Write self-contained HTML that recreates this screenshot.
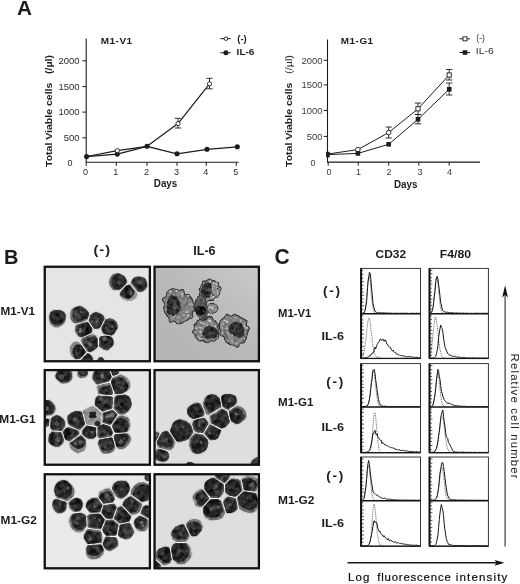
<!DOCTYPE html>
<html lang="en">
<head>
<meta charset="utf-8">
<title>Figure</title>
<style>
html,body{margin:0;padding:0;background:#fff;}
body{width:520px;height:584px;overflow:hidden;font-family:'Liberation Sans', Arial, sans-serif;}
svg{display:block;}
svg text{font-family:"Liberation Sans",Arial,sans-serif;}
</style>
</head>
<body>
<svg width="520" height="584" viewBox="0 0 520 584">
<defs>
<filter id="soft" x="-5%" y="-5%" width="110%" height="110%"><feGaussianBlur stdDeviation="0.45"/></filter>
<linearGradient id="bg2" x1="0" y1="1" x2="1" y2="0"><stop offset="0" stop-color="#b4b4b4"/><stop offset="0.55" stop-color="#bababa"/><stop offset="1" stop-color="#cacaca"/></linearGradient>
<filter id="tex2" x="-2%" y="-2%" width="104%" height="104%" color-interpolation-filters="sRGB">
<feGaussianBlur in="SourceGraphic" stdDeviation="0.4" result="b"/>
<feTurbulence type="fractalNoise" baseFrequency="0.3" numOctaves="2" seed="9" result="n"/>
<feColorMatrix in="n" type="matrix" values="1 0 0 0 0 1 0 0 0 0 1 0 0 0 0 0 0 0 0 1" result="g"/>
<feComposite in="b" in2="g" operator="arithmetic" k1="0" k2="1" k3="0.36" k4="-0.18" result="m"/>
<feComposite in="m" in2="b" operator="in"/>
</filter>
<filter id="tex" x="0" y="0" width="100%" height="100%" color-interpolation-filters="sRGB">
<feGaussianBlur in="SourceGraphic" stdDeviation="0.55" result="b"/>
<feTurbulence type="fractalNoise" baseFrequency="0.2" numOctaves="2" seed="4" result="n"/>
<feColorMatrix in="n" type="matrix" values="1 0 0 0 0 1 0 0 0 0 1 0 0 0 0 0 0 0 0 1" result="g"/>
<feComposite in="b" in2="g" operator="arithmetic" k1="0" k2="1" k3="0.4" k4="-0.2" result="m"/>
<feComposite in="m" in2="b" operator="in"/>
</filter>
</defs>
<rect width="520" height="584" fill="#fff"/>
<text transform="translate(17.1 15) scale(0.989 1)" font-size="21" font-weight="bold" fill="#1c1c1c">A</text>
<path d="M86.2 38.5V162.3H238.5" fill="none" stroke="#1c1c1c" stroke-width="1.1"/>
<path d="M82.4 60.8H86.2" stroke="#1c1c1c" stroke-width="1"/>
<text transform="translate(79.60000000000001 64.0) scale(1.040 1)" font-size="9.1" text-anchor="end" fill="#2a2a2a">2000</text>
<path d="M82.4 86.6H86.2" stroke="#1c1c1c" stroke-width="1"/>
<text transform="translate(79.60000000000001 89.8) scale(1.040 1)" font-size="9.1" text-anchor="end" fill="#2a2a2a">1500</text>
<path d="M82.4 112.1H86.2" stroke="#1c1c1c" stroke-width="1"/>
<text transform="translate(79.60000000000001 115.3) scale(1.040 1)" font-size="9.1" text-anchor="end" fill="#2a2a2a">1000</text>
<path d="M82.4 137.8H86.2" stroke="#1c1c1c" stroke-width="1"/>
<text transform="translate(79.60000000000001 141.0) scale(1.040 1)" font-size="9.1" text-anchor="end" fill="#2a2a2a">500</text>
<text transform="translate(72.60000000000001 166.3)" font-size="9" text-anchor="end" fill="#2a2a2a">0</text>
<path d="M86.2 162.3V165.9" stroke="#1c1c1c" stroke-width="1"/>
<text transform="translate(85.60000000000001 174.9)" font-size="9" text-anchor="middle" fill="#2a2a2a">0</text>
<path d="M116.3 162.3V165.9" stroke="#1c1c1c" stroke-width="1"/>
<text transform="translate(115.7 174.9)" font-size="9" text-anchor="middle" fill="#2a2a2a">1</text>
<path d="M147 162.3V165.9" stroke="#1c1c1c" stroke-width="1"/>
<text transform="translate(146.4 174.9)" font-size="9" text-anchor="middle" fill="#2a2a2a">2</text>
<path d="M177 162.3V165.9" stroke="#1c1c1c" stroke-width="1"/>
<text transform="translate(176.4 174.9)" font-size="9" text-anchor="middle" fill="#2a2a2a">3</text>
<path d="M206.3 162.3V165.9" stroke="#1c1c1c" stroke-width="1"/>
<text transform="translate(205.70000000000002 174.9)" font-size="9" text-anchor="middle" fill="#2a2a2a">4</text>
<path d="M236.3 162.3V165.9" stroke="#1c1c1c" stroke-width="1"/>
<text transform="translate(235.70000000000002 174.9)" font-size="9" text-anchor="middle" fill="#2a2a2a">5</text>
<text transform="translate(100.7 44.1) scale(1.072 1)" font-size="9.3" font-weight="bold" letter-spacing="0.5" fill="#1c1c1c">M1-V1</text>
<text transform="translate(153.8 186.9) scale(0.983 1)" font-size="10" font-weight="bold" fill="#1c1c1c">Days</text>
<text transform="translate(52 167) rotate(-90) scale(1.109 1)" font-size="9.5" font-weight="bold" fill="#1c1c1c">Total Viable cells</text>
<text transform="translate(52 74) rotate(-90) scale(1.174 1)" font-size="9" font-weight="bold" fill="#1c1c1c">(/µl)</text>
<path d="M86.6 156.5L117.3 150.7L147 146.3L178 123.6L209.5 83.8" fill="none" stroke="#1c1c1c" stroke-width="1.2" stroke-linejoin="round"/>
<path d="M86.6 156.6L117.3 154.1L147 146.3L177 153.8L207 149.3L237.3 146.8" fill="none" stroke="#1c1c1c" stroke-width="1.2" stroke-linejoin="round"/>
<path d="M178 118.3V128M174.8 118.3H181.2M174.8 128H181.2" stroke="#1c1c1c" stroke-width="0.9" fill="none"/>
<path d="M209.5 78.3V88.8M206.3 78.3H212.7M206.3 88.8H212.7" stroke="#1c1c1c" stroke-width="0.9" fill="none"/>
<circle cx="86.6" cy="156.6" r="2.55" fill="#1c1c1c"/>
<circle cx="117.3" cy="154.1" r="2.55" fill="#1c1c1c"/>
<circle cx="147" cy="146.3" r="2.55" fill="#1c1c1c"/>
<circle cx="177" cy="153.8" r="2.55" fill="#1c1c1c"/>
<circle cx="207" cy="149.3" r="2.55" fill="#1c1c1c"/>
<circle cx="237.3" cy="146.8" r="2.55" fill="#1c1c1c"/>
<circle cx="117.3" cy="150.7" r="2.1" fill="#fff" stroke="#1c1c1c" stroke-width="0.9"/>
<circle cx="178" cy="123.6" r="2.1" fill="#fff" stroke="#1c1c1c" stroke-width="0.9"/>
<circle cx="209.5" cy="83.8" r="2.1" fill="#fff" stroke="#1c1c1c" stroke-width="0.9"/>
<path d="M220.3 38.7H230.8M220.3 52.8H230.8" stroke="#1c1c1c" stroke-width="1"/>
<circle cx="225.9" cy="38.7" r="1.8000000000000003" fill="#fff" stroke="#1c1c1c" stroke-width="0.9"/>
<circle cx="225.9" cy="52.8" r="2.5" fill="#1c1c1c"/>
<text transform="translate(237.2 41.6) scale(1.011 1)" font-size="9.5" font-weight="bold" fill="#1c1c1c">(-)</text>
<text transform="translate(236.6 55.3) scale(1.054 1)" font-size="9.5" font-weight="bold" fill="#1c1c1c">IL-6</text>
<path d="M327.5 39.5V162.1H480" fill="none" stroke="#1c1c1c" stroke-width="1.1"/>
<path d="M323.7 60.3H327.5" stroke="#1c1c1c" stroke-width="1"/>
<text transform="translate(322.5 63.5) scale(1.040 1)" font-size="9.1" text-anchor="end" fill="#3c3c3c">2000</text>
<path d="M323.7 84.9H327.5" stroke="#1c1c1c" stroke-width="1"/>
<text transform="translate(322.5 88.10000000000001) scale(1.040 1)" font-size="9.1" text-anchor="end" fill="#3c3c3c">1500</text>
<path d="M323.7 110.4H327.5" stroke="#1c1c1c" stroke-width="1"/>
<text transform="translate(322.5 113.60000000000001) scale(1.040 1)" font-size="9.1" text-anchor="end" fill="#3c3c3c">1000</text>
<path d="M323.7 136.4H327.5" stroke="#1c1c1c" stroke-width="1"/>
<text transform="translate(322.5 139.6) scale(1.040 1)" font-size="9.1" text-anchor="end" fill="#3c3c3c">500</text>
<text transform="translate(315.5 165.5)" font-size="9" text-anchor="end" fill="#3c3c3c">0</text>
<path d="M328.2 162.1V165.7" stroke="#1c1c1c" stroke-width="1"/>
<text transform="translate(328.9 174.9)" font-size="9" text-anchor="middle" fill="#3c3c3c">0</text>
<path d="M358.2 162.1V165.7" stroke="#1c1c1c" stroke-width="1"/>
<text transform="translate(358.4 174.9)" font-size="9" text-anchor="middle" fill="#3c3c3c">1</text>
<path d="M388.7 162.1V165.7" stroke="#1c1c1c" stroke-width="1"/>
<text transform="translate(389 174.9)" font-size="9" text-anchor="middle" fill="#3c3c3c">2</text>
<path d="M418.8 162.1V165.7" stroke="#1c1c1c" stroke-width="1"/>
<text transform="translate(420 174.9)" font-size="9" text-anchor="middle" fill="#3c3c3c">3</text>
<path d="M449.2 162.1V165.7" stroke="#1c1c1c" stroke-width="1"/>
<text transform="translate(449.6 174.9)" font-size="9" text-anchor="middle" fill="#3c3c3c">4</text>
<text transform="translate(340.8 44.1) scale(1.062 1)" font-size="9.3" font-weight="bold" letter-spacing="0.5" fill="#1c1c1c">M1-G1</text>
<text transform="translate(394 187.5) scale(0.983 1)" font-size="10" font-weight="bold" fill="#1c1c1c">Days</text>
<text transform="translate(291.5 167) rotate(-90) scale(1.109 1)" font-size="9.5" font-weight="bold" fill="#1c1c1c">Total Viable cells</text>
<text transform="translate(291.5 74) rotate(-90) scale(1.212 1)" font-size="9" fill="#1c1c1c">(/µl)</text>
<path d="M327.9 154L357.9 149.6L388.7 132.5L418 108.8L449.2 75" fill="none" stroke="#1c1c1c" stroke-width="1.0" stroke-linejoin="round"/>
<path d="M327.9 154.6L357.9 153.4L388.7 144.3L418 119.3L449.2 89.3" fill="none" stroke="#1c1c1c" stroke-width="1.0" stroke-linejoin="round"/>
<path d="M388.7 127V138M385.5 127H391.9M385.5 138H391.9" stroke="#1c1c1c" stroke-width="0.9" fill="none"/>
<path d="M418 103V114.5M414.8 103H421.2M414.8 114.5H421.2" stroke="#1c1c1c" stroke-width="0.9" fill="none"/>
<path d="M449.2 69.5V80M446.0 69.5H452.4M446.0 80H452.4" stroke="#1c1c1c" stroke-width="0.9" fill="none"/>
<path d="M418 114.5V123.8M414.8 114.5H421.2M414.8 123.8H421.2" stroke="#1c1c1c" stroke-width="0.9" fill="none"/>
<path d="M449.2 83V95M446.0 83H452.4M446.0 95H452.4" stroke="#1c1c1c" stroke-width="0.9" fill="none"/>
<circle cx="357.9" cy="149.6" r="2.3000000000000003" fill="#fff" stroke="#1c1c1c" stroke-width="0.9"/>
<circle cx="388.7" cy="132.5" r="2.3000000000000003" fill="#fff" stroke="#1c1c1c" stroke-width="0.9"/>
<rect x="415.9" y="106.7" width="4.2" height="4.2" fill="#fff" stroke="#1c1c1c" stroke-width="0.9"/>
<rect x="447.09999999999997" y="72.9" width="4.2" height="4.2" fill="#fff" stroke="#1c1c1c" stroke-width="0.9"/>
<rect x="355.59999999999997" y="151.1" width="4.6" height="4.6" fill="#1c1c1c"/>
<rect x="386.4" y="142.0" width="4.6" height="4.6" fill="#1c1c1c"/>
<rect x="415.7" y="117.0" width="4.6" height="4.6" fill="#1c1c1c"/>
<rect x="446.9" y="87.0" width="4.6" height="4.6" fill="#1c1c1c"/>
<rect x="326.1" y="151.8" width="3.6" height="5.6" fill="#1c1c1c"/>
<path d="M459.5 38.8H470M459.5 52.5H470" stroke="#1c1c1c" stroke-width="1"/>
<rect x="463.0" y="36.8" width="4.0" height="4.0" fill="#fff" stroke="#1c1c1c" stroke-width="0.9"/>
<rect x="462.7" y="50.2" width="4.6" height="4.6" fill="#1c1c1c"/>
<text transform="translate(476.3 41.2) scale(0.967 1)" font-size="9" fill="#333">(-)</text>
<text transform="translate(475.8 54.2) scale(1.100 1)" font-size="9.5" fill="#333">IL-6</text>
<text transform="translate(4.1 264.1)" font-size="20" font-weight="bold" fill="#1c1c1c">B</text>
<text transform="translate(93.4 254.1) scale(1.072 1)" font-size="13.5" font-weight="bold" letter-spacing="1" fill="#1c1c1c">(-)</text>
<text transform="translate(193.2 255) scale(1.050 1)" font-size="12" font-weight="bold" fill="#1c1c1c">IL-6</text>
<text transform="translate(0.6 315) scale(1.105 1)" font-size="10.6" font-weight="bold" fill="#1c1c1c">M1-V1</text>
<text transform="translate(-0.7 422.5) scale(1.100 1)" font-size="10.8" font-weight="bold" fill="#1c1c1c">M1-G1</text>
<text transform="translate(0.5 524.4) scale(1.103 1)" font-size="10.8" font-weight="bold" fill="#1c1c1c">M1-G2</text>
<clipPath id="p1"><rect x="44.75" y="266.75" width="105.15" height="94.5"/></clipPath>
<rect x="44.75" y="266.75" width="105.15" height="94.5" fill="#e5e5e5"/>
<g clip-path="url(#p1)"><g filter="url(#tex)">
<path d="M126.8 283.0L126.7 280.4L126.3 278.9L125.5 277.6L124.5 276.4L123.2 275.3L120.8 273.9L119.2 273.3L117.7 273.0L116.4 273.0L114.8 273.4L113.4 274.1L112.1 275.3L110.4 277.6L109.7 278.9L109.2 280.5L109.0 282.0L109.1 283.5L109.5 285.0L110.1 286.5L110.9 287.8L111.8 288.8L113.1 289.7L114.6 290.3L116.2 290.5L119.2 290.0L120.7 289.5L126.5 283.6ZM139.1 292.4L140.5 292.4L142.1 292.0L143.4 291.3L145.4 289.5L146.4 288.2L147.0 286.9L147.4 285.5L147.4 284.1L147.2 282.7L146.2 280.2L145.4 279.1L144.4 278.1L143.3 277.4L141.8 276.8L139.3 276.4L137.8 276.4L136.3 276.6L134.9 277.0L133.9 277.6L132.8 278.6L131.9 279.9L131.3 281.2L131.0 283.3L131.3 284.0L137.8 292.0ZM120.0 292.7L119.9 294.2L120.1 295.8L120.8 297.2L121.9 298.4L124.7 299.9L127.3 300.9L128.9 301.3L130.2 301.3L131.6 301.0L133.0 300.3L134.2 299.4L136.3 297.0L137.0 295.6L137.3 294.2L137.3 293.3L137.1 292.5L130.5 284.6L130.1 284.3L129.5 284.2L127.4 284.7L126.3 285.2L120.6 290.9ZM66.2 318.3L66.2 316.7L65.8 315.0L65.2 313.5L64.2 312.3L63.0 311.2L61.6 310.6L60.2 310.1L57.3 309.8L54.2 309.9L52.9 310.3L51.5 311.1L50.4 312.3L49.6 313.7L49.1 315.1L48.9 316.8L48.9 319.6L49.3 321.0L50.6 323.7L51.7 325.1L52.8 326.1L54.2 327.0L55.8 327.4L57.5 327.5L59.0 327.0L60.3 326.3L62.6 324.5L64.5 322.5L65.3 321.2L65.9 319.8ZM88.7 312.2L87.6 310.8L85.4 308.6L82.7 306.8L81.2 306.2L79.8 306.1L78.2 306.2L76.4 306.6L74.9 307.2L73.4 308.0L72.1 309.2L71.1 310.6L70.5 312.2L70.2 313.8L70.3 317.0L70.7 318.8L71.4 320.3L72.4 321.7L73.7 322.7L76.0 323.6L76.6 323.6L86.9 320.6L87.3 320.3L87.6 319.8L89.3 314.2L89.3 313.4ZM88.5 320.2L88.6 321.1L93.6 328.4L94.3 328.8L94.9 328.9L96.6 329.0L99.3 328.4L100.2 327.7L104.6 319.0L104.7 318.3L104.0 316.3L103.0 315.1L100.7 313.3L97.9 312.2L96.6 312.1L95.1 312.1L93.7 312.5L92.4 313.2L90.2 315.1ZM101.5 329.7L102.5 332.4L103.4 333.6L104.1 334.0L111.1 335.5L111.7 335.5L113.4 334.5L114.5 333.4L116.8 329.7L117.4 328.4L117.7 326.9L117.7 325.4L117.4 323.9L116.7 322.6L114.9 320.4L113.6 319.5L112.3 318.8L110.8 318.4L109.3 318.3L107.8 318.5L106.2 319.0L105.4 319.6L101.3 327.4L101.2 328.1ZM75.0 329.1L75.5 332.1L76.2 333.7L77.1 335.0L78.1 335.9L79.5 336.8L81.1 337.5L91.0 333.4L91.6 332.8L91.9 332.1L92.3 330.6L92.4 329.1L92.2 328.0L88.1 322.0L87.5 321.6L86.9 321.6L75.8 325.0L75.2 326.2ZM87.2 351.5L88.0 352.0L89.7 352.2L91.3 351.8L92.8 351.1L95.2 349.4L96.5 348.3L97.9 346.7L98.0 346.1L97.9 338.9L96.7 336.8L95.7 335.6L94.3 334.7L92.8 334.0L91.9 334.0L82.1 338.3L81.5 339.0L80.9 341.7L81.1 342.5ZM104.6 335.6L101.8 335.9L100.4 336.5L99.2 337.7L99.0 338.3L99.0 345.4L99.3 346.2L100.3 347.3L103.2 349.6L104.6 350.3L105.6 350.5L107.0 350.4L108.4 349.9L109.7 349.1L111.5 347.5L112.5 346.4L113.2 345.2L113.7 343.9L113.8 342.5L113.7 341.3L113.2 339.8L112.6 338.6L111.7 337.5L110.7 336.6L109.9 336.3L107.1 335.7ZM78.1 341.8L76.6 341.6L75.0 341.8L73.5 342.5L72.3 343.5L71.3 344.7L70.5 346.1L70.0 347.5L69.8 348.9L69.8 350.6L70.5 353.2L71.6 355.8L72.4 357.0L73.5 358.1L74.8 358.9L76.6 359.4L78.1 359.3L79.6 359.0L80.5 358.6L86.2 352.5L86.1 351.5L80.1 342.7L79.6 342.3ZM81.7 358.7L81.4 359.6L82.2 362.5L83.5 364.2L85.1 365.1L88.3 365.6L90.4 365.1L91.5 364.3L92.6 362.5L93.1 359.6L92.7 357.4L92.3 356.5L91.0 355.0L89.5 353.7L88.5 353.3L87.3 353.2L86.8 353.4ZM104.2 361.0L103.8 359.2L103.1 358.1L101.8 357.3L99.9 357.0L99.0 357.3L98.0 358.2L96.9 360.3L96.6 361.5L97.1 362.9L97.9 363.9L99.0 364.7L100.4 364.9L102.3 364.3L103.4 363.6L104.1 362.5Z" fill="#f6f6f6" stroke="#f6f6f6" stroke-width="1.5" stroke-linejoin="round"/>
<path d="M126.8 283.0L126.7 280.4L126.3 278.9L125.5 277.6L124.5 276.4L123.2 275.3L120.8 273.9L119.2 273.3L117.7 273.0L116.4 273.0L114.8 273.4L113.4 274.1L112.1 275.3L110.4 277.6L109.7 278.9L109.2 280.5L109.0 282.0L109.1 283.5L109.5 285.0L110.1 286.5L110.9 287.8L111.8 288.8L113.1 289.7L114.6 290.3L116.2 290.5L119.2 290.0L120.7 289.5L126.5 283.6Z" fill="#666"/>
<path d="M119.2 273.8L118.0 273.8L116.7 274.2L115.5 274.8L114.4 275.8L112.7 278.0L112.0 279.2L111.6 280.7L111.4 282.1L111.5 283.4L112.4 286.1L113.1 287.3L114.0 288.3L115.1 289.0L116.4 289.5L117.8 289.6L120.6 289.2L126.2 283.5L126.5 282.8L126.4 280.4L126.0 279.0L125.3 277.7L124.3 276.6L123.0 275.6L120.6 274.2Z" fill="#282828"/>
<ellipse cx="121.0" cy="283.1" rx="1.4" ry="1.0" fill="#4c4c4c" transform="rotate(127 121.0 283.1)"/>
<ellipse cx="119.5" cy="282.9" rx="2.0" ry="1.8" fill="#4c4c4c" transform="rotate(140 119.5 282.9)"/>
<ellipse cx="117.5" cy="283.7" rx="1.7" ry="1.7" fill="#181818" transform="rotate(38 117.5 283.7)"/>
<ellipse cx="118.4" cy="282.2" rx="2.1" ry="1.7" fill="#424242" transform="rotate(150 118.4 282.2)"/>
<path d="M139.1 292.4L140.5 292.4L142.1 292.0L143.4 291.3L145.4 289.5L146.4 288.2L147.0 286.9L147.4 285.5L147.4 284.1L147.2 282.7L146.2 280.2L145.4 279.1L144.4 278.1L143.3 277.4L141.8 276.8L139.3 276.4L137.8 276.4L136.3 276.6L134.9 277.0L133.9 277.6L132.8 278.6L131.9 279.9L131.3 281.2L131.0 283.3L131.3 284.0L137.8 292.0Z" fill="#525252"/>
<path d="M140.5 290.9L141.9 290.5L143.1 289.9L144.9 288.3L145.8 287.2L146.4 286.0L146.7 284.8L146.8 283.4L146.6 282.1L145.7 280.1L145.2 279.3L144.2 278.3L143.1 277.6L141.7 277.0L139.2 276.7L136.4 276.9L135.1 277.3L133.5 278.4L132.8 279.5L132.2 280.8L132.0 282.4L132.1 282.8L138.4 290.5L139.3 290.9Z" fill="#2e2e2e"/>
<ellipse cx="138.2" cy="283.4" rx="1.4" ry="1.1" fill="#3a3a3a" transform="rotate(158 138.2 283.4)"/>
<ellipse cx="137.5" cy="281.7" rx="1.8" ry="1.7" fill="#3a3a3a" transform="rotate(174 137.5 281.7)"/>
<ellipse cx="139.7" cy="282.7" rx="1.8" ry="1.4" fill="#424242" transform="rotate(102 139.7 282.7)"/>
<path d="M120.0 292.7L119.9 294.2L120.1 295.8L120.8 297.2L121.9 298.4L124.7 299.9L127.3 300.9L128.9 301.3L130.2 301.3L131.6 301.0L133.0 300.3L134.2 299.4L136.3 297.0L137.0 295.6L137.3 294.2L137.3 293.3L137.1 292.5L130.5 284.6L130.1 284.3L129.5 284.2L127.4 284.7L126.3 285.2L120.6 290.9Z" fill="#9a9a9a"/>
<path d="M120.4 295.6L120.7 296.0L123.2 297.3L125.7 298.3L127.2 298.7L128.3 298.7L129.5 298.4L130.7 297.8L131.8 297.0L133.7 294.8L134.4 293.5L134.7 291.5L134.5 291.0L129.4 284.8L128.9 284.7L127.6 285.0L126.4 285.5L121.0 291.0L120.3 292.8L120.2 294.2Z" fill="#2a2a2a"/>
<ellipse cx="130.8" cy="294.4" rx="1.3" ry="0.9" fill="#606060" transform="rotate(25 130.8 294.4)"/>
<ellipse cx="131.3" cy="292.0" rx="1.3" ry="1.1" fill="#4c4c4c" transform="rotate(38 131.3 292.0)"/>
<ellipse cx="126.1" cy="289.7" rx="2.0" ry="1.3" fill="#181818" transform="rotate(124 126.1 289.7)"/>
<path d="M66.2 318.3L66.2 316.7L65.8 315.0L65.2 313.5L64.2 312.3L63.0 311.2L61.6 310.6L60.2 310.1L57.3 309.8L54.2 309.9L52.9 310.3L51.5 311.1L50.4 312.3L49.6 313.7L49.1 315.1L48.9 316.8L48.9 319.6L49.3 321.0L50.6 323.7L51.7 325.1L52.8 326.1L54.2 327.0L55.8 327.4L57.5 327.5L59.0 327.0L60.3 326.3L62.6 324.5L64.5 322.5L65.3 321.2L65.9 319.8Z" fill="#6a6a6a"/>
<path d="M65.7 315.9L64.9 313.7L64.0 312.5L62.9 311.5L61.5 310.9L60.1 310.4L57.4 310.1L54.3 310.2L53.1 310.6L51.8 311.3L50.6 312.6L49.9 315.2L50.0 318.0L50.3 319.2L51.5 321.7L52.5 323.0L53.6 323.9L54.9 324.7L56.3 325.1L57.7 325.1L59.0 324.7L60.2 324.0L62.3 322.4L64.1 320.4L64.9 319.3L65.4 318.1Z" fill="#282828"/>
<ellipse cx="57.3" cy="314.9" rx="1.9" ry="1.2" fill="#1c1c1c" transform="rotate(5 57.3 314.9)"/>
<ellipse cx="58.5" cy="322.2" rx="1.7" ry="1.4" fill="#1c1c1c" transform="rotate(6 58.5 322.2)"/>
<path d="M88.7 312.2L87.6 310.8L85.4 308.6L82.7 306.8L81.2 306.2L79.8 306.1L78.2 306.2L76.4 306.6L74.9 307.2L73.4 308.0L72.1 309.2L71.1 310.6L70.5 312.2L70.2 313.8L70.3 317.0L70.7 318.8L71.4 320.3L72.4 321.7L73.7 322.7L76.0 323.6L76.6 323.6L86.9 320.6L87.3 320.3L87.6 319.8L89.3 314.2L89.3 313.4Z" fill="#707070"/>
<path d="M74.2 308.3L73.3 309.5L72.7 311.0L72.5 312.5L72.6 315.4L72.9 317.1L73.5 318.5L74.4 319.6L75.5 320.5L77.5 321.4L78.0 321.4L87.7 318.5L89.0 314.2L89.0 313.6L88.4 312.4L87.4 311.0L85.2 308.9L82.5 307.0L81.2 306.5L79.8 306.4L78.2 306.5L76.5 306.9L75.2 307.4Z" fill="#2e2e2e"/>
<ellipse cx="75.4" cy="314.9" rx="1.7" ry="1.4" fill="#4c4c4c" transform="rotate(128 75.4 314.9)"/>
<ellipse cx="79.2" cy="316.3" rx="2.3" ry="2.2" fill="#3a3a3a" transform="rotate(61 79.2 316.3)"/>
<ellipse cx="81.2" cy="312.2" rx="1.5" ry="1.2" fill="#606060" transform="rotate(7 81.2 312.2)"/>
<path d="M88.5 320.2L88.6 321.1L93.6 328.4L94.3 328.8L94.9 328.9L96.6 329.0L99.3 328.4L100.2 327.7L104.6 319.0L104.7 318.3L104.0 316.3L103.0 315.1L100.7 313.3L97.9 312.2L96.6 312.1L95.1 312.1L93.7 312.5L92.4 313.2L90.2 315.1Z" fill="#4a4a4a"/>
<path d="M90.1 320.6L94.8 327.6L95.7 328.0L97.3 328.0L99.6 327.5L100.1 327.1L104.3 319.0L104.3 318.2L103.7 316.6L102.9 315.4L100.9 313.9L98.3 312.9L96.0 312.8L93.6 313.7L91.7 315.3L90.1 320.0Z" fill="#2e2e2e"/>
<ellipse cx="92.8" cy="321.8" rx="2.6" ry="1.6" fill="#585858" transform="rotate(26 92.8 321.8)"/>
<ellipse cx="96.6" cy="321.3" rx="1.5" ry="1.5" fill="#606060" transform="rotate(156 96.6 321.3)"/>
<ellipse cx="97.6" cy="318.8" rx="2.1" ry="1.8" fill="#3a3a3a" transform="rotate(169 97.6 318.8)"/>
<path d="M101.5 329.7L102.5 332.4L103.4 333.6L104.1 334.0L111.1 335.5L111.7 335.5L113.4 334.5L114.5 333.4L116.8 329.7L117.4 328.4L117.7 326.9L117.7 325.4L117.4 323.9L116.7 322.6L114.9 320.4L113.6 319.5L112.3 318.8L110.8 318.4L109.3 318.3L107.8 318.5L106.2 319.0L105.4 319.6L101.3 327.4L101.2 328.1Z" fill="#4a4a4a"/>
<path d="M115.8 330.6L116.7 328.0L116.7 326.7L116.4 325.4L115.8 324.2L114.1 322.2L113.0 321.4L111.7 320.7L110.4 320.4L107.7 320.5L106.4 320.8L105.8 321.2L101.8 329.2L101.9 330.0L102.8 332.2L103.7 333.5L104.3 333.8L111.0 335.2L111.7 335.1L113.3 334.2L114.0 333.4Z" fill="#282828"/>
<ellipse cx="110.6" cy="325.8" rx="2.1" ry="1.9" fill="#424242" transform="rotate(101 110.6 325.8)"/>
<ellipse cx="106.1" cy="327.7" rx="1.3" ry="0.9" fill="#4c4c4c" transform="rotate(32 106.1 327.7)"/>
<ellipse cx="111.7" cy="327.4" rx="1.9" ry="1.2" fill="#1c1c1c" transform="rotate(152 111.7 327.4)"/>
<ellipse cx="112.0" cy="326.7" rx="1.7" ry="1.4" fill="#606060" transform="rotate(5 112.0 326.7)"/>
<path d="M75.0 329.1L75.5 332.1L76.2 333.7L77.1 335.0L78.1 335.9L79.5 336.8L81.1 337.5L91.0 333.4L91.6 332.8L91.9 332.1L92.3 330.6L92.4 329.1L92.2 328.0L88.1 322.0L87.5 321.6L86.9 321.6L75.8 325.0L75.2 326.2Z" fill="#4a4a4a"/>
<path d="M77.6 332.1L78.2 333.5L79.1 334.7L81.2 336.3L82.4 336.7L90.9 333.0L91.4 332.5L92.0 330.6L92.1 329.2L91.9 328.2L88.4 322.9L87.8 322.8L77.7 325.9L77.3 326.7L77.1 329.3Z" fill="#242424"/>
<ellipse cx="84.7" cy="329.1" rx="2.4" ry="1.7" fill="#424242" transform="rotate(74 84.7 329.1)"/>
<ellipse cx="80.4" cy="329.2" rx="1.7" ry="1.3" fill="#606060" transform="rotate(33 80.4 329.2)"/>
<ellipse cx="86.9" cy="330.4" rx="2.5" ry="2.0" fill="#1c1c1c" transform="rotate(132 86.9 330.4)"/>
<ellipse cx="80.2" cy="331.2" rx="1.9" ry="1.3" fill="#606060" transform="rotate(130 80.2 331.2)"/>
<path d="M87.2 351.5L88.0 352.0L89.7 352.2L91.3 351.8L92.8 351.1L95.2 349.4L96.5 348.3L97.9 346.7L98.0 346.1L97.9 338.9L96.7 336.8L95.7 335.6L94.3 334.7L92.8 334.0L91.9 334.0L82.1 338.3L81.5 339.0L80.9 341.7L81.1 342.5Z" fill="#666"/>
<path d="M97.2 338.4L96.3 337.4L95.1 336.5L93.9 336.0L93.3 336.0L83.8 340.0L83.4 340.4L82.9 342.7L83.0 343.3L88.8 351.7L89.7 351.9L91.2 351.6L92.6 350.9L96.3 348.1L97.5 346.6L97.7 346.0L97.6 339.3Z" fill="#282828"/>
<ellipse cx="90.6" cy="344.5" rx="2.2" ry="1.4" fill="#606060" transform="rotate(174 90.6 344.5)"/>
<ellipse cx="87.1" cy="342.3" rx="2.3" ry="2.2" fill="#424242" transform="rotate(14 87.1 342.3)"/>
<ellipse cx="89.6" cy="343.9" rx="2.3" ry="1.8" fill="#606060" transform="rotate(7 89.6 343.9)"/>
<path d="M104.6 335.6L101.8 335.9L100.4 336.5L99.2 337.7L99.0 338.3L99.0 345.4L99.3 346.2L100.3 347.3L103.2 349.6L104.6 350.3L105.6 350.5L107.0 350.4L108.4 349.9L109.7 349.1L111.5 347.5L112.5 346.4L113.2 345.2L113.7 343.9L113.8 342.5L113.7 341.3L113.2 339.8L112.6 338.6L111.7 337.5L110.7 336.6L109.9 336.3L107.1 335.7Z" fill="#4a4a4a"/>
<path d="M100.6 336.8L100.4 337.3L100.4 344.1L101.4 345.5L104.2 347.7L105.4 348.3L106.3 348.4L107.4 348.4L108.6 348.0L109.8 347.2L111.6 345.7L112.5 344.6L113.5 342.6L113.4 341.3L112.9 340.0L112.3 338.8L111.5 337.7L110.5 336.9L109.7 336.5L107.1 336.0L104.6 335.9L101.9 336.1Z" fill="#282828"/>
<ellipse cx="105.2" cy="341.0" rx="1.9" ry="1.6" fill="#181818" transform="rotate(63 105.2 341.0)"/>
<ellipse cx="104.7" cy="339.4" rx="2.5" ry="2.4" fill="#585858" transform="rotate(51 104.7 339.4)"/>
<ellipse cx="106.1" cy="342.2" rx="1.4" ry="1.0" fill="#181818" transform="rotate(171 106.1 342.2)"/>
<path d="M78.1 341.8L76.6 341.6L75.0 341.8L73.5 342.5L72.3 343.5L71.3 344.7L70.5 346.1L70.0 347.5L69.8 348.9L69.8 350.6L70.5 353.2L71.6 355.8L72.4 357.0L73.5 358.1L74.8 358.9L76.6 359.4L78.1 359.3L79.6 359.0L80.5 358.6L86.2 352.5L86.1 351.5L80.1 342.7L79.6 342.3Z" fill="#8a8a8a"/>
<path d="M78.5 344.3L77.0 344.5L75.7 345.1L74.6 345.9L73.1 348.2L72.4 350.8L72.5 352.4L73.1 354.7L74.2 357.2L75.2 358.6L76.5 359.1L78.1 359.0L79.4 358.8L80.2 358.4L85.9 352.4L85.8 351.6L81.3 345.0L79.8 344.4Z" fill="#282828"/>
<ellipse cx="78.5" cy="350.1" rx="2.2" ry="1.6" fill="#1c1c1c" transform="rotate(64 78.5 350.1)"/>
<ellipse cx="81.1" cy="347.7" rx="1.5" ry="1.1" fill="#424242" transform="rotate(124 81.1 347.7)"/>
<path d="M81.7 358.7L81.4 359.6L82.2 362.5L83.5 364.2L85.1 365.1L88.3 365.6L90.4 365.1L91.5 364.3L92.6 362.5L93.1 359.6L92.7 357.4L92.3 356.5L91.0 355.0L89.5 353.7L88.5 353.3L87.3 353.2L86.8 353.4Z" fill="#525252"/>
<path d="M82.4 361.3L83.5 362.7L85.0 363.6L87.7 363.9L89.6 363.5L90.5 362.8L91.3 361.3L91.8 358.7L91.5 356.9L91.1 356.2L90.0 354.8L88.6 353.7L87.2 353.6L82.1 358.7L81.9 359.4Z" fill="#2a2a2a"/>
<ellipse cx="87.0" cy="360.0" rx="1.6" ry="1.2" fill="#1c1c1c" transform="rotate(86 87.0 360.0)"/>
<ellipse cx="86.0" cy="359.1" rx="1.2" ry="1.0" fill="#585858" transform="rotate(75 86.0 359.1)"/>
<ellipse cx="87.1" cy="359.5" rx="2.6" ry="1.8" fill="#3a3a3a" transform="rotate(26 87.1 359.5)"/>
<ellipse cx="88.0" cy="359.9" rx="2.5" ry="1.7" fill="#4c4c4c" transform="rotate(33 88.0 359.9)"/>
<path d="M104.2 361.0L103.8 359.2L103.1 358.1L101.8 357.3L99.9 357.0L99.0 357.3L98.0 358.2L96.9 360.3L96.6 361.5L97.1 362.9L97.9 363.9L99.0 364.7L100.4 364.9L102.3 364.3L103.4 363.6L104.1 362.5Z" fill="#4e4e4e"/>
<path d="M100.6 357.4L100.2 357.5L99.5 358.2L98.5 359.9L98.4 361.0L98.7 362.0L99.4 362.8L100.3 363.3L101.3 363.4L102.8 363.0L103.6 362.5L103.8 362.1L103.9 361.0L103.6 359.4L102.9 358.4L101.8 357.6Z" fill="#2e2e2e"/>
<ellipse cx="100.4" cy="360.8" rx="1.3" ry="0.9" fill="#1c1c1c" transform="rotate(18 100.4 360.8)"/>
<ellipse cx="100.5" cy="361.0" rx="1.3" ry="0.8" fill="#585858" transform="rotate(56 100.5 361.0)"/>
<ellipse cx="102.0" cy="361.7" rx="1.8" ry="1.8" fill="#585858" transform="rotate(106 102.0 361.7)"/>
<ellipse cx="101.0" cy="360.8" rx="1.4" ry="1.2" fill="#606060" transform="rotate(28 101.0 360.8)"/>
</g></g>
<rect x="44.75" y="266.75" width="105.15" height="94.5" fill="none" stroke="#111" stroke-width="2.3"/>
<rect x="154.55" y="266.75" width="104.34999999999997" height="94.5" fill="url(#bg2)"/>
<g filter="url(#tex2)">
<path d="M193.1 301.7L192.1 298.8L190.1 296.3L189.2 294.8L188.1 294.3L185.9 294.7L184.8 294.3L184.6 294.2L184.2 291.8L183.5 289.9L183.0 289.6L181.6 289.6L180.0 290.3L178.6 290.0L177.0 289.5L173.6 288.9L171.7 288.9L170.2 289.7L167.4 291.6L166.5 293.3L166.3 295.5L165.5 296.9L163.3 297.7L162.3 298.8L162.2 299.3L163.1 301.3L164.5 303.4L164.5 304.9L163.9 306.4L163.8 307.9L164.1 311.1L167.1 316.2L168.4 317.3L169.0 318.8L169.3 321.4L170.4 322.6L174.3 321.1L174.5 321.1L175.6 322.2L176.9 323.6L178.5 324.0L181.8 323.3L183.2 322.5L184.5 321.4L187.3 320.3L188.6 319.2L190.1 318.6L191.9 318.1L192.2 317.9L193.0 316.8L193.0 316.4L192.4 314.2L192.3 312.5L192.4 312.2L194.1 311.3L194.7 310.7L194.3 309.2L194.0 305.9L194.3 304.0Z" fill="#828282" stroke="#383838" stroke-width="1.1" stroke-linejoin="round"/>
<circle cx="190.8" cy="304.0" r="0.5" fill="#c4c4c4"/>
<circle cx="184.0" cy="298.8" r="0.9" fill="#5a5a5a"/>
<circle cx="169.3" cy="295.3" r="0.7" fill="#c8c8c8"/>
<circle cx="186.6" cy="312.0" r="0.9" fill="#d8d8d8"/>
<circle cx="182.3" cy="294.0" r="0.9" fill="#d8d8d8"/>
<circle cx="189.3" cy="317.2" r="0.5" fill="#5a5a5a"/>
<circle cx="176.9" cy="290.7" r="0.8" fill="#c4c4c4"/>
<circle cx="188.1" cy="315.2" r="0.9" fill="#cdcdcd"/>
<circle cx="170.4" cy="291.5" r="0.6" fill="#666"/>
<circle cx="186.8" cy="297.0" r="0.8" fill="#606060"/>
<circle cx="184.4" cy="315.8" r="0.5" fill="#5a5a5a"/>
<circle cx="167.0" cy="297.8" r="0.8" fill="#666"/>
<circle cx="177.3" cy="315.8" r="0.7" fill="#5a5a5a"/>
<circle cx="171.6" cy="291.6" r="1.0" fill="#606060"/>
<circle cx="165.9" cy="301.7" r="1.0" fill="#606060"/>
<circle cx="166.8" cy="301.0" r="0.6" fill="#c8c8c8"/>
<circle cx="170.4" cy="291.2" r="1.0" fill="#d8d8d8"/>
<circle cx="171.2" cy="290.6" r="0.5" fill="#cdcdcd"/>
<circle cx="187.0" cy="303.0" r="0.9" fill="#5a5a5a"/>
<circle cx="176.9" cy="315.3" r="0.8" fill="#666"/>
<circle cx="191.8" cy="308.2" r="0.8" fill="#b4b4b4"/>
<circle cx="178.4" cy="296.6" r="0.7" fill="#606060"/>
<circle cx="188.5" cy="296.0" r="0.9" fill="#c4c4c4"/>
<circle cx="173.2" cy="291.1" r="0.8" fill="#666"/>
<circle cx="179.4" cy="316.7" r="0.6" fill="#cdcdcd"/>
<circle cx="170.3" cy="292.7" r="0.6" fill="#b4b4b4"/>
<circle cx="189.0" cy="313.5" r="0.5" fill="#606060"/>
<circle cx="166.3" cy="308.9" r="0.9" fill="#c4c4c4"/>
<circle cx="172.1" cy="293.4" r="0.8" fill="#666"/>
<circle cx="171.7" cy="318.6" r="0.6" fill="#cdcdcd"/>
<circle cx="188.8" cy="297.0" r="0.6" fill="#5a5a5a"/>
<circle cx="182.5" cy="310.3" r="0.7" fill="#606060"/>
<circle cx="173.8" cy="317.7" r="0.5" fill="#d8d8d8"/>
<circle cx="185.1" cy="295.8" r="0.6" fill="#606060"/>
<circle cx="188.6" cy="315.8" r="0.7" fill="#c4c4c4"/>
<circle cx="177.3" cy="317.1" r="0.6" fill="#c4c4c4"/>
<circle cx="188.3" cy="314.8" r="0.8" fill="#b4b4b4"/>
<circle cx="174.0" cy="316.4" r="0.8" fill="#cdcdcd"/>
<circle cx="182.5" cy="296.2" r="0.8" fill="#d8d8d8"/>
<circle cx="184.1" cy="315.2" r="0.9" fill="#cdcdcd"/>
<circle cx="168.2" cy="297.2" r="1.0" fill="#666"/>
<circle cx="169.7" cy="317.3" r="1.0" fill="#606060"/>
<path d="M180.2 304.5L180.4 303.1L179.9 301.8L179.2 300.8L178.4 299.8L177.8 298.5L176.9 297.6L176.1 295.8L174.8 295.5L173.4 295.9L171.9 294.8L170.5 295.3L169.4 296.5L168.7 298.1L167.9 299.3L167.6 300.7L167.1 302.0L167.0 303.3L167.7 304.7L166.7 305.8L166.2 307.2L166.6 308.4L166.7 309.9L166.8 311.5L167.2 313.1L168.3 314.2L169.3 315.3L170.9 315.0L172.1 315.7L173.4 316.3L174.6 314.9L175.7 314.3L176.9 313.9L178.0 313.4L178.8 312.3L179.6 311.2L180.1 309.9L180.5 308.6L181.6 307.4L180.7 305.8Z" fill="#2e2e2e"/>
<circle cx="175.0" cy="307.0" r="1.8" fill="#555"/>
<circle cx="173.5" cy="305.7" r="1.3" fill="#4c4c4c"/>
<circle cx="175.8" cy="306.6" r="1.8" fill="#4c4c4c"/>
<circle cx="174.8" cy="305.1" r="1.9" fill="#555"/>
<path d="M199.2 294.6L199.2 295.0L199.5 295.3L200.8 295.3L201.6 295.7L203.1 295.9L204.0 296.5L204.7 297.5L205.3 298.7L206.0 301.4L206.5 301.7L207.5 301.6L209.5 300.3L211.6 300.5L212.8 300.4L213.7 299.9L214.5 297.6L215.3 297.3L216.6 297.5L217.5 297.2L217.8 296.8L218.0 296.0L218.5 295.2L219.5 294.3L219.8 293.7L219.6 292.3L219.8 291.5L220.6 290.5L221.1 289.4L221.1 288.2L220.4 287.0L218.4 285.6L218.3 284.6L218.5 283.3L218.4 282.9L217.9 282.4L217.6 282.2L216.4 282.1L215.4 281.8L214.6 280.8L213.6 280.5L212.5 280.6L211.6 280.1L210.6 279.2L209.4 278.9L208.5 279.3L206.7 280.7L205.8 281.1L203.5 280.9L203.1 281.1L202.6 281.7L202.6 283.4L202.3 284.3L201.5 284.8L200.9 285.6L200.8 286.8L200.4 287.6L199.6 288.3L199.2 289.2L200.1 291.4L200.0 292.3Z" fill="#828282" stroke="#383838" stroke-width="1.1" stroke-linejoin="round"/>
<circle cx="214.7" cy="286.9" r="0.7" fill="#c4c4c4"/>
<circle cx="213.5" cy="283.5" r="1.0" fill="#c4c4c4"/>
<circle cx="216.6" cy="294.0" r="0.9" fill="#b4b4b4"/>
<circle cx="214.4" cy="288.2" r="0.9" fill="#666"/>
<circle cx="219.8" cy="288.8" r="0.7" fill="#b4b4b4"/>
<circle cx="217.2" cy="288.2" r="0.8" fill="#c8c8c8"/>
<circle cx="216.4" cy="283.9" r="0.8" fill="#d8d8d8"/>
<circle cx="217.6" cy="294.2" r="0.6" fill="#c8c8c8"/>
<circle cx="212.3" cy="291.4" r="0.9" fill="#666"/>
<circle cx="212.7" cy="297.6" r="0.9" fill="#b4b4b4"/>
<circle cx="216.8" cy="290.4" r="0.5" fill="#c4c4c4"/>
<circle cx="216.6" cy="294.6" r="0.5" fill="#5a5a5a"/>
<circle cx="207.1" cy="298.8" r="0.6" fill="#cdcdcd"/>
<circle cx="210.9" cy="298.4" r="0.6" fill="#c8c8c8"/>
<circle cx="212.0" cy="294.0" r="0.9" fill="#c8c8c8"/>
<circle cx="215.6" cy="283.9" r="0.8" fill="#666"/>
<circle cx="216.3" cy="288.1" r="1.0" fill="#666"/>
<circle cx="210.0" cy="282.6" r="0.5" fill="#c4c4c4"/>
<circle cx="212.5" cy="290.5" r="0.8" fill="#b4b4b4"/>
<circle cx="213.6" cy="282.9" r="0.6" fill="#cdcdcd"/>
<circle cx="214.1" cy="294.5" r="0.7" fill="#666"/>
<circle cx="212.4" cy="287.5" r="0.8" fill="#606060"/>
<circle cx="216.5" cy="287.8" r="0.8" fill="#cdcdcd"/>
<circle cx="215.9" cy="283.4" r="1.0" fill="#cdcdcd"/>
<circle cx="215.7" cy="295.1" r="0.6" fill="#d8d8d8"/>
<circle cx="217.0" cy="293.4" r="0.8" fill="#666"/>
<circle cx="213.3" cy="285.6" r="0.7" fill="#c8c8c8"/>
<circle cx="217.8" cy="293.0" r="0.9" fill="#c4c4c4"/>
<circle cx="211.8" cy="285.4" r="0.5" fill="#d8d8d8"/>
<circle cx="210.1" cy="281.4" r="0.8" fill="#cdcdcd"/>
<circle cx="214.3" cy="292.7" r="0.7" fill="#c4c4c4"/>
<circle cx="217.7" cy="294.0" r="0.6" fill="#c8c8c8"/>
<circle cx="211.9" cy="281.8" r="0.9" fill="#606060"/>
<circle cx="212.7" cy="295.4" r="0.9" fill="#5a5a5a"/>
<circle cx="217.9" cy="288.8" r="0.8" fill="#5a5a5a"/>
<circle cx="212.4" cy="288.1" r="0.9" fill="#d8d8d8"/>
<circle cx="212.1" cy="293.7" r="0.9" fill="#5a5a5a"/>
<circle cx="217.8" cy="289.9" r="0.8" fill="#c4c4c4"/>
<circle cx="213.5" cy="296.7" r="1.0" fill="#d8d8d8"/>
<circle cx="217.8" cy="289.3" r="0.9" fill="#5a5a5a"/>
<circle cx="217.4" cy="290.8" r="0.9" fill="#d8d8d8"/>
<circle cx="212.6" cy="293.4" r="0.7" fill="#666"/>
<path d="M206.3 298.0L207.2 297.7L208.3 297.7L209.3 297.6L210.0 296.5L210.1 295.1L211.0 294.6L211.2 293.4L211.3 292.4L211.4 291.4L211.2 290.4L211.6 289.4L211.9 288.2L211.8 287.0L211.1 286.1L211.1 284.5L210.6 283.2L209.4 282.9L208.5 282.2L207.3 282.5L206.3 282.6L205.3 282.8L204.5 283.8L204.0 285.0L203.3 285.4L202.3 285.6L202.2 286.8L201.6 287.5L201.3 287.8L201.2 288.1L201.1 288.2L201.1 288.2L201.0 288.3L200.9 288.3L200.9 288.4L200.5 289.3L200.3 289.6L200.9 291.1L200.9 291.2L200.9 291.3L201.0 291.4L201.0 291.5L200.9 292.4L200.9 292.5L200.9 292.6L200.8 292.6L200.6 293.2L200.8 293.8L200.8 294.4L200.8 294.4L200.9 294.4L201.0 294.4L201.1 294.5L201.2 294.5L201.9 294.8L203.3 295.0L203.3 295.1L203.4 295.1L203.5 295.1L203.6 295.1L203.6 295.2L204.5 295.8L204.6 295.9L204.7 295.9L204.7 296.0L205.4 297.0L205.5 297.1L205.5 297.2L206.0 298.1Z" fill="#2e2e2e"/>
<circle cx="206.3" cy="290.4" r="1.4" fill="#555"/>
<circle cx="204.8" cy="288.8" r="1.6" fill="#4c4c4c"/>
<circle cx="206.7" cy="292.8" r="1.9" fill="#1c1c1c"/>
<circle cx="209.5" cy="289.8" r="2.0" fill="#555"/>
<path d="M200.3 319.3L199.9 319.1L199.5 319.3L199.0 319.9L197.7 320.4L196.9 321.4L196.7 322.7L195.9 323.5L194.6 324.0L193.9 324.9L193.9 325.3L194.9 327.8L194.5 328.8L192.9 330.9L192.5 332.0L192.6 332.5L193.1 333.3L194.6 334.1L195.2 335.1L195.0 336.5L195.5 337.7L196.9 338.4L197.7 339.3L198.3 340.5L198.6 340.7L199.9 341.1L201.5 340.7L202.8 340.5L205.1 342.3L206.5 342.8L208.2 342.7L209.3 342.0L210.5 340.9L211.8 340.8L213.4 341.3L214.8 341.0L215.2 340.8L215.9 339.7L216.8 338.9L218.1 338.3L218.3 338.1L218.7 337.2L218.4 335.3L218.6 334.3L219.0 333.7L219.0 329.2L217.9 327.7L218.1 326.7L218.7 325.5L218.7 325.1L218.5 324.4L218.2 324.1L217.0 323.6L216.3 322.9L216.0 321.6L215.2 320.7L213.7 320.2L212.9 319.3L212.3 317.4L211.4 316.5L211.0 316.4L209.6 316.4L207.2 317.1L206.7 319.3L205.9 319.7L204.9 319.6L203.9 320.5L203.0 320.6L202.2 320.2L200.8 319.8Z" fill="#828282" stroke="#383838" stroke-width="1.1" stroke-linejoin="round"/>
<circle cx="201.9" cy="333.3" r="0.8" fill="#d8d8d8"/>
<circle cx="214.6" cy="325.8" r="0.6" fill="#5a5a5a"/>
<circle cx="202.5" cy="323.1" r="0.9" fill="#d8d8d8"/>
<circle cx="213.7" cy="325.8" r="0.7" fill="#666"/>
<circle cx="207.5" cy="325.0" r="0.8" fill="#c8c8c8"/>
<circle cx="213.1" cy="325.5" r="0.6" fill="#b4b4b4"/>
<circle cx="203.6" cy="338.3" r="0.8" fill="#606060"/>
<circle cx="196.3" cy="329.4" r="0.6" fill="#606060"/>
<circle cx="196.8" cy="324.9" r="0.9" fill="#606060"/>
<circle cx="214.8" cy="326.3" r="1.0" fill="#d8d8d8"/>
<circle cx="210.4" cy="321.1" r="0.8" fill="#c8c8c8"/>
<circle cx="201.5" cy="339.2" r="0.7" fill="#c8c8c8"/>
<circle cx="201.6" cy="323.0" r="1.0" fill="#c4c4c4"/>
<circle cx="200.3" cy="338.3" r="0.7" fill="#d8d8d8"/>
<circle cx="201.7" cy="321.8" r="0.9" fill="#606060"/>
<circle cx="201.3" cy="324.8" r="0.6" fill="#666"/>
<circle cx="209.1" cy="321.0" r="1.0" fill="#b4b4b4"/>
<circle cx="200.7" cy="335.2" r="0.7" fill="#b4b4b4"/>
<circle cx="201.0" cy="327.8" r="0.8" fill="#c4c4c4"/>
<circle cx="210.0" cy="320.5" r="0.8" fill="#d8d8d8"/>
<circle cx="202.2" cy="336.2" r="0.9" fill="#b4b4b4"/>
<circle cx="211.9" cy="320.8" r="0.8" fill="#606060"/>
<circle cx="204.5" cy="323.6" r="0.7" fill="#c8c8c8"/>
<circle cx="201.3" cy="332.4" r="0.8" fill="#b4b4b4"/>
<circle cx="200.7" cy="327.7" r="0.7" fill="#d8d8d8"/>
<circle cx="202.5" cy="336.8" r="0.9" fill="#5a5a5a"/>
<circle cx="199.5" cy="327.6" r="0.7" fill="#c4c4c4"/>
<circle cx="202.6" cy="337.2" r="0.7" fill="#5a5a5a"/>
<circle cx="214.6" cy="324.9" r="0.6" fill="#5a5a5a"/>
<circle cx="195.3" cy="333.1" r="0.6" fill="#cdcdcd"/>
<circle cx="199.4" cy="337.0" r="0.6" fill="#d8d8d8"/>
<circle cx="208.7" cy="319.8" r="0.7" fill="#c4c4c4"/>
<circle cx="202.3" cy="322.6" r="0.6" fill="#5a5a5a"/>
<circle cx="199.3" cy="330.0" r="0.5" fill="#606060"/>
<circle cx="196.3" cy="336.4" r="0.9" fill="#5a5a5a"/>
<circle cx="200.4" cy="332.0" r="0.8" fill="#cdcdcd"/>
<circle cx="202.6" cy="328.1" r="0.8" fill="#c4c4c4"/>
<circle cx="216.7" cy="337.5" r="1.0" fill="#b4b4b4"/>
<circle cx="196.2" cy="328.2" r="1.0" fill="#cdcdcd"/>
<circle cx="201.1" cy="322.6" r="0.8" fill="#cdcdcd"/>
<circle cx="199.7" cy="338.6" r="0.9" fill="#c8c8c8"/>
<circle cx="196.6" cy="330.0" r="0.8" fill="#5a5a5a"/>
<path d="M217.6 329.5L216.3 329.0L215.5 328.3L214.6 327.8L213.7 327.2L212.9 326.5L211.6 326.9L210.6 326.1L209.3 325.5L208.2 326.1L207.1 326.6L205.9 327.0L204.8 327.5L204.2 328.5L203.4 329.4L203.4 330.6L203.0 331.5L201.8 332.6L202.5 333.7L202.9 334.8L203.2 335.9L203.6 337.1L204.7 337.7L205.9 338.2L207.2 338.4L208.5 338.3L209.4 339.0L210.6 338.4L211.5 337.8L212.7 338.2L213.9 338.2L215.0 337.9L216.1 337.4L217.5 337.0L217.7 336.7L217.5 335.5L217.5 335.4L217.5 335.3L217.5 335.2L217.5 335.2L217.7 334.1L217.7 334.0L217.8 334.0L217.8 333.9L217.9 333.8L218.1 333.4L218.1 329.9Z" fill="#2e2e2e"/>
<circle cx="210.8" cy="332.2" r="1.8" fill="#555"/>
<circle cx="209.7" cy="333.0" r="1.2" fill="#4c4c4c"/>
<circle cx="211.5" cy="333.2" r="1.9" fill="#4c4c4c"/>
<circle cx="212.4" cy="329.4" r="1.1" fill="#1c1c1c"/>
<path d="M220.7 332.6L219.8 334.1L219.9 334.6L220.4 335.5L220.7 335.7L222.7 336.1L224.0 336.7L224.7 339.8L227.1 343.1L231.1 345.0L234.1 345.3L235.6 346.5L237.3 347.5L238.7 346.6L239.6 344.1L240.6 343.0L242.5 343.1L243.9 342.8L244.2 342.5L246.4 338.6L246.9 335.5L247.5 334.1L248.1 331.3L249.0 329.8L249.5 328.4L249.5 328.0L248.5 326.8L246.5 325.7L246.2 324.4L247.1 322.3L247.0 320.9L246.7 320.5L244.0 319.2L242.9 318.3L240.3 317.3L238.1 315.7L235.4 314.6L234.2 314.3L233.8 314.4L232.6 315.3L231.5 316.4L230.0 315.8L228.0 314.4L226.4 314.3L226.0 314.6L224.4 317.4L223.0 318.3L221.9 319.2L219.6 322.2L219.5 328.9L220.1 329.8L221.1 331.0Z" fill="#828282" stroke="#383838" stroke-width="1.1" stroke-linejoin="round"/>
<circle cx="244.5" cy="331.8" r="0.7" fill="#b4b4b4"/>
<circle cx="220.7" cy="327.9" r="0.8" fill="#666"/>
<circle cx="223.7" cy="320.3" r="0.9" fill="#5a5a5a"/>
<circle cx="222.2" cy="334.5" r="0.9" fill="#606060"/>
<circle cx="224.8" cy="318.8" r="0.8" fill="#5a5a5a"/>
<circle cx="243.9" cy="325.4" r="0.5" fill="#606060"/>
<circle cx="236.8" cy="342.8" r="0.8" fill="#c8c8c8"/>
<circle cx="229.2" cy="337.9" r="0.8" fill="#d8d8d8"/>
<circle cx="226.8" cy="317.2" r="0.6" fill="#b4b4b4"/>
<circle cx="228.9" cy="332.7" r="0.6" fill="#c4c4c4"/>
<circle cx="240.5" cy="320.8" r="1.0" fill="#c4c4c4"/>
<circle cx="226.3" cy="336.5" r="0.9" fill="#606060"/>
<circle cx="232.1" cy="342.2" r="0.7" fill="#c4c4c4"/>
<circle cx="227.0" cy="328.3" r="0.6" fill="#c8c8c8"/>
<circle cx="239.6" cy="321.8" r="1.0" fill="#d8d8d8"/>
<circle cx="238.5" cy="341.1" r="0.5" fill="#c4c4c4"/>
<circle cx="235.8" cy="345.0" r="0.6" fill="#cdcdcd"/>
<circle cx="228.7" cy="335.8" r="0.5" fill="#cdcdcd"/>
<circle cx="237.2" cy="345.2" r="0.6" fill="#606060"/>
<circle cx="223.5" cy="324.0" r="0.8" fill="#d8d8d8"/>
<circle cx="227.8" cy="338.7" r="1.0" fill="#666"/>
<circle cx="239.0" cy="321.0" r="0.8" fill="#c8c8c8"/>
<circle cx="226.8" cy="321.6" r="1.0" fill="#d8d8d8"/>
<circle cx="244.6" cy="326.0" r="0.8" fill="#cdcdcd"/>
<circle cx="247.6" cy="328.1" r="0.6" fill="#c8c8c8"/>
<circle cx="225.6" cy="334.6" r="1.0" fill="#666"/>
<circle cx="235.1" cy="338.8" r="0.6" fill="#606060"/>
<circle cx="222.6" cy="327.9" r="0.8" fill="#cdcdcd"/>
<circle cx="232.1" cy="340.3" r="0.7" fill="#cdcdcd"/>
<circle cx="229.2" cy="342.3" r="1.0" fill="#5a5a5a"/>
<circle cx="225.7" cy="328.4" r="0.5" fill="#c4c4c4"/>
<circle cx="244.3" cy="338.4" r="0.7" fill="#d8d8d8"/>
<circle cx="235.3" cy="317.6" r="0.8" fill="#c8c8c8"/>
<circle cx="224.2" cy="320.5" r="0.8" fill="#d8d8d8"/>
<circle cx="232.7" cy="335.0" r="0.9" fill="#c8c8c8"/>
<circle cx="221.8" cy="324.6" r="0.6" fill="#b4b4b4"/>
<circle cx="246.2" cy="328.3" r="0.8" fill="#b4b4b4"/>
<circle cx="244.0" cy="321.2" r="0.7" fill="#5a5a5a"/>
<circle cx="222.7" cy="333.2" r="0.9" fill="#c4c4c4"/>
<circle cx="247.0" cy="327.5" r="0.8" fill="#cdcdcd"/>
<circle cx="239.6" cy="320.8" r="0.9" fill="#606060"/>
<circle cx="236.5" cy="343.2" r="0.8" fill="#b4b4b4"/>
<path d="M243.6 328.5L243.3 327.5L242.8 326.6L242.6 325.4L242.1 324.3L241.4 323.3L240.1 323.1L239.2 322.3L238.1 321.1L236.8 321.8L235.6 322.0L234.4 322.2L233.2 322.6L232.0 323.0L231.1 323.9L230.4 324.9L229.7 326.0L228.1 326.8L228.4 328.3L228.8 329.6L228.6 330.9L229.2 332.1L229.9 333.1L231.1 333.8L232.1 334.3L233.1 334.7L233.6 335.8L234.7 336.2L235.8 335.9L236.8 337.2L238.1 337.7L239.5 337.8L240.8 337.5L242.0 336.8L243.2 336.0L244.2 335.0L244.8 333.7L243.9 331.9L244.4 330.8L244.6 329.6Z" fill="#2e2e2e"/>
<circle cx="236.4" cy="329.9" r="1.2" fill="#1c1c1c"/>
<circle cx="237.1" cy="329.9" r="1.2" fill="#1c1c1c"/>
<circle cx="234.8" cy="329.7" r="1.4" fill="#4c4c4c"/>
<circle cx="235.1" cy="327.2" r="1.6" fill="#4c4c4c"/>
<path d="M206.7 306.6L207.0 307.6L207.0 309.4L207.4 311.5L207.5 312.6L206.9 315.3L206.8 317.8L206.5 319.0L205.8 319.4L205.0 319.2L204.4 319.6L203.8 320.2L203.1 320.3L202.4 319.9L200.9 319.5L200.2 318.8L199.0 317.0L197.8 315.8L197.1 315.3L196.5 314.5L196.2 312.0L195.0 310.3L194.6 309.2L194.3 305.8L194.8 304.0L195.4 300.2L195.8 299.5L197.1 299.1L197.5 296.8L198.1 296.3L198.7 296.3L200.0 295.5L200.7 295.6L201.5 296.0L203.0 296.2L203.8 296.8L204.5 297.7L205.0 298.8L205.7 301.4L206.8 303.1L206.9 304.4L206.7 305.6Z" fill="#5a5a5a" stroke="#2c2c2c" stroke-width="0.9"/>
<ellipse cx="200.6" cy="310.6" rx="5.6" ry="4.8" fill="#1a1a1a"/>
<path d="M218.3 308.4L218.3 309.0L217.3 309.9L217.3 311.1L216.9 311.5L216.3 311.8L215.6 312.4L214.5 312.6L212.9 313.7L212.4 313.7L211.5 313.1L210.3 313.8L209.8 313.5L209.4 313.0L208.5 312.5L208.0 311.4L207.3 310.6L207.1 310.1L207.0 309.5L207.5 307.9L207.0 306.7L207.4 306.2L208.0 305.9L208.4 305.0L209.2 304.3L209.8 303.4L210.4 303.3L211.9 303.5L213.4 302.9L214.2 304.0L215.2 304.0L216.0 304.7L217.0 305.2L217.5 306.8Z" fill="#8c8c8c" stroke="#333" stroke-width="0.9"/>
<circle cx="212.2" cy="307.3" r="0.8" fill="#c8c8c8"/>
<circle cx="214.4" cy="308.8" r="0.8" fill="#555"/>
<circle cx="213.0" cy="308.6" r="0.8" fill="#555"/>
<circle cx="212.3" cy="308.5" r="0.8" fill="#d4d4d4"/>
<circle cx="209.7" cy="306.9" r="0.8" fill="#d4d4d4"/>
<circle cx="213.1" cy="308.7" r="0.8" fill="#c8c8c8"/>
<circle cx="215.3" cy="309.2" r="0.8" fill="#c8c8c8"/>
</g>
<rect x="154.55" y="266.75" width="104.34999999999997" height="94.5" fill="none" stroke="#111" stroke-width="2.3"/>
<clipPath id="p2"><rect x="44.75" y="370.1" width="105.15" height="94.64999999999998"/></clipPath>
<rect x="44.75" y="370.1" width="105.15" height="94.64999999999998" fill="#e7e7e7"/>
<g clip-path="url(#p2)"><g filter="url(#tex)">
<path d="M72.5 377.0L71.9 372.7L71.5 371.3L70.8 370.0L69.8 368.9L68.5 368.1L67.0 367.5L64.3 367.1L62.9 367.2L61.5 367.5L60.2 368.3L58.2 370.4L56.5 372.5L55.8 373.8L55.3 375.2L55.3 376.8L55.8 378.3L56.6 379.6L58.9 381.7L60.2 382.5L61.5 383.1L62.9 383.4L64.3 383.4L68.4 382.5L69.8 381.8L71.0 380.9L71.9 379.7L72.3 378.5ZM88.2 372.9L87.7 370.9L86.2 368.5L85.5 367.8L84.5 367.3L83.6 367.1L82.6 367.1L81.6 367.4L80.1 368.2L79.3 368.9L78.2 370.1L77.7 371.1L77.2 372.7L77.2 374.7L77.7 375.9L78.3 376.7L79.1 377.2L80.9 377.9L83.7 378.0L85.5 377.5L87.0 376.3L87.9 374.6ZM97.3 384.4L98.1 384.5L109.2 381.4L109.9 380.8L111.6 377.2L111.7 376.4L109.6 370.5L108.5 369.3L107.1 368.3L105.4 367.6L103.8 367.2L102.2 367.2L100.6 367.5L99.2 368.1L96.5 369.7L94.2 371.7L93.3 373.1L92.6 374.7L92.3 376.4L92.4 378.1L92.9 379.8L93.7 381.3L94.7 382.7L96.1 383.8ZM122.1 393.8L125.7 392.0L127.1 391.0L128.4 389.8L129.4 388.3L130.1 386.6L130.2 384.5L129.9 382.7L129.3 381.2L128.5 379.6L127.3 378.1L125.9 376.9L124.5 376.0L123.0 375.4L121.2 374.9L119.4 374.7L113.1 377.0L112.5 377.6L110.7 381.3L110.7 382.1L114.6 393.6L116.0 394.2L117.0 394.4ZM97.3 389.1L98.1 393.4L98.5 393.9L99.1 394.2L111.1 395.2L111.7 395.1L112.1 394.8L113.2 392.9L110.1 383.2L109.8 382.8L109.3 382.5L108.7 382.5L98.2 385.4L97.7 385.8L97.4 386.3L97.2 387.8ZM94.6 404.5L95.0 405.3L101.8 411.6L102.4 411.8L102.9 411.8L111.7 408.9L112.2 408.5L112.5 407.9L113.2 398.0L112.9 397.2L112.1 396.4L111.7 396.2L98.2 395.2L96.7 396.5L95.8 398.0L95.2 399.5L94.8 401.3ZM118.4 413.9L119.2 414.2L123.7 414.5L125.5 413.8L126.9 412.8L129.3 410.3L131.0 407.6L131.6 406.0L131.9 404.3L131.8 402.6L131.4 400.8L130.7 399.2L129.7 397.6L128.5 396.2L127.2 395.2L125.7 394.5L125.1 394.4L117.0 395.3L115.2 396.4L114.4 397.4L114.1 398.0L113.5 408.8ZM55.7 408.1L55.4 406.8L54.9 405.4L52.6 402.5L50.6 400.7L49.3 400.0L47.8 399.7L46.4 399.8L45.3 400.1L44.0 400.9L43.0 401.8L41.5 404.2L40.9 406.8L41.1 410.5L41.4 411.9L42.1 413.2L43.0 414.2L43.9 414.8L45.2 415.4L46.7 415.7L49.3 415.6L50.6 415.3L52.0 414.7L53.2 414.0L54.1 413.0L54.9 411.8L55.6 409.5ZM86.3 408.6L84.6 409.6L83.4 410.7L82.9 411.5L86.1 423.6L86.4 424.2L87.0 424.4L95.5 426.1L96.3 426.0L97.9 425.3L99.4 424.1L100.5 422.8L101.4 421.1L101.6 412.8L94.0 405.9L92.7 405.9L90.9 406.4ZM109.8 424.9L110.5 424.9L111.1 424.5L117.6 415.0L117.3 414.1L113.2 410.0L112.7 409.7L112.1 409.8L103.4 412.6L102.9 413.0L102.6 413.6L102.4 422.2L103.1 422.9ZM78.7 410.9L76.8 410.8L73.7 411.5L70.7 412.8L69.3 413.9L68.2 415.2L67.4 416.8L67.1 418.6L67.2 420.3L68.3 423.6L69.0 425.0L69.8 425.9L79.6 429.9L80.2 430.0L80.8 429.6L84.9 425.1L85.2 424.7L85.2 424.0L82.2 412.6L81.6 411.9L80.1 411.2ZM61.0 431.1L61.7 431.0L62.5 430.4L64.7 427.4L65.2 425.3L65.4 423.9L65.2 422.5L64.8 421.2L64.0 419.8L62.2 418.0L60.1 416.3L58.9 415.6L57.1 415.2L55.6 415.3L54.5 415.7L53.2 416.5L52.0 417.4L51.0 418.6L50.7 419.3L49.9 425.7L50.5 427.8L51.0 428.9L51.9 430.1L52.7 430.5ZM128.6 418.6L127.2 417.2L125.7 416.4L124.0 415.8L122.4 415.6L120.7 415.6L119.1 415.9L117.8 416.6L111.7 425.3L111.5 425.8L111.6 426.3L114.0 431.7L115.2 432.8L115.9 433.0L126.8 432.2L127.6 431.8L128.9 429.8L129.6 428.3L130.4 424.9L130.4 423.2L130.2 421.5L129.5 419.8ZM81.8 433.2L82.1 434.5L82.5 435.1L85.7 438.1L89.7 439.2L91.0 439.3L92.4 439.2L93.7 438.7L94.6 438.0L96.1 436.4L96.3 435.8L96.3 428.7L96.0 428.0L95.5 427.3L94.8 426.9L86.7 425.4L86.1 425.4L85.7 425.7L82.0 429.7L81.7 430.6ZM98.1 437.2L99.4 438.3L99.9 438.4L111.3 436.2L112.3 434.6L113.0 432.6L112.9 431.9L110.4 426.2L103.3 424.0L100.5 424.9L99.1 425.6L98.0 426.5L97.5 427.1L97.2 427.8L97.2 435.5L97.3 436.0ZM63.0 431.3L62.8 432.3L64.9 439.1L65.3 439.7L66.1 440.2L68.9 441.5L69.4 441.6L69.9 441.4L79.0 434.9L79.4 434.4L79.4 432.7L78.8 430.9L78.2 430.4L69.6 426.8L68.8 426.8L65.4 428.2ZM51.0 432.4L49.9 433.4L49.2 434.6L48.4 437.4L48.2 440.3L48.6 441.7L49.2 443.0L50.1 444.1L51.2 444.9L53.5 446.2L54.9 446.8L56.3 447.1L57.8 447.1L59.2 446.7L60.5 446.0L61.6 445.1L63.3 443.0L63.9 441.7L64.2 440.6L64.2 440.0L62.1 433.6L61.3 432.5L60.5 432.1L52.7 431.5L52.2 431.6ZM113.8 436.9L113.8 438.2L116.6 447.4L117.3 448.2L118.8 448.9L120.2 449.2L121.8 449.2L123.4 448.9L124.8 448.3L126.3 447.4L127.3 446.4L129.0 444.1L130.3 441.6L130.7 440.1L130.8 438.3L130.4 436.8L129.6 435.4L128.8 434.4L127.3 433.2L115.8 433.9L115.3 434.1L115.0 434.5L114.2 435.7ZM98.4 441.4L98.0 442.9L98.0 444.5L98.9 447.5L100.2 450.2L101.0 451.5L102.1 452.6L103.5 453.4L105.2 453.7L106.8 453.7L110.0 453.0L111.5 452.4L112.9 451.5L114.0 450.4L114.6 449.2L115.2 447.6L115.3 446.5L112.8 438.4L112.3 437.7L111.8 437.4L111.1 437.3L99.9 439.3L99.2 439.8ZM80.8 435.2L80.0 435.4L69.8 442.7L69.3 443.4L69.4 445.5L69.8 446.9L70.6 448.3L71.5 449.4L73.7 451.2L75.2 452.0L76.7 452.6L78.0 452.9L79.6 452.8L81.1 452.4L82.5 451.6L83.7 450.6L84.9 449.4L85.7 448.1L86.2 446.7L86.5 445.2L86.6 443.7L86.4 442.3L85.8 439.8L81.5 435.5ZM48.5 426.2L49.0 425.4L49.6 420.1L49.5 419.4L48.6 418.7L46.5 418.4L44.9 418.5L43.7 418.9L42.6 420.1L42.2 421.7L42.2 423.3L42.7 424.8L44.2 426.3L45.6 426.9L47.1 426.8ZM110.9 370.3L110.8 371.1L112.2 375.0L112.5 375.5L113.1 375.8L113.7 375.8L118.3 374.1L118.8 373.8L119.0 373.3L119.2 371.3L119.0 369.9L118.0 368.6L116.5 367.9L114.9 367.6L113.4 367.8L112.1 368.7Z" fill="#f6f6f6" stroke="#f6f6f6" stroke-width="1.5" stroke-linejoin="round"/>
<path d="M72.5 377.0L71.9 372.7L71.5 371.3L70.8 370.0L69.8 368.9L68.5 368.1L67.0 367.5L64.3 367.1L62.9 367.2L61.5 367.5L60.2 368.3L58.2 370.4L56.5 372.5L55.8 373.8L55.3 375.2L55.3 376.8L55.8 378.3L56.6 379.6L58.9 381.7L60.2 382.5L61.5 383.1L62.9 383.4L64.3 383.4L68.4 382.5L69.8 381.8L71.0 380.9L71.9 379.7L72.3 378.5Z" fill="#5a5a5a"/>
<path d="M70.2 372.1L69.8 370.8L69.2 369.7L68.3 368.7L67.2 368.0L66.4 367.7L64.2 367.4L62.9 367.5L61.7 367.8L60.3 368.6L58.4 370.5L56.7 372.7L56.1 373.9L55.6 375.2L55.6 376.7L55.9 377.6L56.4 378.4L58.4 380.2L60.9 381.5L63.2 381.8L67.2 380.9L68.4 380.4L69.4 379.6L70.2 378.5L70.6 377.6L70.8 376.1Z" fill="#242424"/>
<ellipse cx="67.2" cy="373.3" rx="2.0" ry="1.2" fill="#1c1c1c" transform="rotate(62 67.2 373.3)"/>
<ellipse cx="64.1" cy="375.3" rx="1.6" ry="1.6" fill="#3a3a3a" transform="rotate(22 64.1 375.3)"/>
<ellipse cx="61.5" cy="376.9" rx="2.6" ry="2.4" fill="#606060" transform="rotate(71 61.5 376.9)"/>
<path d="M88.2 372.9L87.7 370.9L86.2 368.5L85.5 367.8L84.5 367.3L83.6 367.1L82.6 367.1L81.6 367.4L80.1 368.2L79.3 368.9L78.2 370.1L77.7 371.1L77.2 372.7L77.2 374.7L77.7 375.9L78.3 376.7L79.1 377.2L80.9 377.9L83.7 378.0L85.5 377.5L87.0 376.3L87.9 374.6Z" fill="#606060"/>
<path d="M80.7 368.3L79.7 369.5L78.8 371.7L78.8 373.5L79.6 374.9L80.4 375.4L81.8 375.9L84.3 376.1L85.8 375.7L87.1 374.7L87.8 373.6L87.9 372.8L87.4 371.0L85.9 368.6L84.5 367.6L83.5 367.4L81.8 367.6Z" fill="#242424"/>
<ellipse cx="84.4" cy="372.0" rx="2.2" ry="2.1" fill="#3a3a3a" transform="rotate(160 84.4 372.0)"/>
<ellipse cx="82.6" cy="372.8" rx="2.2" ry="1.9" fill="#181818" transform="rotate(32 82.6 372.8)"/>
<ellipse cx="82.2" cy="372.8" rx="2.5" ry="2.3" fill="#3a3a3a" transform="rotate(66 82.2 372.8)"/>
<ellipse cx="82.9" cy="373.2" rx="2.3" ry="1.9" fill="#4c4c4c" transform="rotate(63 82.9 373.2)"/>
<path d="M97.3 384.4L98.1 384.5L109.2 381.4L109.9 380.8L111.6 377.2L111.7 376.4L109.6 370.5L108.5 369.3L107.1 368.3L105.4 367.6L103.8 367.2L102.2 367.2L100.6 367.5L99.2 368.1L96.5 369.7L94.2 371.7L93.3 373.1L92.6 374.7L92.3 376.4L92.4 378.1L92.9 379.8L93.7 381.3L94.7 382.7L96.1 383.8Z" fill="#4a4a4a"/>
<path d="M98.5 382.9L109.3 380.0L109.9 379.5L111.3 376.6L111.3 376.2L109.3 370.7L108.3 369.5L107.0 368.6L105.4 367.9L103.8 367.5L102.3 367.5L100.9 367.8L97.5 369.6L95.4 371.5L94.6 372.7L94.0 374.1L93.7 375.6L93.8 377.2L94.2 378.7L95.0 380.2L95.9 381.4L97.1 382.4Z" fill="#2a2a2a"/>
<ellipse cx="101.9" cy="376.0" rx="2.2" ry="1.9" fill="#181818" transform="rotate(60 101.9 376.0)"/>
<ellipse cx="102.3" cy="376.5" rx="2.2" ry="2.1" fill="#4c4c4c" transform="rotate(89 102.3 376.5)"/>
<ellipse cx="102.1" cy="375.9" rx="2.2" ry="1.8" fill="#606060" transform="rotate(85 102.1 375.9)"/>
<path d="M122.1 393.8L125.7 392.0L127.1 391.0L128.4 389.8L129.4 388.3L130.1 386.6L130.2 384.5L129.9 382.7L129.3 381.2L128.5 379.6L127.3 378.1L125.9 376.9L124.5 376.0L123.0 375.4L121.2 374.9L119.4 374.7L113.1 377.0L112.5 377.6L110.7 381.3L110.7 382.1L114.6 393.6L116.0 394.2L117.0 394.4Z" fill="#777"/>
<path d="M112.3 379.1L112.0 379.4L111.1 381.3L111.0 382.2L114.9 393.3L116.0 393.9L116.9 394.1L121.9 393.5L124.8 392.1L126.4 390.7L127.3 389.3L127.9 387.8L128.0 386.0L127.7 384.3L127.2 382.9L126.4 381.4L125.3 380.1L124.1 379.0L121.3 377.5L119.7 377.1L118.2 377.0Z" fill="#282828"/>
<ellipse cx="117.7" cy="383.2" rx="2.3" ry="1.6" fill="#3a3a3a" transform="rotate(176 117.7 383.2)"/>
<ellipse cx="119.2" cy="386.4" rx="1.5" ry="1.4" fill="#424242" transform="rotate(77 119.2 386.4)"/>
<ellipse cx="120.8" cy="388.0" rx="1.8" ry="1.2" fill="#424242" transform="rotate(113 120.8 388.0)"/>
<path d="M97.3 389.1L98.1 393.4L98.5 393.9L99.1 394.2L111.1 395.2L111.7 395.1L112.1 394.8L113.2 392.9L110.1 383.2L109.8 382.8L109.3 382.5L108.7 382.5L98.2 385.4L97.7 385.8L97.4 386.3L97.2 387.8Z" fill="#7a7a7a"/>
<path d="M100.1 393.6L100.6 394.0L111.1 394.9L111.8 394.7L112.8 393.0L112.8 392.6L110.3 385.0L109.8 384.9L99.8 387.7L99.6 388.0L99.4 389.2L99.5 390.4Z" fill="#2e2e2e"/>
<ellipse cx="110.2" cy="389.5" rx="2.3" ry="2.0" fill="#424242" transform="rotate(84 110.2 389.5)"/>
<ellipse cx="108.3" cy="388.9" rx="1.4" ry="1.3" fill="#181818" transform="rotate(125 108.3 388.9)"/>
<path d="M94.6 404.5L95.0 405.3L101.8 411.6L102.4 411.8L102.9 411.8L111.7 408.9L112.2 408.5L112.5 407.9L113.2 398.0L112.9 397.2L112.1 396.4L111.7 396.2L98.2 395.2L96.7 396.5L95.8 398.0L95.2 399.5L94.8 401.3Z" fill="#525252"/>
<path d="M110.0 408.1L110.4 407.6L111.0 398.1L110.9 397.6L110.5 397.1L110.1 397.0L98.0 396.0L97.0 396.7L96.1 398.1L95.5 399.6L95.1 401.4L95.0 404.6L95.3 405.2L101.3 410.7L101.8 410.8Z" fill="#2e2e2e"/>
<ellipse cx="101.3" cy="399.6" rx="2.1" ry="1.8" fill="#585858" transform="rotate(20 101.3 399.6)"/>
<ellipse cx="104.7" cy="403.1" rx="2.3" ry="1.5" fill="#3a3a3a" transform="rotate(94 104.7 403.1)"/>
<ellipse cx="105.9" cy="406.0" rx="2.4" ry="1.6" fill="#1c1c1c" transform="rotate(79 105.9 406.0)"/>
<path d="M118.4 413.9L119.2 414.2L123.7 414.5L125.5 413.8L126.9 412.8L129.3 410.3L131.0 407.6L131.6 406.0L131.9 404.3L131.8 402.6L131.4 400.8L130.7 399.2L129.7 397.6L128.5 396.2L127.2 395.2L125.7 394.5L125.1 394.4L117.0 395.3L115.2 396.4L114.4 397.4L114.1 398.0L113.5 408.8Z" fill="#606060"/>
<path d="M120.1 412.6L124.2 412.9L126.0 412.3L127.3 411.3L129.4 409.1L131.3 405.9L131.6 404.4L131.5 402.7L131.1 401.0L130.4 399.4L129.4 397.8L128.2 396.4L127.0 395.5L125.5 394.7L117.8 395.5L116.5 396.3L115.7 397.4L115.1 407.7L119.6 412.4Z" fill="#2e2e2e"/>
<ellipse cx="121.1" cy="405.9" rx="2.0" ry="1.8" fill="#585858" transform="rotate(64 121.1 405.9)"/>
<ellipse cx="121.9" cy="404.4" rx="2.0" ry="1.9" fill="#1c1c1c" transform="rotate(103 121.9 404.4)"/>
<ellipse cx="125.9" cy="401.5" rx="1.9" ry="1.7" fill="#181818" transform="rotate(76 125.9 401.5)"/>
<path d="M55.7 408.1L55.4 406.8L54.9 405.4L52.6 402.5L50.6 400.7L49.3 400.0L47.8 399.7L46.4 399.8L45.3 400.1L44.0 400.9L43.0 401.8L41.5 404.2L40.9 406.8L41.1 410.5L41.4 411.9L42.1 413.2L43.0 414.2L43.9 414.8L45.2 415.4L46.7 415.7L49.3 415.6L50.6 415.3L52.0 414.7L53.2 414.0L54.1 413.0L54.9 411.8L55.6 409.5Z" fill="#606060"/>
<path d="M54.2 406.5L53.6 405.2L51.6 402.5L49.7 400.8L47.8 400.0L46.5 400.1L45.5 400.4L44.2 401.1L43.2 402.0L41.8 404.3L41.2 406.8L41.4 409.7L41.7 411.0L42.2 412.0L43.0 412.9L43.8 413.5L44.9 414.0L46.4 414.2L48.6 414.2L49.9 413.9L51.1 413.4L52.1 412.8L53.6 410.9L54.3 408.6Z" fill="#242424"/>
<ellipse cx="44.5" cy="409.3" rx="1.3" ry="1.2" fill="#424242" transform="rotate(122 44.5 409.3)"/>
<ellipse cx="49.0" cy="410.6" rx="1.2" ry="1.0" fill="#3a3a3a" transform="rotate(130 49.0 410.6)"/>
<ellipse cx="47.0" cy="408.5" rx="2.1" ry="1.9" fill="#606060" transform="rotate(86 47.0 408.5)"/>
<path d="M86.3 408.6L84.6 409.6L83.4 410.7L82.9 411.5L86.1 423.6L86.4 424.2L87.0 424.4L95.5 426.1L96.3 426.0L97.9 425.3L99.4 424.1L100.5 422.8L101.4 421.1L101.6 412.8L94.0 405.9L92.7 405.9L90.9 406.4Z" fill="#949494"/>
<path d="M86.4 423.4L86.7 423.8L94.1 425.2L94.7 425.1L96.1 424.5L97.5 423.5L98.5 422.3L99.2 421.0L99.4 413.1L92.5 406.7L92.2 406.6L90.8 406.8L86.4 408.9L84.7 409.9L83.4 411.3L83.3 411.7Z" fill="#949494"/>
<path d="M109.8 424.9L110.5 424.9L111.1 424.5L117.6 415.0L117.3 414.1L113.2 410.0L112.7 409.7L112.1 409.8L103.4 412.6L102.9 413.0L102.6 413.6L102.4 422.2L103.1 422.9Z" fill="#525252"/>
<path d="M110.5 423.7L111.0 423.5L117.0 414.5L116.9 414.1L112.8 410.2L104.3 412.9L103.9 413.5L103.7 421.4L104.0 421.8Z" fill="#2a2a2a"/>
<ellipse cx="107.4" cy="416.1" rx="2.0" ry="1.5" fill="#606060" transform="rotate(136 107.4 416.1)"/>
<ellipse cx="112.3" cy="414.9" rx="2.6" ry="2.2" fill="#606060" transform="rotate(15 112.3 414.9)"/>
<ellipse cx="109.0" cy="415.5" rx="2.1" ry="1.8" fill="#606060" transform="rotate(94 109.0 415.5)"/>
<path d="M78.7 410.9L76.8 410.8L73.7 411.5L70.7 412.8L69.3 413.9L68.2 415.2L67.4 416.8L67.1 418.6L67.2 420.3L68.3 423.6L69.0 425.0L69.8 425.9L79.6 429.9L80.2 430.0L80.8 429.6L84.9 425.1L85.2 424.7L85.2 424.0L82.2 412.6L81.6 411.9L80.1 411.2Z" fill="#4e4e4e"/>
<path d="M69.2 414.7L68.5 416.3L68.2 417.7L68.3 419.3L69.3 422.5L69.9 423.7L70.6 424.4L80.1 428.3L80.6 428.1L84.6 423.7L84.7 423.2L81.9 412.8L81.3 412.1L80.0 411.5L78.6 411.2L76.8 411.1L73.9 411.7L70.8 413.1Z" fill="#2a2a2a"/>
<ellipse cx="77.5" cy="419.5" rx="2.2" ry="1.4" fill="#1c1c1c" transform="rotate(169 77.5 419.5)"/>
<ellipse cx="74.5" cy="419.1" rx="2.5" ry="2.0" fill="#585858" transform="rotate(144 74.5 419.1)"/>
<path d="M61.0 431.1L61.7 431.0L62.5 430.4L64.7 427.4L65.2 425.3L65.4 423.9L65.2 422.5L64.8 421.2L64.0 419.8L62.2 418.0L60.1 416.3L58.9 415.6L57.1 415.2L55.6 415.3L54.5 415.7L53.2 416.5L52.0 417.4L51.0 418.6L50.7 419.3L49.9 425.7L50.5 427.8L51.0 428.9L51.9 430.1L52.7 430.5Z" fill="#4e4e4e"/>
<path d="M61.3 429.5L62.0 429.0L64.0 426.2L64.5 424.4L64.6 423.2L64.5 421.8L64.1 420.7L63.6 419.8L62.0 418.2L60.0 416.5L58.8 415.9L57.0 415.5L55.8 415.6L54.6 416.0L52.4 417.5L51.5 418.8L50.8 424.7L51.3 426.7L51.7 427.7L52.4 428.6L53.1 429.0Z" fill="#282828"/>
<ellipse cx="56.9" cy="423.7" rx="2.4" ry="2.1" fill="#585858" transform="rotate(48 56.9 423.7)"/>
<ellipse cx="56.3" cy="423.6" rx="1.9" ry="1.5" fill="#606060" transform="rotate(138 56.3 423.6)"/>
<ellipse cx="56.9" cy="423.6" rx="1.9" ry="1.6" fill="#606060" transform="rotate(104 56.9 423.6)"/>
<path d="M128.6 418.6L127.2 417.2L125.7 416.4L124.0 415.8L122.4 415.6L120.7 415.6L119.1 415.9L117.8 416.6L111.7 425.3L111.5 425.8L111.6 426.3L114.0 431.7L115.2 432.8L115.9 433.0L126.8 432.2L127.6 431.8L128.9 429.8L129.6 428.3L130.4 424.9L130.4 423.2L130.2 421.5L129.5 419.8Z" fill="#707070"/>
<path d="M125.7 419.7L124.3 418.8L122.9 418.3L121.4 418.1L119.8 418.1L118.4 418.4L117.3 419.0L112.1 426.5L114.3 431.6L115.3 432.4L116.0 432.7L126.5 431.9L126.9 431.7L127.8 429.7L128.6 426.6L128.6 424.9L128.4 423.3L127.8 421.9L127.0 420.8Z" fill="#282828"/>
<ellipse cx="117.5" cy="421.7" rx="1.9" ry="1.8" fill="#181818" transform="rotate(100 117.5 421.7)"/>
<ellipse cx="116.3" cy="423.7" rx="1.5" ry="1.3" fill="#181818" transform="rotate(35 116.3 423.7)"/>
<path d="M81.8 433.2L82.1 434.5L82.5 435.1L85.7 438.1L89.7 439.2L91.0 439.3L92.4 439.2L93.7 438.7L94.6 438.0L96.1 436.4L96.3 435.8L96.3 428.7L96.0 428.0L95.5 427.3L94.8 426.9L86.7 425.4L86.1 425.4L85.7 425.7L82.0 429.7L81.7 430.6Z" fill="#5a5a5a"/>
<path d="M83.1 432.7L83.7 434.3L86.8 437.1L90.3 438.0L91.5 438.1L92.7 438.0L93.8 437.6L94.6 437.0L95.9 435.4L96.0 428.8L95.8 428.2L95.3 427.6L94.8 427.2L87.2 425.8L86.8 425.9L83.2 429.8L83.0 430.5Z" fill="#242424"/>
<ellipse cx="91.9" cy="432.1" rx="1.5" ry="1.0" fill="#585858" transform="rotate(34 91.9 432.1)"/>
<ellipse cx="86.5" cy="433.4" rx="2.1" ry="1.4" fill="#3a3a3a" transform="rotate(29 86.5 433.4)"/>
<path d="M98.1 437.2L99.4 438.3L99.9 438.4L111.3 436.2L112.3 434.6L113.0 432.6L112.9 431.9L110.4 426.2L103.3 424.0L100.5 424.9L99.1 425.6L98.0 426.5L97.5 427.1L97.2 427.8L97.2 435.5L97.3 436.0Z" fill="#5a5a5a"/>
<path d="M100.4 436.5L100.9 436.6L111.4 434.6L111.7 434.4L112.4 433.3L112.7 432.1L110.1 426.5L103.4 424.4L100.8 425.1L99.4 426.2L98.9 427.1L98.9 434.4L99.6 435.7Z" fill="#2a2a2a"/>
<ellipse cx="104.8" cy="431.4" rx="1.7" ry="1.4" fill="#1c1c1c" transform="rotate(91 104.8 431.4)"/>
<ellipse cx="104.6" cy="431.7" rx="2.0" ry="1.5" fill="#424242" transform="rotate(83 104.6 431.7)"/>
<path d="M63.0 431.3L62.8 432.3L64.9 439.1L65.3 439.7L66.1 440.2L68.9 441.5L69.4 441.6L69.9 441.4L79.0 434.9L79.4 434.4L79.4 432.7L78.8 430.9L78.2 430.4L69.6 426.8L68.8 426.8L65.4 428.2Z" fill="#606060"/>
<path d="M67.7 440.4L68.3 440.4L77.1 434.1L77.3 433.7L77.2 432.4L76.8 431.2L76.5 430.8L68.2 427.4L65.5 428.5L63.3 431.4L63.1 432.2L65.2 439.0L65.5 439.4Z" fill="#242424"/>
<ellipse cx="71.2" cy="435.0" rx="1.8" ry="1.8" fill="#3a3a3a" transform="rotate(112 71.2 435.0)"/>
<ellipse cx="71.3" cy="434.3" rx="1.4" ry="1.0" fill="#3a3a3a" transform="rotate(38 71.3 434.3)"/>
<ellipse cx="70.1" cy="433.8" rx="2.2" ry="2.0" fill="#181818" transform="rotate(150 70.1 433.8)"/>
<path d="M51.0 432.4L49.9 433.4L49.2 434.6L48.4 437.4L48.2 440.3L48.6 441.7L49.2 443.0L50.1 444.1L51.2 444.9L53.5 446.2L54.9 446.8L56.3 447.1L57.8 447.1L59.2 446.7L60.5 446.0L61.6 445.1L63.3 443.0L63.9 441.7L64.2 440.6L64.2 440.0L62.1 433.6L61.3 432.5L60.5 432.1L52.7 431.5L52.2 431.6Z" fill="#5a5a5a"/>
<path d="M50.0 434.0L49.3 435.2L48.7 437.4L48.6 440.2L48.9 441.7L49.4 442.8L50.3 443.8L51.1 444.5L53.3 445.7L55.9 446.5L57.1 446.5L58.3 446.2L59.4 445.6L60.4 444.8L62.0 442.7L62.6 441.6L62.8 440.6L60.9 434.2L60.3 433.4L59.6 433.0L52.2 432.5L50.9 433.1Z" fill="#2e2e2e"/>
<ellipse cx="58.2" cy="438.7" rx="1.9" ry="1.7" fill="#424242" transform="rotate(9 58.2 438.7)"/>
<ellipse cx="58.5" cy="439.9" rx="2.1" ry="1.6" fill="#606060" transform="rotate(121 58.5 439.9)"/>
<ellipse cx="59.0" cy="438.2" rx="1.8" ry="1.7" fill="#4c4c4c" transform="rotate(156 59.0 438.2)"/>
<path d="M113.8 436.9L113.8 438.2L116.6 447.4L117.3 448.2L118.8 448.9L120.2 449.2L121.8 449.2L123.4 448.9L124.8 448.3L126.3 447.4L127.3 446.4L129.0 444.1L130.3 441.6L130.7 440.1L130.8 438.3L130.4 436.8L129.6 435.4L128.8 434.4L127.3 433.2L115.8 433.9L115.3 434.1L115.0 434.5L114.2 435.7Z" fill="#6a6a6a"/>
<path d="M117.7 446.8L119.0 447.1L120.5 447.1L121.8 446.9L123.1 446.4L124.5 445.5L125.4 444.6L127.0 442.4L128.3 440.0L128.6 438.7L128.7 437.2L128.3 435.7L127.7 434.5L126.8 433.6L115.9 434.2L115.2 434.7L114.5 435.8L114.2 436.9L114.1 438.3L116.5 446.1L116.8 446.4Z" fill="#242424"/>
<ellipse cx="123.9" cy="438.4" rx="1.3" ry="1.2" fill="#4c4c4c" transform="rotate(119 123.9 438.4)"/>
<ellipse cx="120.9" cy="441.8" rx="2.5" ry="1.5" fill="#585858" transform="rotate(148 120.9 441.8)"/>
<ellipse cx="120.9" cy="440.1" rx="1.5" ry="1.0" fill="#606060" transform="rotate(37 120.9 440.1)"/>
<path d="M98.4 441.4L98.0 442.9L98.0 444.5L98.9 447.5L100.2 450.2L101.0 451.5L102.1 452.6L103.5 453.4L105.2 453.7L106.8 453.7L110.0 453.0L111.5 452.4L112.9 451.5L114.0 450.4L114.6 449.2L115.2 447.6L115.3 446.5L112.8 438.4L112.3 437.7L111.8 437.4L111.1 437.3L99.9 439.3L99.2 439.8Z" fill="#6e6e6e"/>
<path d="M98.8 442.5L99.7 445.5L100.8 448.0L101.6 449.1L102.7 450.2L103.9 450.8L105.2 451.1L106.8 451.1L109.8 450.5L111.2 449.9L112.3 449.2L113.3 448.1L113.9 447.0L114.4 445.5L114.5 444.7L112.6 438.6L112.2 438.0L111.6 437.7L111.0 437.6L100.1 439.6L99.4 440.1L98.9 441.1Z" fill="#2e2e2e"/>
<ellipse cx="105.3" cy="446.6" rx="2.0" ry="2.0" fill="#4c4c4c" transform="rotate(8 105.3 446.6)"/>
<ellipse cx="110.4" cy="442.5" rx="1.3" ry="1.2" fill="#4c4c4c" transform="rotate(162 110.4 442.5)"/>
<ellipse cx="106.5" cy="444.4" rx="2.3" ry="2.1" fill="#3a3a3a" transform="rotate(36 106.5 444.4)"/>
<path d="M80.8 435.2L80.0 435.4L69.8 442.7L69.3 443.4L69.4 445.5L69.8 446.9L70.6 448.3L71.5 449.4L73.7 451.2L75.2 452.0L76.7 452.6L78.0 452.9L79.6 452.8L81.1 452.4L82.5 451.6L83.7 450.6L84.9 449.4L85.7 448.1L86.2 446.7L86.5 445.2L86.6 443.7L86.4 442.3L85.8 439.8L81.5 435.5Z" fill="#8a8a8a"/>
<path d="M70.6 443.6L71.2 444.8L72.1 445.8L74.2 447.6L76.9 448.8L78.1 449.1L79.5 449.0L80.8 448.6L82.0 448.0L83.1 447.1L84.2 445.9L85.5 443.5L85.7 442.1L85.8 440.9L85.4 439.8L81.4 435.8L80.6 435.5L80.0 435.7L70.6 442.5L70.4 442.7Z" fill="#2e2e2e"/>
<ellipse cx="75.3" cy="443.6" rx="1.7" ry="1.5" fill="#606060" transform="rotate(85 75.3 443.6)"/>
<ellipse cx="79.5" cy="444.4" rx="1.7" ry="1.3" fill="#3a3a3a" transform="rotate(94 79.5 444.4)"/>
<ellipse cx="80.9" cy="441.6" rx="2.6" ry="1.7" fill="#4c4c4c" transform="rotate(1 80.9 441.6)"/>
<path d="M48.5 426.2L49.0 425.4L49.6 420.1L49.5 419.4L48.6 418.7L46.5 418.4L44.9 418.5L43.7 418.9L42.6 420.1L42.2 421.7L42.2 423.3L42.7 424.8L44.2 426.3L45.6 426.9L47.1 426.8Z" fill="#4e4e4e"/>
<path d="M46.2 418.9L45.1 419.4L44.3 420.3L44.0 421.5L44.0 422.9L44.5 424.1L45.8 425.3L46.9 425.7L48.0 425.6L48.7 425.0L49.3 419.8L48.3 419.0Z" fill="#282828"/>
<ellipse cx="47.7" cy="421.9" rx="1.4" ry="1.0" fill="#1c1c1c" transform="rotate(146 47.7 421.9)"/>
<ellipse cx="44.5" cy="421.8" rx="1.7" ry="1.4" fill="#4c4c4c" transform="rotate(20 44.5 421.8)"/>
<ellipse cx="45.9" cy="422.2" rx="1.7" ry="1.3" fill="#181818" transform="rotate(176 45.9 422.2)"/>
<path d="M110.9 370.3L110.8 371.1L112.2 375.0L112.5 375.5L113.1 375.8L113.7 375.8L118.3 374.1L118.8 373.8L119.0 373.3L119.2 371.3L119.0 369.9L118.0 368.6L116.5 367.9L114.9 367.6L113.4 367.8L112.1 368.7Z" fill="#4e4e4e"/>
<path d="M111.4 371.1L111.3 371.6L112.4 374.8L113.0 375.5L113.7 375.5L117.7 374.0L117.9 372.2L117.8 371.1L117.1 370.1L115.9 369.5L114.5 369.2L113.3 369.3L112.3 369.9Z" fill="#242424"/>
<ellipse cx="114.9" cy="372.6" rx="1.2" ry="1.0" fill="#4c4c4c" transform="rotate(60 114.9 372.6)"/>
<ellipse cx="114.9" cy="371.5" rx="1.8" ry="1.7" fill="#4c4c4c" transform="rotate(72 114.9 371.5)"/>
<ellipse cx="115.9" cy="370.9" rx="1.5" ry="0.9" fill="#1c1c1c" transform="rotate(33 115.9 370.9)"/>
</g></g>
<rect x="44.75" y="370.1" width="105.15" height="94.64999999999998" fill="none" stroke="#111" stroke-width="2.3"/>
<g filter="url(#soft)"><path d="M89.3 412.6l2.2-1.2 1.4 1 1.8-1.2 1.6 1.6-0.8 2 1.2 1.6-1.8 1.8-2.2-0.6-2.2 1-1.6-1.8 0.8-2z" fill="#1c1c1c"/><ellipse cx="97.6" cy="423.6" rx="3" ry="2.5" fill="#2a2a2a" transform="rotate(35 97.6 423.6)"/></g>
<clipPath id="p3"><rect x="154.55" y="370.1" width="104.34999999999997" height="94.64999999999998"/></clipPath>
<rect x="154.55" y="370.1" width="104.34999999999997" height="94.64999999999998" fill="#dedede"/>
<g clip-path="url(#p3)"><g filter="url(#tex)">
<path d="M215.6 394.9L213.6 394.3L211.8 394.1L209.9 394.3L208.2 395.0L206.7 396.0L205.6 397.3L204.6 398.6L203.1 401.5L202.5 403.1L202.4 404.5L206.0 413.4L206.7 414.0L208.4 414.7L209.3 414.6L220.9 407.8L221.3 407.3L221.4 406.7L219.8 398.4L218.5 396.7L217.0 395.6ZM220.9 396.9L220.7 397.8L222.2 406.0L222.5 406.5L224.2 408.2L227.2 409.7L227.7 409.8L228.3 409.7L235.9 404.8L236.4 404.2L237.0 401.4L236.7 398.6L236.2 397.2L235.3 396.0L233.9 394.9L232.5 394.4L231.1 394.1L228.5 393.9L225.7 394.0L224.2 394.3L222.9 395.0L221.9 395.8ZM193.2 419.2L193.9 419.2L203.1 416.4L203.8 415.7L204.4 414.1L204.6 412.9L204.5 412.3L201.1 403.9L200.4 403.3L199.1 402.8L197.6 402.6L196.1 402.6L194.6 402.9L193.3 403.4L190.9 404.9L188.7 406.8L187.6 408.2L187.0 409.4L186.8 411.0L187.0 412.7L187.6 414.2L188.5 415.6L189.6 416.9L191.8 418.6ZM231.1 421.3L233.6 423.1L235.1 423.7L236.7 424.0L238.3 423.9L239.9 423.4L241.5 422.5L243.8 420.6L244.9 419.4L245.7 418.0L246.2 416.4L246.3 414.7L246.1 413.1L244.7 410.1L243.8 408.8L242.7 407.8L241.4 406.9L239.9 406.4L236.5 405.8L235.9 406.0L229.0 410.3L228.6 410.9L228.5 411.5L230.6 420.5ZM210.6 422.6L211.2 423.4L220.6 428.6L221.8 428.6L223.6 428.0L225.2 427.3L226.6 426.2L227.8 425.0L229.7 422.3L229.8 421.5L227.6 411.9L227.2 411.3L224.5 409.5L222.1 408.4L221.6 408.5L210.7 414.9L210.2 415.7L210.0 416.8L210.2 420.2ZM193.5 429.3L194.2 430.3L195.2 431.4L196.2 432.1L197.5 432.6L201.5 433.1L203.4 432.7L208.3 424.3L208.4 423.3L207.9 422.2L206.4 419.9L204.4 418.2L203.2 417.5L193.8 420.2L193.2 420.7L192.6 422.0L192.1 424.6ZM186.9 421.5L183.5 419.8L181.6 419.3L179.6 419.1L177.5 419.5L175.7 420.4L174.1 421.8L172.8 423.4L171.9 425.2L170.5 428.8L170.1 431.5L170.3 432.1L176.2 440.9L176.7 441.3L177.7 441.7L179.4 441.9L181.4 441.8L185.1 440.9L188.0 439.8L188.5 439.5L193.1 433.3L193.4 432.6L193.3 431.9L191.3 425.4L189.9 423.6ZM204.6 432.8L204.5 433.7L205.0 434.8L209.2 439.8L211.2 440.4L214.0 440.3L215.4 439.9L216.7 439.2L217.8 438.3L218.7 437.1L220.3 433.3L220.9 430.6L220.8 430.0L220.3 429.5L210.6 424.2L209.8 424.4L208.9 425.1ZM189.2 441.8L189.2 445.2L190.0 448.3L190.8 450.1L191.8 451.7L193.2 453.0L194.9 453.8L196.5 454.1L198.4 454.0L200.3 453.5L203.4 452.1L204.8 451.1L206.0 449.9L207.1 448.6L207.8 447.0L208.3 445.1L208.5 443.6L208.4 441.9L207.8 439.8L204.5 435.8L203.4 435.0L201.6 434.1L194.9 433.4L194.2 433.5L189.8 439.3ZM161.3 433.0L156.8 441.6L156.7 442.2L157.0 444.3L158.0 446.9L158.6 447.4L168.1 450.3L169.2 450.2L170.9 449.7L172.3 448.7L173.3 447.4L174.0 446.0L174.9 442.9L175.0 441.4L174.9 440.7L169.2 432.2L168.8 431.8L167.4 431.2L165.6 431.0L163.9 431.4L162.6 432.1ZM158.0 448.7L156.9 449.5L155.4 451.3L154.7 452.4L154.3 453.6L154.2 454.9L154.3 456.4L154.6 457.6L155.2 458.8L155.8 459.7L156.8 460.5L158.0 461.1L159.3 461.4L163.9 461.7L165.4 461.4L166.6 460.8L167.6 459.9L168.3 459.0L168.8 457.7L169.1 456.4L169.1 455.1L168.8 453.8L167.6 451.6L166.8 450.9L159.0 448.5ZM155.0 441.2L155.9 441.1L156.2 440.7L159.6 434.0L159.7 433.5L159.6 433.0L158.9 432.4L156.6 431.6L154.9 431.7L153.3 432.5L152.2 433.9L151.7 435.5L151.7 437.3L152.3 439.0L153.4 440.3ZM194.4 466.1L194.4 464.6L193.5 463.2L192.1 462.3L190.1 461.8L188.4 462.0L187.0 462.6L185.9 463.8L185.5 465.0L185.8 466.7L186.9 468.7L187.9 469.8L189.3 470.4L190.7 470.5L191.4 470.3L192.8 469.5L193.7 468.1ZM269.5 466.1L269.2 464.4L268.6 462.9L267.8 461.5L266.6 460.2L265.4 459.3L262.7 457.9L259.9 457.0L258.3 456.9L256.7 457.1L255.2 457.7L253.8 458.7L252.6 459.8L251.6 461.2L250.9 462.7L250.5 464.2L250.3 465.9L250.5 467.5L251.1 469.3L251.9 470.7L253.9 472.9L255.2 473.8L256.6 474.4L258.2 474.7L259.7 474.8L261.4 474.6L264.3 473.9L265.7 473.2L267.1 472.3L268.2 471.0L269.0 469.5L269.4 467.8Z" fill="#f6f6f6" stroke="#f6f6f6" stroke-width="1.5" stroke-linejoin="round"/>
<path d="M215.6 394.9L213.6 394.3L211.8 394.1L209.9 394.3L208.2 395.0L206.7 396.0L205.6 397.3L204.6 398.6L203.1 401.5L202.5 403.1L202.4 404.5L206.0 413.4L206.7 414.0L208.4 414.7L209.3 414.6L220.9 407.8L221.3 407.3L221.4 406.7L219.8 398.4L218.5 396.7L217.0 395.6Z" fill="#666"/>
<path d="M208.4 395.5L207.3 396.6L206.4 398.0L205.0 400.7L204.4 402.1L204.3 403.2L207.8 411.7L208.3 412.3L209.8 412.8L210.3 412.7L220.7 406.5L221.0 406.0L219.5 398.6L218.2 396.9L216.9 395.9L215.5 395.2L213.5 394.6L211.8 394.4L210.1 394.6Z" fill="#282828"/>
<ellipse cx="213.5" cy="403.6" rx="1.5" ry="1.4" fill="#3a3a3a" transform="rotate(27 213.5 403.6)"/>
<ellipse cx="211.9" cy="404.6" rx="2.3" ry="2.0" fill="#181818" transform="rotate(89 211.9 404.6)"/>
<ellipse cx="214.6" cy="405.8" rx="1.8" ry="1.7" fill="#181818" transform="rotate(160 214.6 405.8)"/>
<path d="M220.9 396.9L220.7 397.8L222.2 406.0L222.5 406.5L224.2 408.2L227.2 409.7L227.7 409.8L228.3 409.7L235.9 404.8L236.4 404.2L237.0 401.4L236.7 398.6L236.2 397.2L235.3 396.0L233.9 394.9L232.5 394.4L231.1 394.1L228.5 393.9L225.7 394.0L224.2 394.3L222.9 395.0L221.9 395.8Z" fill="#525252"/>
<path d="M221.5 397.0L223.1 405.1L224.8 406.8L227.4 408.1L228.0 408.1L235.3 403.5L235.7 402.9L236.2 400.5L235.9 397.9L235.1 396.2L233.7 395.1L232.4 394.6L231.1 394.4L228.4 394.2L225.7 394.3L224.3 394.7L223.0 395.3L222.0 396.0Z" fill="#242424"/>
<ellipse cx="228.6" cy="403.0" rx="1.7" ry="1.4" fill="#181818" transform="rotate(76 228.6 403.0)"/>
<ellipse cx="230.0" cy="400.1" rx="2.6" ry="1.7" fill="#3a3a3a" transform="rotate(68 230.0 400.1)"/>
<ellipse cx="229.0" cy="401.3" rx="1.6" ry="1.2" fill="#424242" transform="rotate(124 229.0 401.3)"/>
<ellipse cx="229.2" cy="400.7" rx="1.6" ry="1.4" fill="#606060" transform="rotate(115 229.2 400.7)"/>
<path d="M193.2 419.2L193.9 419.2L203.1 416.4L203.8 415.7L204.4 414.1L204.6 412.9L204.5 412.3L201.1 403.9L200.4 403.3L199.1 402.8L197.6 402.6L196.1 402.6L194.6 402.9L193.3 403.4L190.9 404.9L188.7 406.8L187.6 408.2L187.0 409.4L186.8 411.0L187.0 412.7L187.6 414.2L188.5 415.6L189.6 416.9L191.8 418.6Z" fill="#525252"/>
<path d="M193.2 418.8L202.0 416.3L202.6 415.7L203.0 414.4L203.1 412.9L199.9 405.0L199.3 404.5L197.0 403.9L195.7 403.9L193.1 404.6L190.8 406.0L188.7 407.8L187.7 409.1L187.3 410.1L187.1 411.2L187.3 412.7L187.8 414.0L188.7 415.4L189.8 416.7L192.0 418.3Z" fill="#242424"/>
<ellipse cx="199.5" cy="412.2" rx="1.8" ry="1.7" fill="#181818" transform="rotate(76 199.5 412.2)"/>
<ellipse cx="194.8" cy="407.9" rx="1.4" ry="0.9" fill="#424242" transform="rotate(77 194.8 407.9)"/>
<ellipse cx="198.1" cy="413.8" rx="1.3" ry="1.1" fill="#4c4c4c" transform="rotate(101 198.1 413.8)"/>
<path d="M231.1 421.3L233.6 423.1L235.1 423.7L236.7 424.0L238.3 423.9L239.9 423.4L241.5 422.5L243.8 420.6L244.9 419.4L245.7 418.0L246.2 416.4L246.3 414.7L246.1 413.1L244.7 410.1L243.8 408.8L242.7 407.8L241.4 406.9L239.9 406.4L236.5 405.8L235.9 406.0L229.0 410.3L228.6 410.9L228.5 411.5L230.6 420.5Z" fill="#6e6e6e"/>
<path d="M239.6 423.2L242.0 421.3L242.9 420.2L243.7 419.0L244.2 417.5L244.2 416.0L244.0 414.5L242.7 411.7L241.9 410.6L240.9 409.6L239.7 408.9L238.4 408.4L235.0 408.0L229.0 411.9L230.9 420.3L231.4 421.1L233.7 422.8L235.1 423.4L236.7 423.7L238.2 423.7Z" fill="#282828"/>
<ellipse cx="240.1" cy="411.5" rx="1.2" ry="0.8" fill="#4c4c4c" transform="rotate(160 240.1 411.5)"/>
<ellipse cx="236.7" cy="414.4" rx="1.9" ry="1.6" fill="#4c4c4c" transform="rotate(178 236.7 414.4)"/>
<ellipse cx="236.9" cy="414.7" rx="2.6" ry="1.6" fill="#585858" transform="rotate(28 236.9 414.7)"/>
<ellipse cx="238.4" cy="416.1" rx="1.4" ry="0.8" fill="#181818" transform="rotate(57 238.4 416.1)"/>
<path d="M210.6 422.6L211.2 423.4L220.6 428.6L221.8 428.6L223.6 428.0L225.2 427.3L226.6 426.2L227.8 425.0L229.7 422.3L229.8 421.5L227.6 411.9L227.2 411.3L224.5 409.5L222.1 408.4L221.6 408.5L210.7 414.9L210.2 415.7L210.0 416.8L210.2 420.2Z" fill="#606060"/>
<path d="M212.3 423.4L220.9 428.2L221.9 428.3L223.5 427.8L225.0 427.0L226.4 426.0L227.6 424.8L229.4 422.0L229.5 421.4L227.4 412.7L224.9 411.0L222.7 410.0L212.1 416.2L211.6 416.9L211.5 417.7L211.7 420.9L212.1 423.0Z" fill="#2a2a2a"/>
<ellipse cx="215.6" cy="417.7" rx="2.5" ry="1.9" fill="#424242" transform="rotate(55 215.6 417.7)"/>
<ellipse cx="223.1" cy="414.4" rx="1.5" ry="1.1" fill="#424242" transform="rotate(45 223.1 414.4)"/>
<path d="M193.5 429.3L194.2 430.3L195.2 431.4L196.2 432.1L197.5 432.6L201.5 433.1L203.4 432.7L208.3 424.3L208.4 423.3L207.9 422.2L206.4 419.9L204.4 418.2L203.2 417.5L193.8 420.2L193.2 420.7L192.6 422.0L192.1 424.6Z" fill="#4a4a4a"/>
<path d="M193.7 420.7L193.5 421.0L193.1 423.3L194.4 427.5L194.9 428.4L195.8 429.4L196.8 430.0L197.9 430.5L201.5 430.9L203.0 430.6L207.7 422.5L206.1 420.1L204.3 418.4L203.2 417.9Z" fill="#2e2e2e"/>
<ellipse cx="198.7" cy="424.9" rx="2.0" ry="1.4" fill="#585858" transform="rotate(83 198.7 424.9)"/>
<ellipse cx="199.4" cy="422.5" rx="2.0" ry="1.4" fill="#606060" transform="rotate(105 199.4 422.5)"/>
<ellipse cx="204.0" cy="424.6" rx="2.2" ry="1.7" fill="#181818" transform="rotate(138 204.0 424.6)"/>
<path d="M186.9 421.5L183.5 419.8L181.6 419.3L179.6 419.1L177.5 419.5L175.7 420.4L174.1 421.8L172.8 423.4L171.9 425.2L170.5 428.8L170.1 431.5L170.3 432.1L176.2 440.9L176.7 441.3L177.7 441.7L179.4 441.9L181.4 441.8L185.1 440.9L188.0 439.8L188.5 439.5L193.1 433.3L193.4 432.6L193.3 431.9L191.3 425.4L189.9 423.6Z" fill="#4e4e4e"/>
<path d="M182.4 420.7L180.5 420.2L178.7 420.1L176.8 420.4L175.2 421.3L174.2 422.1L173.1 423.6L172.1 425.3L170.8 428.8L170.4 431.4L170.6 432.0L176.3 440.7L176.9 441.1L178.6 441.3L180.4 441.1L184.0 440.3L186.8 439.2L191.6 432.8L191.6 432.2L189.6 425.8L188.4 424.3L185.7 422.3Z" fill="#282828"/>
<ellipse cx="184.9" cy="427.7" rx="2.5" ry="1.5" fill="#1c1c1c" transform="rotate(155 184.9 427.7)"/>
<ellipse cx="175.8" cy="430.8" rx="2.2" ry="1.6" fill="#1c1c1c" transform="rotate(61 175.8 430.8)"/>
<ellipse cx="183.2" cy="427.4" rx="1.3" ry="1.2" fill="#606060" transform="rotate(12 183.2 427.4)"/>
<ellipse cx="178.8" cy="432.6" rx="2.2" ry="1.8" fill="#181818" transform="rotate(80 178.8 432.6)"/>
<path d="M204.6 432.8L204.5 433.7L205.0 434.8L209.2 439.8L211.2 440.4L214.0 440.3L215.4 439.9L216.7 439.2L217.8 438.3L218.7 437.1L220.3 433.3L220.9 430.6L220.8 430.0L220.3 429.5L210.6 424.2L209.8 424.4L208.9 425.1Z" fill="#4e4e4e"/>
<path d="M206.4 433.3L206.8 434.3L210.6 438.8L212.5 439.4L215.0 439.3L217.0 438.5L218.4 437.0L220.0 433.1L220.5 430.3L220.1 429.7L211.3 425.1L210.6 425.5L206.5 432.8Z" fill="#242424"/>
<ellipse cx="210.1" cy="431.7" rx="2.6" ry="2.4" fill="#4c4c4c" transform="rotate(96 210.1 431.7)"/>
<ellipse cx="212.4" cy="432.1" rx="2.6" ry="2.2" fill="#585858" transform="rotate(173 212.4 432.1)"/>
<ellipse cx="212.7" cy="431.6" rx="2.3" ry="1.6" fill="#1c1c1c" transform="rotate(156 212.7 431.6)"/>
<ellipse cx="212.7" cy="430.8" rx="2.4" ry="2.1" fill="#3a3a3a" transform="rotate(133 212.7 430.8)"/>
<path d="M189.2 441.8L189.2 445.2L190.0 448.3L190.8 450.1L191.8 451.7L193.2 453.0L194.9 453.8L196.5 454.1L198.4 454.0L200.3 453.5L203.4 452.1L204.8 451.1L206.0 449.9L207.1 448.6L207.8 447.0L208.3 445.1L208.5 443.6L208.4 441.9L207.8 439.8L204.5 435.8L203.4 435.0L201.6 434.1L194.9 433.4L194.2 433.5L189.8 439.3Z" fill="#606060"/>
<path d="M191.3 445.6L192.1 448.7L192.8 450.4L193.7 451.8L194.9 452.9L196.4 453.6L197.2 453.8L198.4 453.7L200.3 453.2L203.2 451.8L204.6 450.8L205.8 449.7L206.8 448.4L207.6 446.8L208.0 445.0L208.2 443.5L208.1 441.8L207.5 439.9L204.9 436.8L204.2 436.2L202.5 435.4L196.2 434.8L195.9 435.0L191.8 440.3L191.3 442.6Z" fill="#282828"/>
<ellipse cx="200.9" cy="442.3" rx="1.9" ry="1.3" fill="#606060" transform="rotate(93 200.9 442.3)"/>
<ellipse cx="198.6" cy="444.4" rx="2.4" ry="1.6" fill="#181818" transform="rotate(166 198.6 444.4)"/>
<path d="M161.3 433.0L156.8 441.6L156.7 442.2L157.0 444.3L158.0 446.9L158.6 447.4L168.1 450.3L169.2 450.2L170.9 449.7L172.3 448.7L173.3 447.4L174.0 446.0L174.9 442.9L175.0 441.4L174.9 440.7L169.2 432.2L168.8 431.8L167.4 431.2L165.6 431.0L163.9 431.4L162.6 432.1Z" fill="#6a6a6a"/>
<path d="M157.7 444.7L158.2 445.1L167.4 447.9L168.2 447.8L169.7 447.3L170.9 446.5L171.7 445.4L172.4 444.1L173.2 441.2L173.2 439.5L168.0 431.8L167.2 431.5L165.7 431.3L164.1 431.7L162.7 432.3L161.5 433.3L157.1 441.8L157.1 443.2Z" fill="#2e2e2e"/>
<ellipse cx="166.3" cy="441.7" rx="1.6" ry="1.2" fill="#424242" transform="rotate(169 166.3 441.7)"/>
<ellipse cx="166.6" cy="438.9" rx="1.8" ry="1.3" fill="#424242" transform="rotate(74 166.6 438.9)"/>
<ellipse cx="169.1" cy="441.1" rx="1.8" ry="1.6" fill="#181818" transform="rotate(44 169.1 441.1)"/>
<ellipse cx="165.8" cy="440.5" rx="2.2" ry="1.7" fill="#585858" transform="rotate(169 165.8 440.5)"/>
<path d="M158.0 448.7L156.9 449.5L155.4 451.3L154.7 452.4L154.3 453.6L154.2 454.9L154.3 456.4L154.6 457.6L155.2 458.8L155.8 459.7L156.8 460.5L158.0 461.1L159.3 461.4L163.9 461.7L165.4 461.4L166.6 460.8L167.6 459.9L168.3 459.0L168.8 457.7L169.1 456.4L169.1 455.1L168.8 453.8L167.6 451.6L166.8 450.9L159.0 448.5Z" fill="#525252"/>
<path d="M158.7 450.3L157.2 452.0L156.3 454.0L156.3 456.5L156.6 457.6L157.6 459.3L158.5 460.1L159.5 460.5L160.7 460.8L165.0 461.0L166.5 460.5L167.4 459.7L168.0 458.8L168.5 457.6L168.8 456.3L168.6 454.0L167.4 451.9L167.2 451.6L160.3 449.6L159.5 449.7Z" fill="#2e2e2e"/>
<ellipse cx="162.3" cy="455.1" rx="2.0" ry="1.7" fill="#424242" transform="rotate(78 162.3 455.1)"/>
<ellipse cx="161.4" cy="454.0" rx="1.7" ry="1.2" fill="#4c4c4c" transform="rotate(112 161.4 454.0)"/>
<ellipse cx="163.5" cy="456.3" rx="2.4" ry="1.6" fill="#4c4c4c" transform="rotate(74 163.5 456.3)"/>
<path d="M155.0 441.2L155.9 441.1L156.2 440.7L159.6 434.0L159.7 433.5L159.6 433.0L158.9 432.4L156.6 431.6L154.9 431.7L153.3 432.5L152.2 433.9L151.7 435.5L151.7 437.3L152.3 439.0L153.4 440.3Z" fill="#606060"/>
<path d="M157.7 434.4L157.8 434.0L157.6 433.7L155.3 432.9L154.0 433.1L152.9 433.7L152.5 434.1L152.0 435.7L152.0 437.3L152.7 438.9L153.7 440.1L154.4 440.5L154.8 440.2Z" fill="#2e2e2e"/>
<ellipse cx="155.3" cy="437.8" rx="1.6" ry="1.2" fill="#181818" transform="rotate(155 155.3 437.8)"/>
<ellipse cx="156.8" cy="435.7" rx="1.7" ry="1.1" fill="#606060" transform="rotate(158 156.8 435.7)"/>
<ellipse cx="156.3" cy="435.6" rx="2.1" ry="2.0" fill="#585858" transform="rotate(20 156.3 435.6)"/>
<path d="M194.4 466.1L194.4 464.6L193.5 463.2L192.1 462.3L190.1 461.8L188.4 462.0L187.0 462.6L185.9 463.8L185.5 465.0L185.8 466.7L186.9 468.7L187.9 469.8L189.3 470.4L190.7 470.5L191.4 470.3L192.8 469.5L193.7 468.1Z" fill="#4e4e4e"/>
<path d="M188.3 462.6L187.4 463.5L187.0 464.6L187.3 465.9L188.3 467.7L189.2 468.6L190.3 469.1L191.8 469.0L192.8 468.4L193.7 467.2L194.1 466.0L194.0 464.5L193.4 463.5L192.0 462.6L190.1 462.1L189.3 462.2Z" fill="#282828"/>
<ellipse cx="191.0" cy="466.8" rx="2.5" ry="2.3" fill="#1c1c1c" transform="rotate(106 191.0 466.8)"/>
<ellipse cx="190.4" cy="466.0" rx="1.3" ry="1.0" fill="#181818" transform="rotate(131 190.4 466.0)"/>
<path d="M269.5 466.1L269.2 464.4L268.6 462.9L267.8 461.5L266.6 460.2L265.4 459.3L262.7 457.9L259.9 457.0L258.3 456.9L256.7 457.1L255.2 457.7L253.8 458.7L252.6 459.8L251.6 461.2L250.9 462.7L250.5 464.2L250.3 465.9L250.5 467.5L251.1 469.3L251.9 470.7L253.9 472.9L255.2 473.8L256.6 474.4L258.2 474.7L259.7 474.8L261.4 474.6L264.3 473.9L265.7 473.2L267.1 472.3L268.2 471.0L269.0 469.5L269.4 467.8Z" fill="#4a4a4a"/>
<path d="M268.5 465.6L268.0 464.2L267.2 462.9L266.1 461.7L265.0 460.9L262.4 459.5L259.9 458.8L258.3 458.7L256.9 458.9L255.6 459.4L254.4 460.2L253.3 461.2L252.4 462.5L251.7 463.9L251.3 465.4L251.2 466.8L251.4 468.3L251.9 469.9L252.5 470.9L254.0 472.6L255.3 473.5L256.7 474.1L258.2 474.4L259.8 474.5L261.4 474.3L264.1 473.6L265.6 472.9L266.9 472.0L267.9 470.8L268.7 468.7L268.7 467.1Z" fill="#2a2a2a"/>
<ellipse cx="261.0" cy="465.4" rx="1.7" ry="1.5" fill="#181818" transform="rotate(30 261.0 465.4)"/>
<ellipse cx="263.1" cy="468.1" rx="2.0" ry="1.3" fill="#424242" transform="rotate(22 263.1 468.1)"/>
</g></g>
<rect x="154.55" y="370.1" width="104.34999999999997" height="94.64999999999998" fill="none" stroke="#111" stroke-width="2.3"/>
<clipPath id="p4"><rect x="44.75" y="474.25" width="105.15" height="94.04999999999995"/></clipPath>
<rect x="44.75" y="474.25" width="105.15" height="94.04999999999995" fill="#eaeaea"/>
<g clip-path="url(#p4)"><g filter="url(#tex)">
<path d="M67.1 501.3L67.7 501.3L68.2 501.1L73.0 496.9L74.0 494.7L74.5 493.0L74.6 491.0L74.4 489.2L73.8 487.5L72.9 486.0L71.8 484.6L69.2 482.2L67.7 481.2L66.0 480.4L64.1 480.0L62.1 480.1L60.3 480.6L58.6 481.6L57.2 482.7L56.0 484.1L55.0 485.7L54.4 487.4L54.2 489.4L54.3 491.2L54.9 494.4L55.9 497.3L56.6 497.9ZM53.6 500.3L52.8 501.6L52.3 502.8L52.0 504.2L52.0 505.5L52.3 506.8L53.4 508.9L54.8 511.0L55.7 511.9L56.8 512.7L58.1 513.3L59.7 513.5L61.1 513.3L62.4 512.9L63.7 512.3L64.8 511.4L65.6 510.6L66.2 509.4L66.7 507.9L66.8 504.2L66.6 502.7L66.3 502.1L56.1 498.7L55.5 498.7L55.0 498.9ZM68.4 505.1L69.1 507.3L70.6 509.4L71.5 510.2L73.4 511.4L74.6 512.0L75.5 512.1L79.4 511.5L80.5 510.7L81.4 509.5L82.4 507.3L82.9 505.0L82.9 503.8L82.7 502.5L82.2 501.3L81.5 500.2L80.6 499.3L79.6 498.6L78.4 498.1L77.1 497.9L75.9 497.9L72.6 498.7L68.8 501.7L68.6 502.1L68.3 503.0ZM129.0 484.6L128.0 483.0L126.8 481.8L125.4 481.0L123.8 480.6L120.8 480.6L117.8 481.1L116.5 481.5L115.1 482.2L113.9 483.2L113.0 484.5L112.3 486.0L111.9 488.6L112.0 489.2L116.3 496.9L116.7 497.3L117.7 498.0L119.3 498.5L120.6 498.7L122.3 498.5L124.0 497.7L126.3 495.8L128.1 493.4L129.5 490.6L129.8 489.1L129.8 487.5L129.5 485.9ZM141.4 501.9L142.2 502.1L143.2 501.9L146.5 501.1L148.1 500.3L149.5 499.1L150.5 497.6L151.2 495.8L151.6 494.0L151.7 492.1L151.6 490.3L151.3 488.5L150.6 486.8L149.5 485.3L148.2 484.1L146.7 483.1L145.1 482.4L143.4 481.9L141.6 481.8L139.8 482.0L137.9 482.7L136.5 483.7L134.0 485.9L131.8 488.8L131.0 490.5L130.7 492.8L130.9 494.2L131.3 494.8ZM107.0 488.4L104.1 489.2L101.4 490.4L100.3 491.1L99.4 492.3L98.6 493.9L98.4 496.7L98.6 497.8L103.0 503.5L103.4 503.9L104.0 503.9L112.4 502.5L113.1 502.1L113.9 500.9L115.4 497.9L115.3 497.1L111.0 489.4L110.5 488.9L109.8 488.6L108.3 488.3ZM93.3 497.8L91.9 498.2L90.4 498.8L88.1 500.5L87.0 501.8L86.2 503.2L85.8 504.7L85.8 506.2L86.2 507.7L87.7 510.2L89.5 512.2L90.3 512.8L99.4 512.5L100.0 512.2L100.4 511.7L102.5 505.2L102.5 504.7L102.3 504.2L97.8 498.3L97.2 497.9L96.1 497.7ZM130.8 496.1L129.2 496.7L127.8 497.4L125.2 499.5L124.1 500.8L123.2 502.2L122.6 503.8L122.4 505.2L131.2 514.6L131.6 514.9L132.4 515.0L135.4 514.3L136.9 513.6L138.3 512.7L139.5 511.5L140.4 510.2L141.3 507.9L141.9 505.5L141.9 504.0L141.8 503.5L141.5 503.1L131.7 496.3ZM106.3 518.4L107.8 518.9L112.1 518.5L112.7 518.2L113.0 517.7L116.6 508.0L116.5 507.2L115.7 505.4L114.7 504.0L113.8 503.4L104.2 504.9L103.7 505.1L103.3 505.6L101.2 512.8L104.6 517.3ZM113.9 518.0L113.9 518.6L114.3 519.2L118.8 523.2L119.4 523.5L120.5 523.5L128.7 521.7L129.4 521.2L130.2 520.0L130.8 518.6L131.1 516.3L130.8 515.5L122.2 506.5L121.8 506.2L120.4 506.2L118.7 506.9L118.1 507.3L117.6 507.8ZM140.8 512.8L141.2 514.2L141.9 515.1L147.6 518.0L148.4 518.1L151.6 516.8L152.5 516.2L153.4 515.4L154.0 514.0L154.2 511.9L154.0 510.6L153.3 508.6L152.6 507.7L151.8 506.9L149.6 505.9L147.6 505.4L146.2 505.3L145.3 505.4L144.2 505.8L143.3 506.6L142.6 507.3L140.9 511.4ZM70.8 515.6L69.9 517.1L69.4 518.8L69.1 520.5L69.2 522.3L70.0 525.4L70.7 526.8L72.5 529.3L73.7 530.6L75.2 531.7L76.6 532.3L78.3 532.7L80.5 532.5L82.1 531.7L83.4 530.8L85.6 528.3L86.5 526.9L86.7 526.3L86.3 516.5L85.9 515.8L84.7 514.6L83.3 513.7L81.7 513.1L78.4 512.7L73.6 513.4L72.1 514.3ZM88.2 527.5L89.1 528.0L100.2 529.4L100.8 529.2L101.3 528.7L104.9 520.3L104.9 519.6L104.7 519.0L100.2 513.5L90.4 513.8L89.9 514.0L88.0 515.4L87.3 516.2L87.2 516.6L87.6 526.5ZM138.9 516.1L137.6 516.8L135.7 518.4L134.9 519.5L134.3 520.6L133.9 521.9L133.9 523.3L134.5 525.9L135.1 527.2L136.5 529.2L137.6 530.0L138.8 530.6L140.1 531.1L141.6 531.3L143.0 531.3L144.4 530.9L145.6 530.3L146.7 529.4L147.5 528.3L148.1 527.1L148.4 525.9L148.8 523.3L148.6 520.9L148.1 519.7L147.6 519.1L141.1 515.7L140.2 515.6ZM102.2 529.1L102.1 529.9L103.2 532.3L104.1 533.7L105.9 535.4L106.6 535.7L115.0 535.8L116.3 535.1L116.9 534.3L118.7 525.1L118.7 524.5L118.4 524.0L114.2 520.4L112.3 519.6L111.6 519.5L106.7 519.9L106.1 520.1L105.8 520.6ZM117.8 534.7L118.1 535.6L118.9 536.4L119.9 537.2L122.6 538.5L125.3 539.4L126.8 539.4L128.3 539.1L129.7 538.5L131.0 537.6L132.2 536.4L133.1 535.1L133.7 533.7L133.9 532.2L133.8 530.7L133.4 529.3L131.7 525.6L130.8 524.2L129.7 523.1L128.5 522.7L120.5 524.5L119.9 524.8L119.6 525.4ZM87.5 543.8L88.4 544.2L100.6 543.1L101.2 542.9L101.5 542.4L102.5 539.9L102.6 536.8L102.1 533.6L101.5 532.0L100.6 530.5L88.4 528.9L88.0 528.9L87.2 529.4L85.2 531.9L84.4 533.4L83.9 535.0L83.8 536.7L84.0 538.4L84.7 540.1L85.5 541.5ZM104.2 539.4L102.9 542.9L102.8 544.7L104.7 548.5L106.3 549.9L107.5 550.6L109.2 551.0L110.5 550.9L111.8 550.5L116.0 547.8L116.9 546.9L117.6 545.8L118.1 544.2L117.9 541.6L117.1 539.0L116.4 537.8L115.5 536.9L106.4 536.6L105.7 536.9L105.4 537.2ZM86.4 547.5L86.0 549.1L85.7 552.1L85.9 553.7L86.4 555.3L87.4 556.9L88.7 558.0L90.2 558.7L91.7 559.0L94.6 559.1L96.2 558.9L98.9 558.0L100.3 557.2L102.5 555.2L103.5 553.9L104.1 552.4L104.4 550.8L104.3 550.0L102.3 545.9L101.4 544.9L100.4 544.2L88.1 545.1L87.3 545.6ZM152.4 476.9L151.7 475.6L150.3 474.3L149.1 473.7L147.7 473.6L146.2 474.1L145.1 475.0L144.5 476.2L144.4 478.1L144.9 479.6L145.8 480.6L147.1 481.1L149.1 481.3L150.4 480.9L151.7 479.6L152.3 478.3Z" fill="#f6f6f6" stroke="#f6f6f6" stroke-width="1.5" stroke-linejoin="round"/>
<path d="M67.1 501.3L67.7 501.3L68.2 501.1L73.0 496.9L74.0 494.7L74.5 493.0L74.6 491.0L74.4 489.2L73.8 487.5L72.9 486.0L71.8 484.6L69.2 482.2L67.7 481.2L66.0 480.4L64.1 480.0L62.1 480.1L60.3 480.6L58.6 481.6L57.2 482.7L56.0 484.1L55.0 485.7L54.4 487.4L54.2 489.4L54.3 491.2L54.9 494.4L55.9 497.3L56.6 497.9Z" fill="#767676"/>
<path d="M65.8 498.9L66.2 498.8L70.9 494.7L71.7 493.0L72.1 491.3L72.3 489.5L72.1 487.9L71.6 486.3L70.7 484.9L69.7 483.6L67.2 481.3L65.8 480.6L64.1 480.3L62.1 480.4L60.3 481.0L58.7 481.9L57.4 482.9L56.3 484.2L55.3 485.8L54.7 487.5L54.5 489.5L54.6 491.2L55.2 494.3L55.6 495.4L55.9 495.7Z" fill="#242424"/>
<ellipse cx="67.9" cy="488.0" rx="1.5" ry="1.4" fill="#585858" transform="rotate(153 67.9 488.0)"/>
<ellipse cx="60.7" cy="489.1" rx="1.5" ry="1.0" fill="#181818" transform="rotate(58 60.7 489.1)"/>
<ellipse cx="62.8" cy="490.3" rx="2.0" ry="2.0" fill="#424242" transform="rotate(88 62.8 490.3)"/>
<ellipse cx="64.5" cy="491.9" rx="1.6" ry="1.2" fill="#4c4c4c" transform="rotate(115 64.5 491.9)"/>
<path d="M53.6 500.3L52.8 501.6L52.3 502.8L52.0 504.2L52.0 505.5L52.3 506.8L53.4 508.9L54.8 511.0L55.7 511.9L56.8 512.7L58.1 513.3L59.7 513.5L61.1 513.3L62.4 512.9L63.7 512.3L64.8 511.4L65.6 510.6L66.2 509.4L66.7 507.9L66.8 504.2L66.6 502.7L66.3 502.1L56.1 498.7L55.5 498.7L55.0 498.9Z" fill="#4e4e4e"/>
<path d="M54.0 501.1L53.2 503.4L53.3 504.6L53.5 505.7L54.5 507.7L55.9 509.7L57.6 511.2L58.8 511.7L60.1 511.9L61.4 511.7L63.6 510.8L65.3 509.4L65.9 508.2L66.3 506.9L66.4 503.6L66.3 502.8L65.9 502.3L56.1 499.0L55.6 499.1L54.7 500.0Z" fill="#2a2a2a"/>
<ellipse cx="59.9" cy="504.3" rx="1.3" ry="1.0" fill="#606060" transform="rotate(141 59.9 504.3)"/>
<ellipse cx="60.1" cy="505.8" rx="1.8" ry="1.1" fill="#424242" transform="rotate(131 60.1 505.8)"/>
<path d="M68.4 505.1L69.1 507.3L70.6 509.4L71.5 510.2L73.4 511.4L74.6 512.0L75.5 512.1L79.4 511.5L80.5 510.7L81.4 509.5L82.4 507.3L82.9 505.0L82.9 503.8L82.7 502.5L82.2 501.3L81.5 500.2L80.6 499.3L79.6 498.6L78.4 498.1L77.1 497.9L75.9 497.9L72.6 498.7L68.8 501.7L68.6 502.1L68.3 503.0Z" fill="#606060"/>
<path d="M70.8 506.2L72.2 508.2L72.9 508.9L74.7 510.1L75.8 510.6L76.6 510.7L80.0 510.2L81.0 509.5L82.1 507.2L82.6 504.9L82.4 502.5L81.2 500.4L80.4 499.5L79.4 498.8L78.3 498.4L77.1 498.2L74.0 498.8L70.3 502.0L70.2 504.2Z" fill="#242424"/>
<ellipse cx="74.7" cy="504.3" rx="1.7" ry="1.5" fill="#1c1c1c" transform="rotate(92 74.7 504.3)"/>
<ellipse cx="77.5" cy="507.9" rx="1.7" ry="1.4" fill="#3a3a3a" transform="rotate(122 77.5 507.9)"/>
<ellipse cx="75.5" cy="505.8" rx="1.3" ry="0.9" fill="#4c4c4c" transform="rotate(127 75.5 505.8)"/>
<ellipse cx="75.5" cy="506.8" rx="1.7" ry="1.1" fill="#4c4c4c" transform="rotate(137 75.5 506.8)"/>
<path d="M129.0 484.6L128.0 483.0L126.8 481.8L125.4 481.0L123.8 480.6L120.8 480.6L117.8 481.1L116.5 481.5L115.1 482.2L113.9 483.2L113.0 484.5L112.3 486.0L111.9 488.6L112.0 489.2L116.3 496.9L116.7 497.3L117.7 498.0L119.3 498.5L120.6 498.7L122.3 498.5L124.0 497.7L126.3 495.8L128.1 493.4L129.5 490.6L129.8 489.1L129.8 487.5L129.5 485.9Z" fill="#4a4a4a"/>
<path d="M118.5 481.3L116.1 482.3L115.0 483.3L114.2 484.4L113.6 485.6L113.3 488.3L117.6 496.1L118.6 496.7L120.0 497.2L121.2 497.3L122.5 497.2L124.2 496.4L126.1 494.7L128.0 492.3L129.2 489.9L129.5 488.5L129.2 486.0L128.7 484.7L127.7 483.1L126.7 482.1L125.3 481.3L123.7 480.9L121.1 480.9Z" fill="#2e2e2e"/>
<ellipse cx="116.6" cy="487.7" rx="2.5" ry="2.3" fill="#1c1c1c" transform="rotate(128 116.6 487.7)"/>
<ellipse cx="120.8" cy="489.6" rx="1.3" ry="1.1" fill="#424242" transform="rotate(179 120.8 489.6)"/>
<ellipse cx="118.0" cy="487.9" rx="1.5" ry="1.0" fill="#3a3a3a" transform="rotate(67 118.0 487.9)"/>
<ellipse cx="122.7" cy="489.2" rx="2.1" ry="1.5" fill="#424242" transform="rotate(30 122.7 489.2)"/>
<path d="M141.4 501.9L142.2 502.1L143.2 501.9L146.5 501.1L148.1 500.3L149.5 499.1L150.5 497.6L151.2 495.8L151.6 494.0L151.7 492.1L151.6 490.3L151.3 488.5L150.6 486.8L149.5 485.3L148.2 484.1L146.7 483.1L145.1 482.4L143.4 481.9L141.6 481.8L139.8 482.0L137.9 482.7L136.5 483.7L134.0 485.9L131.8 488.8L131.0 490.5L130.7 492.8L130.9 494.2L131.3 494.8Z" fill="#6e6e6e"/>
<path d="M150.2 487.4L149.0 486.3L147.6 485.3L144.6 484.3L143.0 484.1L141.4 484.3L139.6 485.0L138.2 485.8L135.9 487.9L133.8 490.7L133.1 492.3L132.8 494.2L133.0 495.6L141.6 501.6L143.1 501.7L146.5 500.8L148.0 500.0L149.3 498.8L150.3 497.4L150.9 495.7L151.3 494.0L151.3 490.4L151.0 488.6Z" fill="#2a2a2a"/>
<ellipse cx="141.7" cy="491.9" rx="1.7" ry="1.0" fill="#424242" transform="rotate(158 141.7 491.9)"/>
<ellipse cx="141.6" cy="491.3" rx="1.6" ry="1.5" fill="#424242" transform="rotate(118 141.6 491.3)"/>
<path d="M107.0 488.4L104.1 489.2L101.4 490.4L100.3 491.1L99.4 492.3L98.6 493.9L98.4 496.7L98.6 497.8L103.0 503.5L103.4 503.9L104.0 503.9L112.4 502.5L113.1 502.1L113.9 500.9L115.4 497.9L115.3 497.1L111.0 489.4L110.5 488.9L109.8 488.6L108.3 488.3Z" fill="#7c7c7c"/>
<path d="M104.4 492.1L101.8 493.2L100.9 493.9L100.0 495.0L99.4 496.4L99.4 498.3L103.1 503.2L103.7 503.6L104.1 503.6L112.2 502.3L112.8 502.0L113.7 500.7L114.3 499.3L110.3 492.0L109.6 491.6L108.2 491.4L107.1 491.4Z" fill="#2a2a2a"/>
<ellipse cx="106.9" cy="496.7" rx="2.3" ry="2.1" fill="#4c4c4c" transform="rotate(173 106.9 496.7)"/>
<ellipse cx="108.6" cy="499.8" rx="2.3" ry="1.5" fill="#4c4c4c" transform="rotate(56 108.6 499.8)"/>
<ellipse cx="105.7" cy="494.0" rx="1.3" ry="1.2" fill="#424242" transform="rotate(122 105.7 494.0)"/>
<ellipse cx="109.1" cy="497.3" rx="1.7" ry="1.5" fill="#424242" transform="rotate(162 109.1 497.3)"/>
<path d="M93.3 497.8L91.9 498.2L90.4 498.8L88.1 500.5L87.0 501.8L86.2 503.2L85.8 504.7L85.8 506.2L86.2 507.7L87.7 510.2L89.5 512.2L90.3 512.8L99.4 512.5L100.0 512.2L100.4 511.7L102.5 505.2L102.5 504.7L102.3 504.2L97.8 498.3L97.2 497.9L96.1 497.7Z" fill="#4a4a4a"/>
<path d="M91.8 499.4L90.4 500.0L88.3 501.5L87.2 502.8L86.5 503.9L86.2 505.2L86.2 506.5L86.5 507.7L88.0 510.0L90.2 512.3L98.9 512.1L99.3 511.8L101.2 505.6L101.2 505.1L96.9 499.5L96.5 499.2L95.6 499.0L93.1 499.1Z" fill="#2a2a2a"/>
<ellipse cx="94.8" cy="505.7" rx="2.2" ry="1.8" fill="#585858" transform="rotate(126 94.8 505.7)"/>
<ellipse cx="93.2" cy="503.3" rx="1.4" ry="1.2" fill="#3a3a3a" transform="rotate(77 93.2 503.3)"/>
<ellipse cx="97.3" cy="504.3" rx="2.4" ry="2.1" fill="#3a3a3a" transform="rotate(42 97.3 504.3)"/>
<path d="M130.8 496.1L129.2 496.7L127.8 497.4L125.2 499.5L124.1 500.8L123.2 502.2L122.6 503.8L122.4 505.2L131.2 514.6L131.6 514.9L132.4 515.0L135.4 514.3L136.9 513.6L138.3 512.7L139.5 511.5L140.4 510.2L141.3 507.9L141.9 505.5L141.9 504.0L141.8 503.5L141.5 503.1L131.7 496.3Z" fill="#6a6a6a"/>
<path d="M130.2 513.1L130.9 513.2L133.7 512.6L136.2 511.2L137.2 510.2L138.1 508.9L139.0 506.8L139.5 504.5L139.6 503.2L139.3 502.7L130.4 496.6L129.4 496.9L128.0 497.7L125.4 499.8L124.3 501.0L123.4 502.4L122.9 503.8L122.8 504.9L122.9 505.3Z" fill="#282828"/>
<ellipse cx="132.3" cy="502.5" rx="2.1" ry="1.4" fill="#1c1c1c" transform="rotate(64 132.3 502.5)"/>
<ellipse cx="132.3" cy="501.3" rx="1.5" ry="1.2" fill="#606060" transform="rotate(60 132.3 501.3)"/>
<ellipse cx="134.3" cy="503.5" rx="2.5" ry="1.6" fill="#1c1c1c" transform="rotate(169 134.3 503.5)"/>
<path d="M106.3 518.4L107.8 518.9L112.1 518.5L112.7 518.2L113.0 517.7L116.6 508.0L116.5 507.2L115.7 505.4L114.7 504.0L113.8 503.4L104.2 504.9L103.7 505.1L103.3 505.6L101.2 512.8L104.6 517.3Z" fill="#4e4e4e"/>
<path d="M115.3 508.8L115.3 508.1L114.5 506.6L113.6 505.4L112.9 505.1L103.9 506.5L103.6 506.9L101.8 513.0L104.7 517.0L106.4 518.1L107.9 518.5L111.6 518.2L112.0 517.9Z" fill="#2e2e2e"/>
<ellipse cx="109.6" cy="513.6" rx="2.3" ry="1.9" fill="#1c1c1c" transform="rotate(109 109.6 513.6)"/>
<ellipse cx="109.2" cy="510.7" rx="1.9" ry="1.8" fill="#424242" transform="rotate(121 109.2 510.7)"/>
<path d="M113.9 518.0L113.9 518.6L114.3 519.2L118.8 523.2L119.4 523.5L120.5 523.5L128.7 521.7L129.4 521.2L130.2 520.0L130.8 518.6L131.1 516.3L130.8 515.5L122.2 506.5L121.8 506.2L120.4 506.2L118.7 506.9L118.1 507.3L117.6 507.8Z" fill="#4e4e4e"/>
<path d="M115.5 518.9L115.7 519.3L120.0 523.1L120.5 523.2L128.5 521.4L129.1 521.1L129.9 519.9L130.4 518.6L130.7 516.4L122.5 507.8L121.4 507.6L119.8 508.2L119.1 508.9Z" fill="#282828"/>
<ellipse cx="121.5" cy="515.2" rx="1.8" ry="1.5" fill="#181818" transform="rotate(74 121.5 515.2)"/>
<ellipse cx="119.6" cy="519.1" rx="1.5" ry="1.1" fill="#181818" transform="rotate(137 119.6 519.1)"/>
<ellipse cx="122.1" cy="514.8" rx="2.2" ry="1.6" fill="#424242" transform="rotate(47 122.1 514.8)"/>
<path d="M140.8 512.8L141.2 514.2L141.9 515.1L147.6 518.0L148.4 518.1L151.6 516.8L152.5 516.2L153.4 515.4L154.0 514.0L154.2 511.9L154.0 510.6L153.3 508.6L152.6 507.7L151.8 506.9L149.6 505.9L147.6 505.4L146.2 505.3L145.3 505.4L144.2 505.8L143.3 506.6L142.6 507.3L140.9 511.4Z" fill="#4e4e4e"/>
<path d="M142.3 513.1L142.9 513.8L148.2 516.6L148.8 516.6L151.6 515.4L153.0 514.3L153.6 513.1L153.8 511.3L153.6 510.5L153.0 508.7L152.4 507.8L151.6 507.1L149.5 506.1L147.5 505.7L145.7 505.7L144.9 505.9L143.7 507.2L142.1 510.9L142.0 512.0Z" fill="#2e2e2e"/>
<ellipse cx="148.0" cy="514.7" rx="2.1" ry="1.5" fill="#181818" transform="rotate(81 148.0 514.7)"/>
<ellipse cx="149.1" cy="511.3" rx="2.6" ry="2.4" fill="#4c4c4c" transform="rotate(41 149.1 511.3)"/>
<ellipse cx="147.5" cy="511.8" rx="2.4" ry="2.3" fill="#424242" transform="rotate(116 147.5 511.8)"/>
<path d="M70.8 515.6L69.9 517.1L69.4 518.8L69.1 520.5L69.2 522.3L70.0 525.4L70.7 526.8L72.5 529.3L73.7 530.6L75.2 531.7L76.6 532.3L78.3 532.7L80.5 532.5L82.1 531.7L83.4 530.8L85.6 528.3L86.5 526.9L86.7 526.3L86.3 516.5L85.9 515.8L84.7 514.6L83.3 513.7L81.7 513.1L78.4 512.7L73.6 513.4L72.1 514.3Z" fill="#727272"/>
<path d="M71.7 515.7L71.2 517.2L71.0 518.8L71.0 520.5L71.8 523.3L72.4 524.7L74.1 527.0L75.2 528.2L76.6 529.2L77.9 529.9L79.3 530.1L81.3 529.9L82.7 529.3L83.8 528.5L86.0 526.0L86.3 525.4L86.0 516.7L85.6 515.9L84.5 514.8L83.2 514.0L81.7 513.4L78.4 513.0L73.6 513.8L72.5 514.4Z" fill="#2e2e2e"/>
<ellipse cx="80.9" cy="524.9" rx="1.6" ry="1.0" fill="#181818" transform="rotate(159 80.9 524.9)"/>
<ellipse cx="77.9" cy="523.3" rx="1.6" ry="1.4" fill="#585858" transform="rotate(161 77.9 523.3)"/>
<ellipse cx="76.7" cy="518.0" rx="2.3" ry="2.2" fill="#424242" transform="rotate(127 76.7 518.0)"/>
<ellipse cx="75.2" cy="522.3" rx="1.2" ry="1.2" fill="#3a3a3a" transform="rotate(30 75.2 522.3)"/>
<path d="M88.2 527.5L89.1 528.0L100.2 529.4L100.8 529.2L101.3 528.7L104.9 520.3L104.9 519.6L104.7 519.0L100.2 513.5L90.4 513.8L89.9 514.0L88.0 515.4L87.3 516.2L87.2 516.6L87.6 526.5Z" fill="#606060"/>
<path d="M89.7 515.5L89.2 516.4L89.5 525.8L89.8 526.4L90.6 526.9L101.1 528.1L104.6 519.8L104.4 519.1L100.4 514.2L100.0 514.0L91.6 514.3Z" fill="#282828"/>
<ellipse cx="94.9" cy="517.9" rx="1.2" ry="1.0" fill="#585858" transform="rotate(1 94.9 517.9)"/>
<ellipse cx="99.5" cy="520.2" rx="1.4" ry="1.4" fill="#606060" transform="rotate(130 99.5 520.2)"/>
<ellipse cx="97.2" cy="522.0" rx="2.2" ry="2.2" fill="#1c1c1c" transform="rotate(160 97.2 522.0)"/>
<path d="M138.9 516.1L137.6 516.8L135.7 518.4L134.9 519.5L134.3 520.6L133.9 521.9L133.9 523.3L134.5 525.9L135.1 527.2L136.5 529.2L137.6 530.0L138.8 530.6L140.1 531.1L141.6 531.3L143.0 531.3L144.4 530.9L145.6 530.3L146.7 529.4L147.5 528.3L148.1 527.1L148.4 525.9L148.8 523.3L148.6 520.9L148.1 519.7L147.6 519.1L141.1 515.7L140.2 515.6Z" fill="#707070"/>
<path d="M135.8 527.3L137.9 528.6L140.3 529.2L141.6 529.2L142.8 528.9L144.0 528.3L144.9 527.5L145.5 526.7L146.4 524.5L146.7 522.0L146.5 519.9L146.1 518.8L140.9 516.0L140.2 516.0L137.8 517.1L136.0 518.6L135.2 519.6L134.6 520.7L134.2 521.9L134.2 523.3L134.7 525.7Z" fill="#2e2e2e"/>
<ellipse cx="139.7" cy="520.9" rx="2.1" ry="1.7" fill="#181818" transform="rotate(92 139.7 520.9)"/>
<ellipse cx="141.1" cy="522.4" rx="1.4" ry="1.1" fill="#606060" transform="rotate(12 141.1 522.4)"/>
<ellipse cx="141.9" cy="522.1" rx="1.4" ry="1.3" fill="#606060" transform="rotate(15 141.9 522.1)"/>
<ellipse cx="143.0" cy="525.8" rx="1.4" ry="1.4" fill="#585858" transform="rotate(150 143.0 525.8)"/>
<path d="M102.2 529.1L102.1 529.9L103.2 532.3L104.1 533.7L105.9 535.4L106.6 535.7L115.0 535.8L116.3 535.1L116.9 534.3L118.7 525.1L118.7 524.5L118.4 524.0L114.2 520.4L112.3 519.6L111.6 519.5L106.7 519.9L106.1 520.1L105.8 520.6Z" fill="#5a5a5a"/>
<path d="M102.8 530.5L103.5 532.2L104.3 533.4L106.2 535.2L106.7 535.4L115.0 535.4L115.8 535.1L116.1 534.7L117.7 525.8L117.6 525.4L113.7 522.0L112.0 521.2L111.4 521.1L106.7 521.6L106.3 521.9Z" fill="#282828"/>
<ellipse cx="110.2" cy="532.0" rx="1.9" ry="1.4" fill="#606060" transform="rotate(112 110.2 532.0)"/>
<ellipse cx="108.3" cy="529.8" rx="1.7" ry="1.3" fill="#585858" transform="rotate(120 108.3 529.8)"/>
<ellipse cx="110.7" cy="528.9" rx="2.5" ry="2.0" fill="#181818" transform="rotate(104 110.7 528.9)"/>
<path d="M117.8 534.7L118.1 535.6L118.9 536.4L119.9 537.2L122.6 538.5L125.3 539.4L126.8 539.4L128.3 539.1L129.7 538.5L131.0 537.6L132.2 536.4L133.1 535.1L133.7 533.7L133.9 532.2L133.8 530.7L133.4 529.3L131.7 525.6L130.8 524.2L129.7 523.1L128.5 522.7L120.5 524.5L119.9 524.8L119.6 525.4Z" fill="#525252"/>
<path d="M118.3 535.2L119.6 536.3L122.2 537.6L124.6 538.3L125.9 538.4L127.2 538.2L128.5 537.6L129.6 536.8L130.7 535.7L131.6 534.4L132.1 533.2L132.3 531.8L132.2 530.6L131.9 529.3L130.2 525.8L129.4 524.5L128.6 523.6L127.5 523.3L120.4 524.9L120.1 525.2L118.2 534.5Z" fill="#2e2e2e"/>
<ellipse cx="123.5" cy="527.7" rx="1.8" ry="1.3" fill="#424242" transform="rotate(92 123.5 527.7)"/>
<ellipse cx="125.1" cy="529.1" rx="2.3" ry="2.0" fill="#3a3a3a" transform="rotate(66 125.1 529.1)"/>
<ellipse cx="125.4" cy="530.8" rx="1.9" ry="1.6" fill="#1c1c1c" transform="rotate(90 125.4 530.8)"/>
<ellipse cx="124.2" cy="529.9" rx="2.6" ry="2.4" fill="#424242" transform="rotate(24 124.2 529.9)"/>
<path d="M87.5 543.8L88.4 544.2L100.6 543.1L101.2 542.9L101.5 542.4L102.5 539.9L102.6 536.8L102.1 533.6L101.5 532.0L100.6 530.5L88.4 528.9L88.0 528.9L87.2 529.4L85.2 531.9L84.4 533.4L83.9 535.0L83.8 536.7L84.0 538.4L84.7 540.1L85.5 541.5Z" fill="#606060"/>
<path d="M87.9 530.7L87.1 531.1L85.3 533.4L84.6 534.8L84.1 536.6L84.3 538.3L85.0 540.0L85.8 541.3L87.6 543.5L88.5 543.9L100.3 542.8L101.1 540.7L101.2 537.8L100.7 534.7L100.2 533.4L99.5 532.3Z" fill="#282828"/>
<ellipse cx="93.9" cy="537.5" rx="2.2" ry="1.9" fill="#1c1c1c" transform="rotate(103 93.9 537.5)"/>
<ellipse cx="89.9" cy="539.6" rx="2.2" ry="1.7" fill="#585858" transform="rotate(127 89.9 539.6)"/>
<ellipse cx="94.1" cy="535.2" rx="1.5" ry="1.0" fill="#3a3a3a" transform="rotate(133 94.1 535.2)"/>
<path d="M104.2 539.4L102.9 542.9L102.8 544.7L104.7 548.5L106.3 549.9L107.5 550.6L109.2 551.0L110.5 550.9L111.8 550.5L116.0 547.8L116.9 546.9L117.6 545.8L118.1 544.2L117.9 541.6L117.1 539.0L116.4 537.8L115.5 536.9L106.4 536.6L105.7 536.9L105.4 537.2Z" fill="#4e4e4e"/>
<path d="M104.7 547.2L106.1 548.6L107.2 549.1L108.6 549.5L109.7 549.4L110.9 549.1L114.9 546.5L116.3 544.9L116.7 543.4L116.5 541.0L115.8 538.7L115.1 537.6L114.5 537.2L106.6 536.9L105.8 537.2L104.4 539.5L103.2 543.0L103.2 544.2Z" fill="#2e2e2e"/>
<ellipse cx="110.6" cy="542.9" rx="1.2" ry="1.0" fill="#606060" transform="rotate(147 110.6 542.9)"/>
<ellipse cx="109.6" cy="543.3" rx="2.2" ry="2.1" fill="#3a3a3a" transform="rotate(33 109.6 543.3)"/>
<path d="M86.4 547.5L86.0 549.1L85.7 552.1L85.9 553.7L86.4 555.3L87.4 556.9L88.7 558.0L90.2 558.7L91.7 559.0L94.6 559.1L96.2 558.9L98.9 558.0L100.3 557.2L102.5 555.2L103.5 553.9L104.1 552.4L104.4 550.8L104.3 550.0L102.3 545.9L101.4 544.9L100.4 544.2L88.1 545.1L87.3 545.6Z" fill="#747474"/>
<path d="M86.5 549.9L86.7 551.4L87.1 552.8L88.0 554.1L89.1 555.0L90.4 555.7L91.8 556.0L94.6 556.1L96.1 555.9L98.5 555.1L99.9 554.3L101.9 552.5L102.8 551.4L103.3 550.0L103.5 549.2L102.0 546.0L101.2 545.1L100.2 544.5L88.1 545.5L87.5 546.0L86.8 547.4Z" fill="#2a2a2a"/>
<ellipse cx="98.0" cy="548.2" rx="2.2" ry="2.2" fill="#3a3a3a" transform="rotate(97 98.0 548.2)"/>
<ellipse cx="95.1" cy="550.2" rx="2.2" ry="1.6" fill="#1c1c1c" transform="rotate(70 95.1 550.2)"/>
<path d="M152.4 476.9L151.7 475.6L150.3 474.3L149.1 473.7L147.7 473.6L146.2 474.1L145.1 475.0L144.5 476.2L144.4 478.1L144.9 479.6L145.8 480.6L147.1 481.1L149.1 481.3L150.4 480.9L151.7 479.6L152.3 478.3Z" fill="#4a4a4a"/>
<path d="M150.9 475.8L149.8 475.3L148.8 475.3L147.6 475.7L146.7 476.4L146.3 477.4L146.3 478.7L146.6 479.9L147.3 480.7L147.7 480.9L149.1 481.0L150.3 480.5L151.4 479.5L152.0 478.4L152.1 477.1L151.9 476.8Z" fill="#2e2e2e"/>
<ellipse cx="149.4" cy="478.2" rx="2.6" ry="1.6" fill="#3a3a3a" transform="rotate(5 149.4 478.2)"/>
<ellipse cx="148.3" cy="477.4" rx="2.4" ry="1.6" fill="#585858" transform="rotate(117 148.3 477.4)"/>
<ellipse cx="148.1" cy="477.3" rx="1.6" ry="1.6" fill="#424242" transform="rotate(151 148.1 477.3)"/>
</g></g>
<rect x="44.75" y="474.25" width="105.15" height="94.04999999999995" fill="none" stroke="#111" stroke-width="2.3"/>
<clipPath id="p5"><rect x="154.55" y="474.25" width="104.34999999999997" height="94.04999999999995"/></clipPath>
<rect x="154.55" y="474.25" width="104.34999999999997" height="94.04999999999995" fill="#dedede"/>
<g clip-path="url(#p5)"><g filter="url(#tex)">
<path d="M214.7 476.1L214.7 476.8L215.1 477.3L224.1 483.3L225.0 482.9L229.3 478.5L229.6 477.9L229.8 476.6L229.4 473.8L228.4 471.2L227.5 470.1L226.3 469.3L225.0 468.8L223.6 468.6L220.9 469.0L218.7 470.0L217.6 470.8L216.0 472.9L215.4 474.0ZM207.4 480.0L205.8 481.4L204.8 483.0L204.3 484.6L204.1 486.6L204.2 489.2L204.4 489.8L210.7 498.0L218.4 498.1L219.4 497.6L220.8 496.3L221.9 494.8L224.1 491.3L224.2 490.7L223.9 484.6L214.0 477.6L213.2 477.5L210.6 478.2ZM225.2 491.9L225.5 492.6L226.6 493.7L227.8 494.8L229.5 495.8L234.5 496.8L236.6 496.5L237.1 496.2L242.3 490.9L242.6 490.5L242.6 489.9L240.8 481.1L240.4 480.5L238.5 479.3L235.4 478.4L232.3 478.2L230.9 478.5L230.4 478.8L225.0 484.5ZM241.8 479.2L241.6 480.1L243.5 489.5L243.8 490.1L244.5 490.4L254.7 491.7L255.2 491.7L255.9 491.1L256.8 489.8L258.1 487.2L259.1 484.1L259.2 482.4L258.7 480.9L257.9 479.5L256.9 478.3L254.4 476.6L253.1 476.0L251.4 475.5L249.9 475.4L248.4 475.6L245.5 476.5L242.8 478.0ZM200.1 489.2L198.6 489.7L197.3 490.5L195.0 492.4L194.0 493.5L193.3 494.9L192.9 496.6L193.2 499.5L194.0 502.3L194.7 503.9L195.6 505.2L196.9 506.2L198.4 506.8L200.0 507.0L202.0 506.8L202.6 506.5L209.2 499.2L209.5 498.3L202.9 489.5L202.6 489.2L201.6 489.0ZM239.2 508.5L240.9 509.7L244.0 511.5L245.9 512.3L247.8 512.9L249.8 513.0L251.9 512.7L253.9 511.9L255.6 510.8L256.9 509.4L258.0 507.6L258.6 505.6L258.8 503.5L258.6 501.4L257.8 497.8L256.4 494.3L255.5 493.1L254.8 492.7L244.0 491.3L243.1 491.6L237.2 497.4L237.0 497.9L236.9 498.4L238.8 507.8ZM225.1 498.5L223.4 500.7L223.1 501.9L226.0 512.3L226.3 512.8L227.3 513.2L228.9 513.2L231.8 512.8L234.6 511.9L236.7 510.3L237.8 509.0L237.9 508.3L236.1 499.0L235.7 498.3L234.9 497.9L228.5 496.6L227.4 496.9ZM203.0 511.4L203.4 513.5L204.0 515.5L204.9 517.1L206.4 518.6L208.4 519.7L210.4 520.2L212.2 520.4L216.2 520.3L218.1 519.9L219.9 519.1L221.5 518.0L222.7 516.8L224.0 515.1L225.1 513.3L225.1 512.6L222.1 501.9L221.7 501.3L219.8 499.9L218.0 499.0L211.1 499.0L210.3 499.4L203.2 507.2L202.9 508.0ZM192.2 536.4L193.8 536.5L195.3 536.3L196.8 535.7L198.1 534.9L199.2 533.8L201.0 531.7L201.9 530.3L202.5 528.9L202.8 527.4L202.8 526.0L202.5 524.5L201.9 523.0L201.0 521.7L199.9 520.6L198.6 519.7L197.1 519.1L195.5 518.8L193.8 518.9L191.1 519.5L189.7 520.0L188.2 520.9L187.1 522.0L186.3 523.2L185.8 524.6L185.8 525.4L190.7 535.6L191.0 536.0ZM176.0 541.7L176.7 541.9L185.2 541.9L185.9 541.6L186.8 540.8L187.8 539.6L188.7 538.2L189.3 536.8L189.5 535.7L189.4 535.0L184.5 524.9L184.1 524.5L182.6 524.3L180.8 524.6L177.8 525.4L176.4 526.0L175.1 526.8L173.9 527.9L172.1 530.7L171.4 532.2L171.0 533.9L171.0 535.4L171.5 537.0L172.5 538.7ZM173.6 544.1L172.1 545.8L171.2 547.5L170.9 548.8L172.8 560.2L173.2 560.8L176.9 563.4L178.9 564.2L180.7 564.6L182.7 564.5L184.9 563.7L186.5 562.6L189.2 560.0L190.4 558.3L191.3 556.6L191.7 554.7L191.7 552.8L190.9 549.2L189.5 545.7L188.2 543.9L187.2 543.1L186.5 542.9L176.0 542.9L175.1 543.2ZM168.0 546.9L166.4 546.5L164.5 546.6L163.0 546.9L160.2 548.0L158.7 548.9L157.5 549.9L156.6 551.3L156.2 552.5L155.9 554.1L155.9 555.8L156.0 557.3L156.6 559.4L161.9 564.3L163.1 564.7L164.5 565.1L166.1 565.1L168.0 564.6L169.4 563.7L170.3 562.7L171.7 560.6L171.8 559.9L169.8 548.4L169.4 547.7ZM155.8 560.7L154.3 560.9L153.6 561.3L153.0 561.9L152.4 563.5L152.3 565.6L152.7 567.1L153.7 568.3L155.1 569.2L156.7 569.5L158.1 569.1L159.9 567.7L160.7 566.7L161.0 565.2L160.7 564.4L156.7 561.0Z" fill="#f6f6f6" stroke="#f6f6f6" stroke-width="1.5" stroke-linejoin="round"/>
<path d="M214.7 476.1L214.7 476.8L215.1 477.3L224.1 483.3L225.0 482.9L229.3 478.5L229.6 477.9L229.8 476.6L229.4 473.8L228.4 471.2L227.5 470.1L226.3 469.3L225.0 468.8L223.6 468.6L220.9 469.0L218.7 470.0L217.6 470.8L216.0 472.9L215.4 474.0Z" fill="#4e4e4e"/>
<path d="M216.2 475.2L216.5 475.7L224.9 481.3L225.4 481.1L229.4 476.7L229.2 474.0L228.1 471.3L227.2 470.3L226.2 469.6L224.9 469.1L223.6 468.9L221.1 469.3L219.0 470.3L217.3 472.3L216.8 473.3Z" fill="#242424"/>
<ellipse cx="222.6" cy="474.7" rx="2.6" ry="2.4" fill="#585858" transform="rotate(121 222.6 474.7)"/>
<ellipse cx="225.3" cy="474.2" rx="2.4" ry="2.0" fill="#606060" transform="rotate(130 225.3 474.2)"/>
<ellipse cx="221.3" cy="477.4" rx="2.1" ry="1.9" fill="#4c4c4c" transform="rotate(132 221.3 477.4)"/>
<path d="M207.4 480.0L205.8 481.4L204.8 483.0L204.3 484.6L204.1 486.6L204.2 489.2L204.4 489.8L210.7 498.0L218.4 498.1L219.4 497.6L220.8 496.3L221.9 494.8L224.1 491.3L224.2 490.7L223.9 484.6L214.0 477.6L213.2 477.5L210.6 478.2Z" fill="#4e4e4e"/>
<path d="M210.3 495.9L210.7 496.1L217.4 496.2L218.2 495.9L219.5 494.7L220.5 493.3L222.7 489.6L222.3 483.9L213.9 478.0L213.3 477.8L210.7 478.5L207.5 480.3L206.0 481.7L205.1 483.1L204.6 484.7L204.4 486.6L204.5 488.5Z" fill="#282828"/>
<ellipse cx="214.2" cy="488.4" rx="1.5" ry="1.2" fill="#606060" transform="rotate(7 214.2 488.4)"/>
<ellipse cx="218.7" cy="488.6" rx="2.3" ry="2.1" fill="#181818" transform="rotate(52 218.7 488.6)"/>
<ellipse cx="216.4" cy="486.5" rx="1.3" ry="1.0" fill="#585858" transform="rotate(143 216.4 486.5)"/>
<ellipse cx="216.2" cy="486.6" rx="2.1" ry="1.3" fill="#4c4c4c" transform="rotate(52 216.2 486.6)"/>
<path d="M225.2 491.9L225.5 492.6L226.6 493.7L227.8 494.8L229.5 495.8L234.5 496.8L236.6 496.5L237.1 496.2L242.3 490.9L242.6 490.5L242.6 489.9L240.8 481.1L240.4 480.5L238.5 479.3L235.4 478.4L232.3 478.2L230.9 478.5L230.4 478.8L225.0 484.5Z" fill="#5a5a5a"/>
<path d="M235.7 496.2L236.1 496.0L241.2 491.0L241.3 490.6L239.5 481.9L239.2 481.4L237.7 480.5L234.8 479.7L231.9 479.5L230.8 479.7L230.3 479.9L225.5 485.1L225.3 485.4L225.5 491.9L225.8 492.5L226.8 493.5L229.5 495.5L234.1 496.4Z" fill="#282828"/>
<ellipse cx="235.8" cy="486.9" rx="2.0" ry="1.7" fill="#1c1c1c" transform="rotate(112 235.8 486.9)"/>
<ellipse cx="234.0" cy="484.8" rx="2.2" ry="1.7" fill="#3a3a3a" transform="rotate(102 234.0 484.8)"/>
<ellipse cx="231.4" cy="484.2" rx="2.6" ry="2.2" fill="#1c1c1c" transform="rotate(177 231.4 484.2)"/>
<path d="M241.8 479.2L241.6 480.1L243.5 489.5L243.8 490.1L244.5 490.4L254.7 491.7L255.2 491.7L255.9 491.1L256.8 489.8L258.1 487.2L259.1 484.1L259.2 482.4L258.7 480.9L257.9 479.5L256.9 478.3L254.4 476.6L253.1 476.0L251.4 475.5L249.9 475.4L248.4 475.6L245.5 476.5L242.8 478.0Z" fill="#848484"/>
<path d="M254.6 491.0L255.8 488.4L256.8 485.4L256.8 484.2L256.4 482.8L255.7 481.6L254.7 480.5L252.5 478.9L251.3 478.3L249.8 477.9L248.4 477.8L247.0 477.9L244.3 478.8L242.0 480.2L243.8 489.3L244.2 489.9L254.0 491.3Z" fill="#2a2a2a"/>
<ellipse cx="251.0" cy="484.6" rx="2.6" ry="1.6" fill="#4c4c4c" transform="rotate(144 251.0 484.6)"/>
<ellipse cx="250.9" cy="480.6" rx="2.1" ry="1.8" fill="#1c1c1c" transform="rotate(62 250.9 480.6)"/>
<ellipse cx="253.7" cy="486.6" rx="2.3" ry="1.8" fill="#424242" transform="rotate(102 253.7 486.6)"/>
<ellipse cx="250.3" cy="488.4" rx="1.5" ry="0.9" fill="#1c1c1c" transform="rotate(142 250.3 488.4)"/>
<path d="M200.1 489.2L198.6 489.7L197.3 490.5L195.0 492.4L194.0 493.5L193.3 494.9L192.9 496.6L193.2 499.5L194.0 502.3L194.7 503.9L195.6 505.2L196.9 506.2L198.4 506.8L200.0 507.0L202.0 506.8L202.6 506.5L209.2 499.2L209.5 498.3L202.9 489.5L202.6 489.2L201.6 489.0Z" fill="#7a7a7a"/>
<path d="M201.0 490.5L199.7 491.2L197.5 493.0L196.7 493.9L196.1 495.1L195.8 496.7L196.0 499.4L196.7 502.0L197.4 503.5L198.3 504.7L199.4 505.5L200.7 506.0L202.3 506.2L202.7 506.0L208.9 499.1L209.1 498.3L203.0 490.1L202.3 490.0Z" fill="#282828"/>
<ellipse cx="197.3" cy="498.6" rx="2.3" ry="1.4" fill="#1c1c1c" transform="rotate(36 197.3 498.6)"/>
<ellipse cx="201.8" cy="497.3" rx="1.9" ry="1.5" fill="#424242" transform="rotate(97 201.8 497.3)"/>
<path d="M239.2 508.5L240.9 509.7L244.0 511.5L245.9 512.3L247.8 512.9L249.8 513.0L251.9 512.7L253.9 511.9L255.6 510.8L256.9 509.4L258.0 507.6L258.6 505.6L258.8 503.5L258.6 501.4L257.8 497.8L256.4 494.3L255.5 493.1L254.8 492.7L244.0 491.3L243.1 491.6L237.2 497.4L237.0 497.9L236.9 498.4L238.8 507.8Z" fill="#747474"/>
<path d="M239.9 505.8L244.4 508.6L246.2 509.4L248.0 509.9L249.9 510.0L251.8 509.7L253.6 509.0L255.2 507.9L256.3 506.7L257.3 505.0L257.8 503.2L257.9 501.4L257.8 499.4L257.4 497.7L256.2 494.5L255.4 493.4L254.6 493.0L244.1 491.6L243.1 491.9L238.0 497.1L239.5 505.2Z" fill="#242424"/>
<ellipse cx="244.2" cy="501.4" rx="2.0" ry="1.7" fill="#3a3a3a" transform="rotate(13 244.2 501.4)"/>
<ellipse cx="245.8" cy="498.5" rx="1.8" ry="1.1" fill="#1c1c1c" transform="rotate(53 245.8 498.5)"/>
<path d="M225.1 498.5L223.4 500.7L223.1 501.9L226.0 512.3L226.3 512.8L227.3 513.2L228.9 513.2L231.8 512.8L234.6 511.9L236.7 510.3L237.8 509.0L237.9 508.3L236.1 499.0L235.7 498.3L234.9 497.9L228.5 496.6L227.4 496.9Z" fill="#4a4a4a"/>
<path d="M223.6 502.0L223.5 502.5L226.3 512.1L226.7 512.6L227.4 512.9L228.8 512.9L231.8 512.5L234.5 511.6L235.6 510.8L236.3 509.9L236.5 509.3L234.7 500.5L234.4 500.0L233.9 499.7L227.8 498.5L227.0 498.8L225.2 500.2Z" fill="#2a2a2a"/>
<ellipse cx="231.2" cy="507.8" rx="2.2" ry="1.7" fill="#1c1c1c" transform="rotate(28 231.2 507.8)"/>
<ellipse cx="230.1" cy="504.7" rx="1.9" ry="1.2" fill="#1c1c1c" transform="rotate(61 230.1 504.7)"/>
<ellipse cx="232.5" cy="502.0" rx="1.3" ry="1.0" fill="#585858" transform="rotate(79 232.5 502.0)"/>
<ellipse cx="230.4" cy="504.3" rx="2.0" ry="1.9" fill="#585858" transform="rotate(1 230.4 504.3)"/>
<path d="M203.0 511.4L203.4 513.5L204.0 515.5L204.9 517.1L206.4 518.6L208.4 519.7L210.4 520.2L212.2 520.4L216.2 520.3L218.1 519.9L219.9 519.1L221.5 518.0L222.7 516.8L224.0 515.1L225.1 513.3L225.1 512.6L222.1 501.9L221.7 501.3L219.8 499.9L218.0 499.0L211.1 499.0L210.3 499.4L203.2 507.2L202.9 508.0Z" fill="#6e6e6e"/>
<path d="M203.6 513.2L204.5 514.8L205.8 516.1L207.6 517.1L209.5 517.5L211.2 517.7L215.0 517.6L216.7 517.2L218.4 516.5L219.8 515.5L221.1 514.3L222.2 512.8L223.2 510.9L220.2 500.6L217.8 499.3L211.3 499.3L210.4 499.7L203.4 507.5L203.2 508.1L203.3 511.4Z" fill="#242424"/>
<ellipse cx="211.6" cy="509.2" rx="1.8" ry="1.5" fill="#606060" transform="rotate(53 211.6 509.2)"/>
<ellipse cx="217.8" cy="507.4" rx="2.3" ry="2.2" fill="#424242" transform="rotate(7 217.8 507.4)"/>
<ellipse cx="213.8" cy="508.8" rx="2.5" ry="2.4" fill="#3a3a3a" transform="rotate(46 213.8 508.8)"/>
<path d="M192.2 536.4L193.8 536.5L195.3 536.3L196.8 535.7L198.1 534.9L199.2 533.8L201.0 531.7L201.9 530.3L202.5 528.9L202.8 527.4L202.8 526.0L202.5 524.5L201.9 523.0L201.0 521.7L199.9 520.6L198.6 519.7L197.1 519.1L195.5 518.8L193.8 518.9L191.1 519.5L189.7 520.0L188.2 520.9L187.1 522.0L186.3 523.2L185.8 524.6L185.8 525.4L190.7 535.6L191.0 536.0Z" fill="#747474"/>
<path d="M202.0 529.1L202.0 527.9L201.7 526.5L201.1 525.2L200.4 524.0L199.4 523.0L198.2 522.2L196.8 521.6L195.4 521.4L193.9 521.5L191.3 522.1L190.1 522.6L188.8 523.3L187.8 524.3L186.7 526.2L186.7 526.6L191.0 535.4L191.3 535.8L192.3 536.1L193.8 536.2L195.3 536.0L196.7 535.4L197.8 534.7L199.0 533.6L200.7 531.5L201.6 530.1Z" fill="#2e2e2e"/>
<ellipse cx="194.8" cy="523.9" rx="1.2" ry="0.8" fill="#181818" transform="rotate(113 194.8 523.9)"/>
<ellipse cx="196.1" cy="531.1" rx="2.1" ry="1.9" fill="#181818" transform="rotate(83 196.1 531.1)"/>
<ellipse cx="193.7" cy="528.6" rx="1.8" ry="1.3" fill="#424242" transform="rotate(139 193.7 528.6)"/>
<path d="M176.0 541.7L176.7 541.9L185.2 541.9L185.9 541.6L186.8 540.8L187.8 539.6L188.7 538.2L189.3 536.8L189.5 535.7L189.4 535.0L184.5 524.9L184.1 524.5L182.6 524.3L180.8 524.6L177.8 525.4L176.4 526.0L175.1 526.8L173.9 527.9L172.1 530.7L171.4 532.2L171.0 533.9L171.0 535.4L171.5 537.0L172.5 538.7Z" fill="#6a6a6a"/>
<path d="M176.8 539.5L185.1 539.5L186.2 538.7L188.0 536.2L188.5 534.9L188.6 534.1L184.3 525.2L183.8 524.7L182.5 524.6L180.8 524.9L177.9 525.6L176.6 526.2L175.3 527.0L174.2 528.1L172.3 530.9L171.8 532.5L171.8 533.7L172.2 535.2L173.2 536.6Z" fill="#2e2e2e"/>
<ellipse cx="183.7" cy="531.4" rx="1.9" ry="1.2" fill="#424242" transform="rotate(80 183.7 531.4)"/>
<ellipse cx="179.4" cy="534.5" rx="1.3" ry="1.3" fill="#424242" transform="rotate(41 179.4 534.5)"/>
<ellipse cx="180.9" cy="534.0" rx="2.1" ry="2.1" fill="#4c4c4c" transform="rotate(104 180.9 534.0)"/>
<path d="M173.6 544.1L172.1 545.8L171.2 547.5L170.9 548.8L172.8 560.2L173.2 560.8L176.9 563.4L178.9 564.2L180.7 564.6L182.7 564.5L184.9 563.7L186.5 562.6L189.2 560.0L190.4 558.3L191.3 556.6L191.7 554.7L191.7 552.8L190.9 549.2L189.5 545.7L188.2 543.9L187.2 543.1L186.5 542.9L176.0 542.9L175.1 543.2Z" fill="#7a7a7a"/>
<path d="M175.7 561.1L177.6 561.9L179.2 562.2L181.0 562.1L182.9 561.5L184.5 560.4L187.0 558.0L188.2 556.3L188.9 554.8L189.3 553.1L189.3 551.3L188.6 547.8L187.3 544.6L186.2 543.2L176.0 543.2L175.1 543.5L173.9 544.3L172.3 546.0L171.5 547.5L171.2 548.9L172.9 559.0L173.1 559.3Z" fill="#242424"/>
<ellipse cx="180.3" cy="550.5" rx="1.4" ry="1.2" fill="#4c4c4c" transform="rotate(157 180.3 550.5)"/>
<ellipse cx="179.3" cy="549.3" rx="2.2" ry="1.7" fill="#3a3a3a" transform="rotate(87 179.3 549.3)"/>
<path d="M168.0 546.9L166.4 546.5L164.5 546.6L163.0 546.9L160.2 548.0L158.7 548.9L157.5 549.9L156.6 551.3L156.2 552.5L155.9 554.1L155.9 555.8L156.0 557.3L156.6 559.4L161.9 564.3L163.1 564.7L164.5 565.1L166.1 565.1L168.0 564.6L169.4 563.7L170.3 562.7L171.7 560.6L171.8 559.9L169.8 548.4L169.4 547.7Z" fill="#6e6e6e"/>
<path d="M158.3 550.0L157.8 551.2L157.6 552.6L157.7 555.5L158.1 557.3L163.2 562.0L164.2 562.4L165.4 562.7L167.0 562.7L168.6 562.2L169.7 561.5L170.6 560.7L171.4 559.2L169.5 548.6L169.1 547.8L167.8 547.2L166.4 546.8L164.5 546.9L163.0 547.2L160.3 548.3L159.0 549.1Z" fill="#242424"/>
<ellipse cx="162.4" cy="553.7" rx="2.2" ry="1.9" fill="#4c4c4c" transform="rotate(153 162.4 553.7)"/>
<ellipse cx="166.2" cy="556.4" rx="1.3" ry="0.8" fill="#1c1c1c" transform="rotate(3 166.2 556.4)"/>
<ellipse cx="164.9" cy="555.8" rx="2.0" ry="1.6" fill="#1c1c1c" transform="rotate(130 164.9 555.8)"/>
<path d="M155.8 560.7L154.3 560.9L153.6 561.3L153.0 561.9L152.4 563.5L152.3 565.6L152.7 567.1L153.7 568.3L155.1 569.2L156.7 569.5L158.1 569.1L159.9 567.7L160.7 566.7L161.0 565.2L160.7 564.4L156.7 561.0Z" fill="#5a5a5a"/>
<path d="M152.9 563.0L152.8 564.9L153.1 566.0L154.0 567.1L155.2 567.8L156.2 568.1L157.3 567.8L159.0 566.6L159.7 565.6L159.9 564.9L159.6 564.2L155.9 561.1L154.5 561.2L153.9 561.5L153.3 562.2Z" fill="#282828"/>
<ellipse cx="155.3" cy="565.9" rx="1.4" ry="1.4" fill="#1c1c1c" transform="rotate(117 155.3 565.9)"/>
<ellipse cx="155.5" cy="566.5" rx="1.2" ry="1.1" fill="#3a3a3a" transform="rotate(27 155.5 566.5)"/>
</g></g>
<rect x="154.55" y="474.25" width="104.34999999999997" height="94.04999999999995" fill="none" stroke="#111" stroke-width="2.3"/>
<text transform="translate(274.6 263.5) scale(0.957 1)" font-size="22" font-weight="bold" fill="#1c1c1c">C</text>
<text transform="translate(375.6 257.8) scale(1.032 1)" font-size="11.6" font-weight="bold" fill="#1c1c1c">CD32</text>
<text transform="translate(439.8 257.8) scale(1.059 1)" font-size="11.6" font-weight="bold" fill="#1c1c1c">F4/80</text>
<text transform="translate(323 294.8) scale(1.134 1)" font-size="12" font-weight="bold" letter-spacing="1.5" fill="#1c1c1c">(-)</text>
<text transform="translate(321.5 340) scale(1.205 1)" font-size="10.5" font-weight="bold" fill="#1c1c1c">IL-6</text>
<text transform="translate(278 316.9) scale(1.131 1)" font-size="10" font-weight="bold" fill="#1c1c1c">M1-V1</text>
<text transform="translate(326.2 386.1) scale(1.134 1)" font-size="12" font-weight="bold" letter-spacing="1.5" fill="#1c1c1c">(-)</text>
<text transform="translate(321.5 430.8) scale(1.205 1)" font-size="10.5" font-weight="bold" fill="#1c1c1c">IL-6</text>
<text transform="translate(278 405.8) scale(1.162 1)" font-size="10" font-weight="bold" fill="#1c1c1c">M1-G1</text>
<text transform="translate(326.2 479.8) scale(1.134 1)" font-size="12" font-weight="bold" letter-spacing="1.5" fill="#1c1c1c">(-)</text>
<text transform="translate(321.5 526.8) scale(1.205 1)" font-size="10.5" font-weight="bold" fill="#1c1c1c">IL-6</text>
<text transform="translate(278 504) scale(1.194 1)" font-size="10" font-weight="bold" fill="#1c1c1c">M1-G2</text>
<rect x="360.7" y="268.4" width="59.80000000000001" height="90.20000000000005" fill="#fff" stroke="#2e2e2e" stroke-width="0.95"/>
<path d="M360.7 313.8H420.5" stroke="#111" stroke-width="1.5"/>
<path d="M361.09999999999997 268.4V358.6" stroke="#111" stroke-width="1.9"/>
<path d="M360.7 358.40000000000003H420.5" stroke="#1a1a1a" stroke-width="1.15"/>
<path d="M361.7 270.4h1.6M361.7 274.5h1.6M361.7 278.1h1.6M361.7 281.7h2.2M361.7 285.3h1.8M361.7 288.9h1.6M361.7 292.1h2.2M361.7 295.3h2.2M361.7 298.9h1.8M361.7 302.1h1.8M361.7 305.7h2.2M361.7 309.8h1.6" stroke="#222" stroke-width="0.8"/>
<path d="M361.7 315.8h1.6M361.7 319.9h1.8M361.7 323.1h1.6M361.7 326.3h1.8M361.7 329.9h2.2M361.7 334.0h2.2M361.7 338.1h1.8M361.7 342.2h1.8M361.7 346.3h2.2M361.7 350.4h1.8M361.7 354.0h2.2" stroke="#222" stroke-width="0.8"/>
<path d="M361.7 313.4L362.3 313.5L362.9 313.1L363.5 313.1L364.1 312.5L364.7 311.4L365.3 308.9L365.9 304.4L366.5 298.4L367.1 291.8L367.7 284.0L368.3 278.1L368.9 276.4L369.5 275.6L370.1 280.7L370.7 286.9L371.3 295.4L371.9 300.3L372.5 304.6L373.1 308.8L373.7 311.0L374.3 312.3L374.9 312.7L375.5 313.1L376.1 313.3L376.7 313.2L377.3 313.4L377.9 313.2L378.5 313.3L379.1 313.2L379.7 313.4L380.3 313.4" fill="none" stroke="#333" stroke-width="0.8" stroke-dasharray="0.9 0.9"/>
<path d="M361.7 313.4L362.4 313.2L363.1 313.2L363.8 313.0L364.5 311.8L365.2 310.1L365.9 306.0L366.6 301.6L367.3 291.3L368.0 282.1L368.7 277.7L369.4 272.2L370.1 273.3L370.8 278.4L371.5 287.2L372.2 294.5L372.9 302.7L373.6 306.3L374.3 309.1L375.0 311.0L375.7 311.9L376.4 312.3L377.1 312.5L377.8 312.8L378.5 313.0L379.2 312.5L379.9 312.5L380.6 312.9L381.3 313.0L382.0 313.0L382.7 312.7L383.4 312.8L384.1 313.0L384.8 312.9L385.5 313.0L386.2 313.1L386.9 313.0L387.6 313.1L388.3 313.2L389.0 313.0L389.7 313.2L390.4 313.2L391.1 313.2L391.8 313.2L392.5 313.3L393.2 313.4L393.9 313.4L394.6 313.1L395.3 313.2L396.0 313.2L396.7 313.4L397.4 313.4L398.1 313.2L398.8 313.2L399.5 313.4L400.2 313.4L400.9 313.2L401.6 313.1L402.3 313.3L403.0 313.4L403.7 313.2L404.4 313.3L405.1 313.4L405.8 313.2L406.5 313.3L407.2 313.3L407.9 313.3L408.6 313.5L409.3 313.4L410.0 313.5L410.7 313.3L411.4 313.3L412.1 313.2L412.8 313.5L413.5 313.2L414.2 313.5L414.9 313.3L415.6 313.4L416.3 313.2L417.0 313.2L417.7 313.4L418.4 313.3L419.1 313.2L419.8 313.4" fill="none" stroke="#151515" stroke-width="1.0" stroke-linejoin="round"/>
<path d="M361.7 357.5L362.3 356.7L362.9 356.1L363.5 354.2L364.1 351.7L364.7 348.2L365.3 343.7L365.9 339.2L366.5 333.6L367.1 328.1L367.7 322.5L368.3 319.5L368.9 318.1L369.5 319.1L370.1 322.4L370.7 327.6L371.3 332.5L371.9 336.5L372.5 342.2L373.1 346.7L373.7 349.6L374.3 352.7L374.9 354.6L375.5 355.6L376.1 356.6L376.7 356.8L377.3 356.8L377.9 357.6L378.5 357.1L379.1 357.6L379.7 357.4L380.3 357.5" fill="none" stroke="#333" stroke-width="0.8" stroke-dasharray="0.9 0.9"/>
<path d="M361.7 358.0L362.4 358.0L363.1 358.0L363.8 358.0L364.5 357.9L365.2 357.7L365.9 357.5L366.6 357.6L367.3 357.4L368.0 356.9L368.7 356.4L369.4 355.8L370.1 356.1L370.8 354.6L371.5 354.3L372.2 352.9L372.9 353.0L373.6 352.0L374.3 349.8L375.0 347.1L375.7 348.9L376.4 346.7L377.1 344.7L377.8 343.3L378.5 342.1L379.2 341.6L379.9 339.4L380.6 338.9L381.3 340.4L382.0 339.4L382.7 339.8L383.4 339.4L384.1 341.3L384.8 340.0L385.5 340.0L386.2 341.8L386.9 344.2L387.6 344.5L388.3 346.0L389.0 346.5L389.7 347.3L390.4 347.2L391.1 349.3L391.8 350.6L392.5 351.0L393.2 350.0L393.9 351.7L394.6 352.4L395.3 352.3L396.0 353.7L396.7 354.1L397.4 354.2L398.1 354.7L398.8 355.1L399.5 354.8L400.2 355.5L400.9 355.6L401.6 355.5L402.3 356.0L403.0 356.2L403.7 355.7L404.4 355.8L405.1 356.8L405.8 356.8L406.5 356.7L407.2 356.7L407.9 357.0L408.6 356.8L409.3 355.9L410.0 356.9L410.7 356.8L411.4 357.0L412.1 356.8L412.8 357.4L413.5 357.3L414.2 357.1L414.9 357.2L415.6 357.7L416.3 357.3L417.0 357.2L417.7 357.4L418.4 358.1L419.1 357.5L419.8 357.4" fill="none" stroke="#151515" stroke-width="1.0" stroke-linejoin="round"/>
<rect x="360.7" y="363.6" width="59.80000000000001" height="89.19999999999999" fill="#fff" stroke="#2e2e2e" stroke-width="0.95"/>
<path d="M360.7 407.1H420.5" stroke="#111" stroke-width="1.5"/>
<path d="M361.09999999999997 363.6V452.8" stroke="#111" stroke-width="1.9"/>
<path d="M360.7 452.6H420.5" stroke="#1a1a1a" stroke-width="1.15"/>
<path d="M361.7 365.6h1.6M361.7 369.7h1.8M361.7 372.9h2.2M361.7 377.0h2.2M361.7 381.1h1.8M361.7 384.3h1.8M361.7 387.5h2.2M361.7 391.1h1.8M361.7 394.3h1.6M361.7 398.4h2.2M361.7 402.5h1.8" stroke="#222" stroke-width="0.8"/>
<path d="M361.7 409.1h1.8M361.7 412.3h2.2M361.7 416.4h1.8M361.7 420.0h1.8M361.7 424.1h2.2M361.7 428.2h2.2M361.7 432.3h1.6M361.7 435.5h1.6M361.7 439.1h1.8M361.7 442.3h2.2M361.7 446.4h1.6M361.7 449.6h1.6" stroke="#222" stroke-width="0.8"/>
<path d="M361.7 406.7L362.3 406.7L362.9 406.5L363.5 406.5L364.1 406.6L364.7 406.7L365.3 406.7L365.9 406.4L366.5 406.2L367.1 406.2L367.7 405.2L368.3 403.6L368.9 401.6L369.5 398.5L370.1 394.2L370.7 388.6L371.3 381.5L371.9 377.4L372.5 371.7L373.1 370.6L373.7 371.4L374.3 373.8L374.9 378.3L375.5 384.3L376.1 389.9L376.7 395.4L377.3 399.8L377.9 402.6L378.5 404.5L379.1 405.5L379.7 406.3L380.3 406.3L380.9 406.7L381.5 406.7L382.1 406.7L382.7 406.7L383.3 406.8L383.9 406.6L384.5 406.5" fill="none" stroke="#333" stroke-width="0.8" stroke-dasharray="0.9 0.9"/>
<path d="M361.7 406.5L362.4 406.7L363.1 406.6L363.8 406.7L364.5 406.7L365.2 406.4L365.9 406.4L366.6 406.0L367.3 405.8L368.0 404.4L368.7 403.1L369.4 399.4L370.1 394.9L370.8 388.4L371.5 382.4L372.2 378.6L372.9 370.4L373.6 369.8L374.3 369.6L375.0 373.4L375.7 379.8L376.4 384.8L377.1 390.2L377.8 395.0L378.5 399.4L379.2 402.3L379.9 404.0L380.6 405.2L381.3 405.3L382.0 405.8L382.7 406.2L383.4 406.3L384.1 406.0L384.8 406.3L385.5 406.2L386.2 406.4L386.9 406.3L387.6 406.5L388.3 406.6L389.0 406.4L389.7 406.6L390.4 406.6L391.1 406.6L391.8 406.5L392.5 406.5L393.2 406.6L393.9 406.7L394.6 406.6L395.3 406.5L396.0 406.6L396.7 406.6L397.4 406.6L398.1 406.7L398.8 406.6L399.5 406.5L400.2 406.6L400.9 406.7L401.6 406.7L402.3 406.5L403.0 406.5L403.7 406.7L404.4 406.6L405.1 406.6L405.8 406.8L406.5 406.8L407.2 406.7L407.9 406.7L408.6 406.7L409.3 406.6L410.0 406.6L410.7 406.7L411.4 406.5L412.1 406.6L412.8 406.5L413.5 406.7L414.2 406.7L414.9 406.5L415.6 406.6L416.3 406.7L417.0 406.6L417.7 406.7L418.4 406.5L419.1 406.7L419.8 406.6" fill="none" stroke="#151515" stroke-width="1.0" stroke-linejoin="round"/>
<path d="M361.7 452.3L362.3 452.2L362.9 452.5L363.5 452.4L364.1 452.2L364.7 452.5L365.3 452.3L365.9 452.3L366.5 452.4L367.1 452.2L367.7 452.2L368.3 452.4L368.9 452.4L369.5 451.8L370.1 451.0L370.7 449.2L371.3 446.4L371.9 440.1L372.5 433.3L373.1 423.9L373.7 417.2L374.3 413.4L374.9 412.7L375.5 416.0L376.1 421.3L376.7 429.3L377.3 436.1L377.9 442.5L378.5 446.3L379.1 449.4L379.7 450.9L380.3 451.7L380.9 452.3L381.5 452.3L382.1 452.4L382.7 452.2L383.3 452.3L383.9 452.4L384.5 452.5L385.1 452.3L385.7 452.5" fill="none" stroke="#333" stroke-width="0.8" stroke-dasharray="0.9 0.9"/>
<path d="M361.7 452.2L362.4 452.2L363.1 452.4L363.8 452.4L364.5 452.5L365.2 452.2L365.9 452.4L366.6 452.3L367.3 452.2L368.0 451.9L368.7 450.8L369.4 450.2L370.1 448.7L370.8 446.0L371.5 442.9L372.2 439.2L372.9 433.3L373.6 433.9L374.3 431.5L375.0 430.2L375.7 433.6L376.4 435.0L377.1 433.6L377.8 436.9L378.5 437.4L379.2 438.6L379.9 439.8L380.6 440.5L381.3 440.3L382.0 443.7L382.7 442.6L383.4 443.2L384.1 444.0L384.8 444.9L385.5 444.9L386.2 445.5L386.9 445.3L387.6 446.0L388.3 446.5L389.0 446.5L389.7 447.2L390.4 447.4L391.1 447.5L391.8 447.8L392.5 447.8L393.2 448.0L393.9 448.5L394.6 448.2L395.3 449.5L396.0 449.2L396.7 449.5L397.4 449.5L398.1 449.8L398.8 450.2L399.5 449.6L400.2 450.6L400.9 450.5L401.6 450.1L402.3 450.8L403.0 450.2L403.7 450.4L404.4 450.6L405.1 450.8L405.8 451.0L406.5 451.3L407.2 450.7L407.9 451.1L408.6 451.5L409.3 451.3L410.0 451.4L410.7 451.5L411.4 451.6L412.1 451.3L412.8 451.5L413.5 451.6L414.2 451.7L414.9 451.8L415.6 452.0L416.3 451.4L417.0 452.0L417.7 452.0L418.4 451.9L419.1 451.9L419.8 451.9" fill="none" stroke="#151515" stroke-width="1.0" stroke-linejoin="round"/>
<rect x="360.7" y="457" width="59.80000000000001" height="89.29999999999995" fill="#fff" stroke="#2e2e2e" stroke-width="0.95"/>
<path d="M360.7 500.7H420.5" stroke="#111" stroke-width="1.5"/>
<path d="M361.09999999999997 457V546.3" stroke="#111" stroke-width="1.9"/>
<path d="M360.7 546.0999999999999H420.5" stroke="#1a1a1a" stroke-width="1.15"/>
<path d="M361.7 459.0h1.8M361.7 462.6h1.8M361.7 466.2h1.8M361.7 470.3h1.8M361.7 474.4h1.6M361.7 478.0h1.6M361.7 482.1h1.6M361.7 485.3h1.6M361.7 488.9h2.2M361.7 492.1h2.2M361.7 496.2h1.6" stroke="#222" stroke-width="0.8"/>
<path d="M361.7 502.7h1.6M361.7 505.9h1.6M361.7 510.0h2.2M361.7 513.2h1.8M361.7 516.4h2.2M361.7 519.6h2.2M361.7 523.7h1.8M361.7 527.3h1.8M361.7 530.9h2.2M361.7 535.0h2.2M361.7 538.6h1.8M361.7 542.2h1.8" stroke="#222" stroke-width="0.8"/>
<path d="M361.7 500.2L362.3 500.3L362.9 499.8L363.5 499.2L364.1 498.2L364.7 495.1L365.3 491.6L365.9 486.2L366.5 478.7L367.1 471.6L367.7 466.7L368.3 466.2L368.9 465.8L369.5 470.5L370.1 476.6L370.7 483.1L371.3 488.5L371.9 493.4L372.5 496.6L373.1 498.0L373.7 499.3L374.3 499.8L374.9 500.0L375.5 500.3L376.1 500.1L376.7 500.2L377.3 500.3L377.9 500.3L378.5 500.3L379.1 500.1L379.7 500.2" fill="none" stroke="#333" stroke-width="0.8" stroke-dasharray="0.9 0.9"/>
<path d="M361.7 500.4L362.4 500.1L363.1 499.5L363.8 498.6L364.5 496.1L365.2 491.0L365.9 486.7L366.6 479.3L367.3 470.2L368.0 463.3L368.7 460.5L369.4 464.5L370.1 470.7L370.8 477.0L371.5 482.3L372.2 486.2L372.9 491.0L373.6 492.7L374.3 493.2L375.0 493.8L375.7 494.5L376.4 495.4L377.1 494.8L377.8 495.3L378.5 495.8L379.2 496.8L379.9 497.1L380.6 497.5L381.3 497.8L382.0 498.4L382.7 498.3L383.4 498.5L384.1 497.9L384.8 498.3L385.5 498.6L386.2 499.2L386.9 498.8L387.6 499.4L388.3 499.2L389.0 499.0L389.7 499.2L390.4 499.6L391.1 499.3L391.8 499.4L392.5 499.7L393.2 499.8L393.9 499.6L394.6 499.8L395.3 499.9L396.0 499.8L396.7 499.9L397.4 500.0L398.1 499.8L398.8 500.1L399.5 500.1L400.2 500.0L400.9 500.2L401.6 500.2L402.3 500.0L403.0 500.1L403.7 500.1L404.4 500.2L405.1 500.2L405.8 500.1L406.5 500.2L407.2 500.0L407.9 500.0L408.6 500.3L409.3 500.0L410.0 500.3L410.7 500.2L411.4 500.2L412.1 500.1L412.8 500.1L413.5 500.3L414.2 500.2L414.9 500.1L415.6 500.2L416.3 500.3L417.0 500.3L417.7 500.3L418.4 500.1L419.1 500.1L419.8 500.4" fill="none" stroke="#151515" stroke-width="1.0" stroke-linejoin="round"/>
<path d="M361.7 545.8L362.3 546.0L362.9 546.0L363.5 545.8L364.1 546.0L364.7 546.0L365.3 546.0L365.9 545.9L366.5 545.8L367.1 545.9L367.7 545.6L368.3 545.6L368.9 545.1L369.5 543.9L370.1 541.7L370.7 537.7L371.3 532.5L371.9 524.7L372.5 516.5L373.1 509.4L373.7 504.9L374.3 504.0L374.9 507.2L375.5 511.7L376.1 519.1L376.7 526.6L377.3 532.9L377.9 536.9L378.5 540.2L379.1 542.9L379.7 544.2L380.3 545.2L380.9 545.5L381.5 545.6L382.1 546.0L382.7 545.8L383.3 545.8L383.9 545.9L384.5 546.0L385.1 545.8" fill="none" stroke="#333" stroke-width="0.8" stroke-dasharray="0.9 0.9"/>
<path d="M361.7 545.7L362.4 545.7L363.1 546.0L363.8 545.7L364.5 545.8L365.2 545.8L365.9 545.8L366.6 545.9L367.3 545.7L368.0 545.5L368.7 544.7L369.4 543.3L370.1 541.3L370.8 538.3L371.5 534.7L372.2 531.3L372.9 526.6L373.6 521.9L374.3 520.7L375.0 522.7L375.7 521.9L376.4 522.4L377.1 524.1L377.8 528.2L378.5 529.6L379.2 531.7L379.9 531.0L380.6 533.4L381.3 534.3L382.0 535.0L382.7 535.1L383.4 536.7L384.1 535.7L384.8 536.9L385.5 537.9L386.2 538.3L386.9 539.0L387.6 539.9L388.3 538.5L389.0 540.6L389.7 540.6L390.4 540.2L391.1 540.2L391.8 541.4L392.5 541.5L393.2 541.8L393.9 542.1L394.6 542.1L395.3 541.6L396.0 542.2L396.7 543.2L397.4 543.2L398.1 542.3L398.8 542.7L399.5 543.4L400.2 543.3L400.9 543.5L401.6 543.6L402.3 543.7L403.0 544.2L403.7 543.9L404.4 544.0L405.1 544.7L405.8 544.7L406.5 544.3L407.2 544.5L407.9 544.9L408.6 544.8L409.3 544.6L410.0 545.4L410.7 544.7L411.4 545.3L412.1 545.1L412.8 545.3L413.5 545.2L414.2 545.2L414.9 545.3L415.6 545.3L416.3 544.9L417.0 545.5L417.7 545.5L418.4 545.7L419.1 545.5L419.8 545.7" fill="none" stroke="#151515" stroke-width="1.0" stroke-linejoin="round"/>
<rect x="429.2" y="268.4" width="59.19999999999999" height="90.20000000000005" fill="#fff" stroke="#2e2e2e" stroke-width="0.95"/>
<path d="M429.2 313.8H488.4" stroke="#111" stroke-width="1.5"/>
<path d="M429.59999999999997 268.4V358.6" stroke="#111" stroke-width="1.9"/>
<path d="M429.2 358.40000000000003H488.4" stroke="#1a1a1a" stroke-width="1.15"/>
<path d="M430.2 270.4h2.2M430.2 273.6h2.2M430.2 277.7h1.6M430.2 280.9h1.8M430.2 284.1h2.2M430.2 288.2h1.6M430.2 292.3h1.6M430.2 295.5h1.6M430.2 299.1h2.2M430.2 302.3h1.6M430.2 305.5h1.8M430.2 309.1h1.6" stroke="#222" stroke-width="0.8"/>
<path d="M430.2 315.8h1.6M430.2 319.4h1.8M430.2 323.5h1.6M430.2 326.7h1.8M430.2 330.3h2.2M430.2 333.9h2.2M430.2 338.0h2.2M430.2 341.2h1.8M430.2 344.4h1.8M430.2 348.5h2.2M430.2 352.1h2.2M430.2 355.3h1.8" stroke="#222" stroke-width="0.8"/>
<path d="M430.2 313.3L430.8 312.6L431.4 312.1L432.0 311.1L432.6 309.2L433.2 305.9L433.8 300.8L434.4 294.3L435.0 288.2L435.6 282.7L436.2 279.2L436.8 277.5L437.4 279.2L438.0 284.3L438.6 291.1L439.2 296.5L439.8 302.4L440.4 307.3L441.0 309.7L441.6 311.5L442.2 312.6L442.8 313.1L443.4 313.4L444.0 313.2L444.6 313.2L445.2 313.2L445.8 313.4L446.4 313.5L447.0 313.5L447.6 313.2" fill="none" stroke="#333" stroke-width="0.8" stroke-dasharray="0.9 0.9"/>
<path d="M430.2 313.0L430.9 312.7L431.6 312.3L432.3 310.5L433.0 307.6L433.7 302.1L434.4 295.4L435.1 290.7L435.8 281.4L436.5 277.6L437.2 276.3L437.9 278.7L438.6 284.6L439.3 289.8L440.0 296.2L440.7 302.5L441.4 305.0L442.1 309.0L442.8 310.5L443.5 311.3L444.2 311.7L444.9 311.8L445.6 312.1L446.3 312.4L447.0 311.9L447.7 312.3L448.4 312.5L449.1 312.3L449.8 313.0L450.5 313.0L451.2 312.3L451.9 312.7L452.6 312.9L453.3 312.9L454.0 313.0L454.7 313.1L455.4 313.1L456.1 312.9L456.8 312.9L457.5 313.2L458.2 313.0L458.9 313.1L459.6 313.2L460.3 313.2L461.0 313.1L461.7 313.1L462.4 313.3L463.1 313.2L463.8 313.0L464.5 313.3L465.2 313.2L465.9 313.3L466.6 313.3L467.3 313.2L468.0 313.3L468.7 313.4L469.4 313.5L470.1 313.1L470.8 313.4L471.5 313.3L472.2 313.5L472.9 313.3L473.6 313.3L474.3 313.3L475.0 313.4L475.7 313.3L476.4 313.1L477.1 313.4L477.8 313.3L478.5 313.2L479.2 313.4L479.9 313.3L480.6 313.4L481.3 313.3L482.0 313.1L482.7 313.4L483.4 313.2L484.1 313.4L484.8 313.3L485.5 313.3L486.2 313.3L486.9 313.3L487.6 313.2" fill="none" stroke="#151515" stroke-width="1.0" stroke-linejoin="round"/>
<path d="M430.2 355.3L430.8 352.4L431.4 348.6L432.0 344.5L432.6 339.4L433.2 332.5L433.8 326.1L434.4 321.6L435.0 317.7L435.6 316.8L436.2 320.0L436.8 323.2L437.4 327.2L438.0 333.0L438.6 339.2L439.2 344.1L439.8 348.6L440.4 351.1L441.0 354.1L441.6 355.8L442.2 356.6L442.8 357.5L443.4 357.8L444.0 357.9L444.6 358.2L445.2 358.1L445.8 358.1L446.4 358.0" fill="none" stroke="#333" stroke-width="0.8" stroke-dasharray="0.9 0.9"/>
<path d="M430.2 358.1L430.9 358.2L431.6 358.1L432.3 358.1L433.0 358.2L433.7 358.0L434.4 357.5L435.1 356.7L435.8 356.1L436.5 353.6L437.2 350.4L437.9 346.2L438.6 337.2L439.3 333.1L440.0 328.7L440.7 325.0L441.4 327.5L442.1 328.5L442.8 331.6L443.5 338.1L444.2 342.3L444.9 346.4L445.6 348.9L446.3 350.1L447.0 351.9L447.7 353.5L448.4 353.9L449.1 354.8L449.8 355.3L450.5 355.2L451.2 355.6L451.9 355.8L452.6 356.3L453.3 356.4L454.0 356.4L454.7 356.0L455.4 356.6L456.1 356.9L456.8 357.4L457.5 357.0L458.2 356.8L458.9 357.3L459.6 357.1L460.3 357.7L461.0 357.2L461.7 357.4L462.4 357.4L463.1 357.6L463.8 357.6L464.5 357.6L465.2 357.6L465.9 357.6L466.6 357.9L467.3 358.2L468.0 358.0L468.7 357.8L469.4 357.8L470.1 357.8L470.8 358.1L471.5 358.1L472.2 358.1L472.9 357.7L473.6 357.9L474.3 358.1L475.0 357.9L475.7 358.0L476.4 358.1L477.1 358.2L477.8 358.2L478.5 358.1L479.2 358.0L479.9 358.0L480.6 358.1L481.3 358.1L482.0 358.0L482.7 358.1L483.4 358.1L484.1 358.0L484.8 358.0L485.5 358.1L486.2 358.2L486.9 358.0L487.6 358.3" fill="none" stroke="#151515" stroke-width="1.0" stroke-linejoin="round"/>
<rect x="429.2" y="363.6" width="59.19999999999999" height="89.19999999999999" fill="#fff" stroke="#2e2e2e" stroke-width="0.95"/>
<path d="M429.2 407.1H488.4" stroke="#111" stroke-width="1.5"/>
<path d="M429.59999999999997 363.6V452.8" stroke="#111" stroke-width="1.9"/>
<path d="M429.2 452.6H488.4" stroke="#1a1a1a" stroke-width="1.15"/>
<path d="M430.2 365.6h2.2M430.2 369.7h2.2M430.2 373.3h1.6M430.2 376.5h1.8M430.2 379.7h2.2M430.2 383.8h2.2M430.2 387.9h1.6M430.2 391.5h1.8M430.2 395.6h1.8M430.2 398.8h1.8M430.2 402.4h1.6" stroke="#222" stroke-width="0.8"/>
<path d="M430.2 409.1h1.6M430.2 412.3h1.8M430.2 415.9h1.6M430.2 419.1h2.2M430.2 423.2h1.6M430.2 427.3h1.8M430.2 430.5h2.2M430.2 434.1h2.2M430.2 438.2h2.2M430.2 441.4h1.8M430.2 445.5h2.2M430.2 449.6h1.6" stroke="#222" stroke-width="0.8"/>
<path d="M430.2 406.6L430.8 406.7L431.4 406.4L432.0 406.4L432.6 405.7L433.2 404.2L433.8 402.0L434.4 398.8L435.0 394.4L435.6 388.4L436.2 383.1L436.8 378.2L437.4 372.7L438.0 374.1L438.6 375.7L439.2 380.9L439.8 387.4L440.4 391.8L441.0 397.6L441.6 401.1L442.2 403.7L442.8 405.3L443.4 406.1L444.0 406.4L444.6 406.5L445.2 406.7L445.8 406.6L446.4 406.8L447.0 406.5L447.6 406.6L448.2 406.7L448.8 406.6" fill="none" stroke="#333" stroke-width="0.8" stroke-dasharray="0.9 0.9"/>
<path d="M430.2 406.5L430.9 406.6L431.6 406.3L432.3 405.8L433.0 404.8L433.7 401.9L434.4 398.1L435.1 393.4L435.8 387.7L436.5 379.1L437.2 374.7L437.9 369.4L438.6 371.3L439.3 376.4L440.0 379.5L440.7 385.6L441.4 391.4L442.1 393.1L442.8 396.1L443.5 397.9L444.2 399.7L444.9 400.8L445.6 401.7L446.3 401.9L447.0 402.8L447.7 403.4L448.4 402.8L449.1 403.8L449.8 403.0L450.5 403.7L451.2 403.9L451.9 404.7L452.6 404.9L453.3 404.8L454.0 405.4L454.7 405.6L455.4 405.5L456.1 405.6L456.8 405.8L457.5 405.9L458.2 405.9L458.9 406.0L459.6 406.0L460.3 406.4L461.0 406.3L461.7 406.1L462.4 406.4L463.1 406.5L463.8 406.1L464.5 406.2L465.2 406.3L465.9 406.6L466.6 406.5L467.3 406.5L468.0 406.6L468.7 406.6L469.4 406.5L470.1 406.5L470.8 406.5L471.5 406.4L472.2 406.7L472.9 406.7L473.6 406.4L474.3 406.6L475.0 406.7L475.7 406.6L476.4 406.5L477.1 406.6L477.8 406.5L478.5 406.5L479.2 406.6L479.9 406.5L480.6 406.5L481.3 406.5L482.0 406.5L482.7 406.7L483.4 406.6L484.1 406.7L484.8 406.7L485.5 406.7L486.2 406.6L486.9 406.5L487.6 406.7" fill="none" stroke="#151515" stroke-width="1.0" stroke-linejoin="round"/>
<path d="M430.2 452.2L430.8 452.3L431.4 452.4L432.0 452.3L432.6 452.4L433.2 452.3L433.8 452.0L434.4 451.9L435.0 451.1L435.6 450.6L436.2 449.3L436.8 447.6L437.4 444.9L438.0 441.1L438.6 437.8L439.2 431.8L439.8 428.0L440.4 422.6L441.0 416.8L441.6 416.7L442.2 416.7L442.8 417.7L443.4 421.0L444.0 426.2L444.6 429.7L445.2 435.8L445.8 439.5L446.4 444.0L447.0 446.3L447.6 448.8L448.2 450.0L448.8 451.0L449.4 451.8L450.0 452.1L450.6 452.2L451.2 452.3L451.8 452.4L452.4 452.3L453.0 452.4" fill="none" stroke="#333" stroke-width="0.8" stroke-dasharray="0.9 0.9"/>
<path d="M430.2 452.2L430.9 452.4L431.6 452.4L432.3 452.3L433.0 452.2L433.7 452.0L434.4 451.9L435.1 450.8L435.8 449.5L436.5 448.3L437.2 445.1L437.9 441.8L438.6 435.4L439.3 431.8L440.0 425.2L440.7 418.4L441.4 414.4L442.1 412.2L442.8 410.0L443.5 416.4L444.2 421.6L444.9 425.9L445.6 432.1L446.3 436.9L447.0 437.4L447.7 438.3L448.4 442.6L449.1 443.2L449.8 444.3L450.5 446.4L451.2 447.7L451.9 448.2L452.6 450.6L453.3 451.3L454.0 451.2L454.7 451.9L455.4 452.1L456.1 452.1L456.8 452.1L457.5 452.1L458.2 452.2L458.9 452.0L459.6 452.4L460.3 452.3L461.0 452.3L461.7 452.1L462.4 452.1L463.1 452.2L463.8 452.1L464.5 452.3L465.2 452.4L465.9 452.4L466.6 452.3L467.3 452.3L468.0 452.4L468.7 452.4L469.4 452.3L470.1 452.2L470.8 452.5L471.5 452.2L472.2 452.3L472.9 452.5L473.6 452.4L474.3 452.4L475.0 452.2L475.7 452.4L476.4 452.4L477.1 452.5L477.8 452.5L478.5 452.4L479.2 452.2L479.9 452.3L480.6 452.4L481.3 452.4L482.0 452.5L482.7 452.4L483.4 452.4L484.1 452.4L484.8 452.4L485.5 452.3L486.2 452.5L486.9 452.4L487.6 452.4" fill="none" stroke="#151515" stroke-width="1.0" stroke-linejoin="round"/>
<rect x="429.2" y="457" width="59.19999999999999" height="89.29999999999995" fill="#fff" stroke="#2e2e2e" stroke-width="0.95"/>
<path d="M429.2 500.7H488.4" stroke="#111" stroke-width="1.5"/>
<path d="M429.59999999999997 457V546.3" stroke="#111" stroke-width="1.9"/>
<path d="M429.2 546.0999999999999H488.4" stroke="#1a1a1a" stroke-width="1.15"/>
<path d="M430.2 459.0h2.2M430.2 463.1h2.2M430.2 466.7h1.8M430.2 470.8h1.6M430.2 474.0h1.8M430.2 477.6h1.8M430.2 481.7h1.6M430.2 484.9h2.2M430.2 488.5h1.6M430.2 491.7h1.8M430.2 495.8h1.8M430.2 499.0h1.8" stroke="#222" stroke-width="0.8"/>
<path d="M430.2 502.7h2.2M430.2 505.9h1.8M430.2 509.1h2.2M430.2 512.7h2.2M430.2 516.8h1.6M430.2 520.4h2.2M430.2 524.0h1.6M430.2 527.6h2.2M430.2 531.2h1.6M430.2 534.8h1.8M430.2 538.0h1.8M430.2 542.1h1.6" stroke="#222" stroke-width="0.8"/>
<path d="M430.2 500.2L430.8 500.4L431.4 500.3L432.0 500.2L432.6 500.2L433.2 500.2L433.8 500.3L434.4 500.0L435.0 500.0L435.6 499.5L436.2 498.9L436.8 497.8L437.4 495.3L438.0 492.7L438.6 488.0L439.2 483.9L439.8 478.1L440.4 473.0L441.0 469.5L441.6 467.5L442.2 468.3L442.8 470.1L443.4 474.9L444.0 480.0L444.6 485.0L445.2 490.4L445.8 494.2L446.4 496.9L447.0 498.3L447.6 499.1L448.2 499.7L448.8 500.0L449.4 500.2L450.0 500.1L450.6 500.3L451.2 500.2L451.8 500.3L452.4 500.2L453.0 500.3" fill="none" stroke="#333" stroke-width="0.8" stroke-dasharray="0.9 0.9"/>
<path d="M430.2 500.2L430.9 500.2L431.6 500.3L432.3 500.3L433.0 500.1L433.7 500.1L434.4 500.2L435.1 499.6L435.8 498.8L436.5 497.7L437.2 495.8L437.9 492.2L438.6 487.5L439.3 480.0L440.0 473.2L440.7 469.7L441.4 464.6L442.1 462.6L442.8 462.9L443.5 466.7L444.2 471.5L444.9 477.3L445.6 483.3L446.3 488.1L447.0 492.5L447.7 495.4L448.4 496.9L449.1 498.3L449.8 499.2L450.5 499.4L451.2 499.8L451.9 499.6L452.6 499.7L453.3 500.0L454.0 499.9L454.7 499.7L455.4 499.8L456.1 499.9L456.8 500.1L457.5 500.1L458.2 500.2L458.9 500.2L459.6 499.9L460.3 500.1L461.0 500.2L461.7 500.1L462.4 499.9L463.1 500.2L463.8 500.0L464.5 500.3L465.2 499.9L465.9 500.1L466.6 500.2L467.3 500.2L468.0 500.3L468.7 500.1L469.4 500.2L470.1 500.3L470.8 500.2L471.5 500.2L472.2 500.4L472.9 500.2L473.6 500.2L474.3 500.3L475.0 500.2L475.7 500.1L476.4 500.3L477.1 500.3L477.8 500.3L478.5 500.2L479.2 500.2L479.9 500.2L480.6 500.2L481.3 500.3L482.0 500.1L482.7 500.3L483.4 500.3L484.1 500.3L484.8 500.2L485.5 500.3L486.2 500.3L486.9 500.3L487.6 500.2" fill="none" stroke="#151515" stroke-width="1.0" stroke-linejoin="round"/>
<path d="M430.2 545.7L430.9 546.0L431.6 545.7L432.3 545.7L433.0 545.8L433.7 545.7L434.4 545.7L435.1 545.0L435.8 544.3L436.5 542.4L437.2 539.2L437.9 535.4L438.6 527.5L439.3 519.5L440.0 513.2L440.7 507.8L441.4 504.5L442.1 507.9L442.8 510.1L443.5 515.4L444.2 523.5L444.9 529.7L445.6 534.5L446.3 538.5L447.0 541.1L447.7 542.4L448.4 544.0L449.1 544.9L449.8 544.5L450.5 544.5L451.2 545.0L451.9 545.3L452.6 545.4L453.3 545.5L454.0 545.4L454.7 545.4L455.4 545.5L456.1 545.5L456.8 545.6L457.5 545.4L458.2 545.5L458.9 545.6L459.6 545.6L460.3 545.5L461.0 545.7L461.7 545.4L462.4 545.6L463.1 545.7L463.8 545.9L464.5 545.8L465.2 545.6L465.9 545.8L466.6 545.6L467.3 545.8L468.0 545.8L468.7 545.7L469.4 545.9L470.1 545.8L470.8 546.0L471.5 545.9L472.2 545.9L472.9 545.8L473.6 545.6L474.3 545.8L475.0 545.8L475.7 545.8L476.4 545.9L477.1 545.7L477.8 545.7L478.5 545.7L479.2 545.7L479.9 545.9L480.6 545.9L481.3 545.9L482.0 546.0L482.7 545.7L483.4 545.8L484.1 545.8L484.8 545.7L485.5 545.9L486.2 545.9L486.9 545.9L487.6 545.9" fill="none" stroke="#151515" stroke-width="1.0" stroke-linejoin="round"/>
<path d="M505.1 546.6V292" stroke="#4a4a4a" stroke-width="1.3"/><path d="M505.1 285.2l-2.9 12.4 2.9-2.8 2.9 2.8z" fill="#111"/>
<path d="M347.5 562.8H498" stroke="#1a1a1a" stroke-width="1.5"/><path d="M504.6 562.8l-10.2-2.9 2.3 2.9-2.3 2.9z" fill="#111"/>
<text transform="translate(511.2 353.6) rotate(90) scale(1.015 1)" font-size="11.2" letter-spacing="1.15" fill="#222">Relative cell number</text>
<text transform="translate(348.1 580.9) scale(1.025 1)" font-size="11.2" letter-spacing="1.0" fill="#111" stroke="#111" stroke-width="0.22">Log</text>
<text transform="translate(377.2 580.9) scale(1.018 1)" font-size="11.2" letter-spacing="0.8" fill="#111" stroke="#111" stroke-width="0.22">fluorescence</text>
<text transform="translate(455.8 580.9) scale(1.032 1)" font-size="11.2" letter-spacing="1.1" fill="#111" stroke="#111" stroke-width="0.22">intensity</text>
</svg>
</body>
</html>
